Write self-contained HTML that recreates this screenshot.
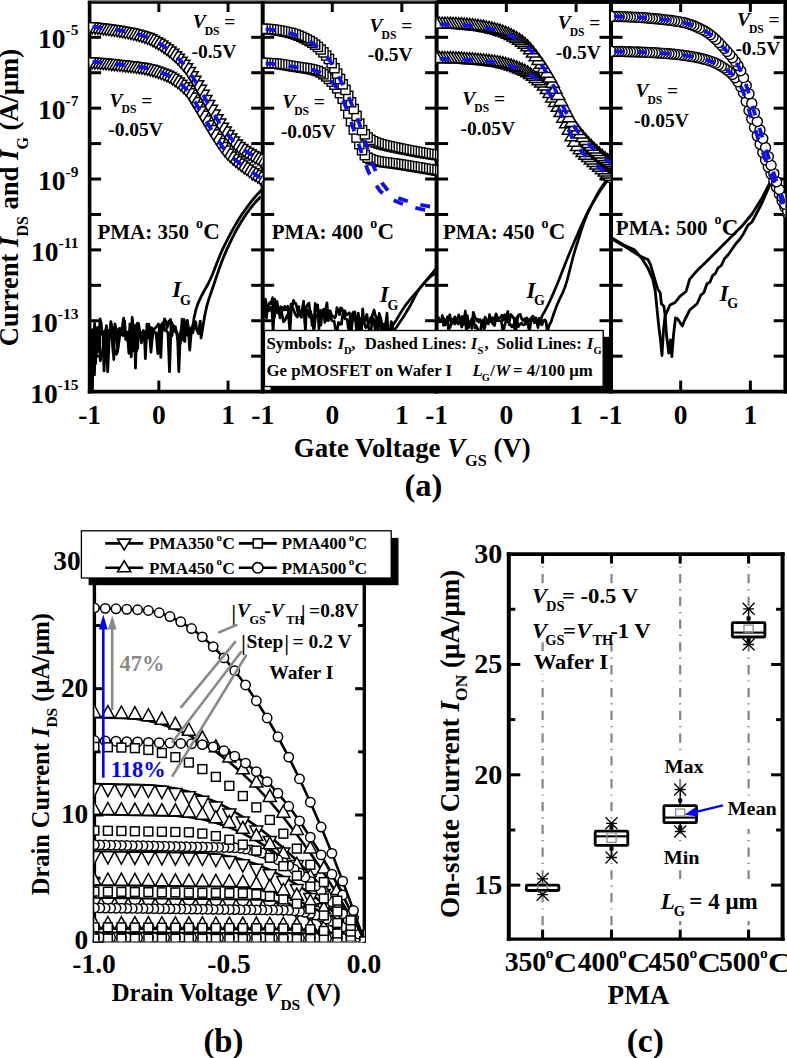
<!DOCTYPE html>
<html><head><meta charset="utf-8"><style>
html,body{margin:0;padding:0;background:#fff;width:787px;height:1058px;overflow:hidden}
svg{display:block}
</style></head><body>
<svg width="787" height="1058" viewBox="0 0 787 1058" font-family="Liberation Serif" font-weight="bold">
<rect width="787" height="1058" fill="#fff"/>
<line x1="88.00" y1="0.60" x2="436.60" y2="0.60" stroke="#808080" stroke-width="1.2" />
<line x1="89.60" y1="1.20" x2="89.60" y2="393.45" stroke="#000" stroke-width="3.6" />
<line x1="262.70" y1="1.20" x2="262.70" y2="393.45" stroke="#000" stroke-width="4.0" />
<line x1="436.60" y1="1.20" x2="436.60" y2="393.45" stroke="#000" stroke-width="4.0" />
<line x1="611.00" y1="0.00" x2="611.00" y2="393.45" stroke="#000" stroke-width="4.0" />
<line x1="785.20" y1="0.00" x2="785.20" y2="393.45" stroke="#000" stroke-width="3.6" />
<line x1="87.80" y1="2.50" x2="787.20" y2="2.50" stroke="#000" stroke-width="2.6" />
<line x1="436.60" y1="1.90" x2="787.20" y2="1.90" stroke="#000" stroke-width="3.8" />
<line x1="87.80" y1="391.60" x2="787.20" y2="391.60" stroke="#000" stroke-width="3.7" />
<line x1="89.60" y1="37.30" x2="101.10" y2="37.30" stroke="#000" stroke-width="3" />
<line x1="251.20" y1="37.30" x2="274.20" y2="37.30" stroke="#000" stroke-width="3" />
<line x1="425.10" y1="37.30" x2="448.10" y2="37.30" stroke="#000" stroke-width="3" />
<line x1="599.50" y1="37.30" x2="622.50" y2="37.30" stroke="#000" stroke-width="3" />
<line x1="773.70" y1="37.30" x2="785.20" y2="37.30" stroke="#000" stroke-width="3" />
<line x1="89.60" y1="72.73" x2="101.10" y2="72.73" stroke="#000" stroke-width="3" />
<line x1="251.20" y1="72.73" x2="274.20" y2="72.73" stroke="#000" stroke-width="3" />
<line x1="425.10" y1="72.73" x2="448.10" y2="72.73" stroke="#000" stroke-width="3" />
<line x1="599.50" y1="72.73" x2="622.50" y2="72.73" stroke="#000" stroke-width="3" />
<line x1="773.70" y1="72.73" x2="785.20" y2="72.73" stroke="#000" stroke-width="3" />
<line x1="89.60" y1="108.16" x2="101.10" y2="108.16" stroke="#000" stroke-width="3" />
<line x1="251.20" y1="108.16" x2="274.20" y2="108.16" stroke="#000" stroke-width="3" />
<line x1="425.10" y1="108.16" x2="448.10" y2="108.16" stroke="#000" stroke-width="3" />
<line x1="599.50" y1="108.16" x2="622.50" y2="108.16" stroke="#000" stroke-width="3" />
<line x1="773.70" y1="108.16" x2="785.20" y2="108.16" stroke="#000" stroke-width="3" />
<line x1="89.60" y1="143.59" x2="101.10" y2="143.59" stroke="#000" stroke-width="3" />
<line x1="251.20" y1="143.59" x2="274.20" y2="143.59" stroke="#000" stroke-width="3" />
<line x1="425.10" y1="143.59" x2="448.10" y2="143.59" stroke="#000" stroke-width="3" />
<line x1="599.50" y1="143.59" x2="622.50" y2="143.59" stroke="#000" stroke-width="3" />
<line x1="773.70" y1="143.59" x2="785.20" y2="143.59" stroke="#000" stroke-width="3" />
<line x1="89.60" y1="179.02" x2="101.10" y2="179.02" stroke="#000" stroke-width="3" />
<line x1="251.20" y1="179.02" x2="274.20" y2="179.02" stroke="#000" stroke-width="3" />
<line x1="425.10" y1="179.02" x2="448.10" y2="179.02" stroke="#000" stroke-width="3" />
<line x1="599.50" y1="179.02" x2="622.50" y2="179.02" stroke="#000" stroke-width="3" />
<line x1="773.70" y1="179.02" x2="785.20" y2="179.02" stroke="#000" stroke-width="3" />
<line x1="89.60" y1="214.45" x2="101.10" y2="214.45" stroke="#000" stroke-width="3" />
<line x1="251.20" y1="214.45" x2="274.20" y2="214.45" stroke="#000" stroke-width="3" />
<line x1="425.10" y1="214.45" x2="448.10" y2="214.45" stroke="#000" stroke-width="3" />
<line x1="599.50" y1="214.45" x2="622.50" y2="214.45" stroke="#000" stroke-width="3" />
<line x1="773.70" y1="214.45" x2="785.20" y2="214.45" stroke="#000" stroke-width="3" />
<line x1="89.60" y1="249.88" x2="101.10" y2="249.88" stroke="#000" stroke-width="3" />
<line x1="251.20" y1="249.88" x2="274.20" y2="249.88" stroke="#000" stroke-width="3" />
<line x1="425.10" y1="249.88" x2="448.10" y2="249.88" stroke="#000" stroke-width="3" />
<line x1="599.50" y1="249.88" x2="622.50" y2="249.88" stroke="#000" stroke-width="3" />
<line x1="773.70" y1="249.88" x2="785.20" y2="249.88" stroke="#000" stroke-width="3" />
<line x1="89.60" y1="285.31" x2="101.10" y2="285.31" stroke="#000" stroke-width="3" />
<line x1="251.20" y1="285.31" x2="274.20" y2="285.31" stroke="#000" stroke-width="3" />
<line x1="425.10" y1="285.31" x2="448.10" y2="285.31" stroke="#000" stroke-width="3" />
<line x1="599.50" y1="285.31" x2="622.50" y2="285.31" stroke="#000" stroke-width="3" />
<line x1="773.70" y1="285.31" x2="785.20" y2="285.31" stroke="#000" stroke-width="3" />
<line x1="89.60" y1="320.74" x2="101.10" y2="320.74" stroke="#000" stroke-width="3" />
<line x1="251.20" y1="320.74" x2="274.20" y2="320.74" stroke="#000" stroke-width="3" />
<line x1="425.10" y1="320.74" x2="448.10" y2="320.74" stroke="#000" stroke-width="3" />
<line x1="599.50" y1="320.74" x2="622.50" y2="320.74" stroke="#000" stroke-width="3" />
<line x1="773.70" y1="320.74" x2="785.20" y2="320.74" stroke="#000" stroke-width="3" />
<line x1="89.60" y1="356.17" x2="101.10" y2="356.17" stroke="#000" stroke-width="3" />
<line x1="251.20" y1="356.17" x2="274.20" y2="356.17" stroke="#000" stroke-width="3" />
<line x1="425.10" y1="356.17" x2="448.10" y2="356.17" stroke="#000" stroke-width="3" />
<line x1="599.50" y1="356.17" x2="622.50" y2="356.17" stroke="#000" stroke-width="3" />
<line x1="773.70" y1="356.17" x2="785.20" y2="356.17" stroke="#000" stroke-width="3" />
<line x1="158.84" y1="391.60" x2="158.84" y2="380.60" stroke="#000" stroke-width="3" />
<line x1="158.84" y1="2.00" x2="158.84" y2="12.00" stroke="#000" stroke-width="3" />
<line x1="228.08" y1="391.60" x2="228.08" y2="380.60" stroke="#000" stroke-width="3" />
<line x1="228.08" y1="2.00" x2="228.08" y2="12.00" stroke="#000" stroke-width="3" />
<line x1="332.26" y1="391.60" x2="332.26" y2="380.60" stroke="#000" stroke-width="3" />
<line x1="332.26" y1="2.00" x2="332.26" y2="12.00" stroke="#000" stroke-width="3" />
<line x1="401.82" y1="391.60" x2="401.82" y2="380.60" stroke="#000" stroke-width="3" />
<line x1="401.82" y1="2.00" x2="401.82" y2="12.00" stroke="#000" stroke-width="3" />
<line x1="506.36" y1="391.60" x2="506.36" y2="380.60" stroke="#000" stroke-width="3" />
<line x1="506.36" y1="2.00" x2="506.36" y2="12.00" stroke="#000" stroke-width="3" />
<line x1="576.12" y1="391.60" x2="576.12" y2="380.60" stroke="#000" stroke-width="3" />
<line x1="576.12" y1="2.00" x2="576.12" y2="12.00" stroke="#000" stroke-width="3" />
<line x1="680.68" y1="391.60" x2="680.68" y2="380.60" stroke="#000" stroke-width="3" />
<line x1="680.68" y1="2.00" x2="680.68" y2="12.00" stroke="#000" stroke-width="3" />
<line x1="750.36" y1="391.60" x2="750.36" y2="380.60" stroke="#000" stroke-width="3" />
<line x1="750.36" y1="2.00" x2="750.36" y2="12.00" stroke="#000" stroke-width="3" />
<text x="78.4" y="48.40" font-size="27.5" text-anchor="end">10<tspan font-size="15.5" dy="-13.2">-5</tspan></text>
<text x="78.4" y="119.26" font-size="27.5" text-anchor="end">10<tspan font-size="15.5" dy="-13.2">-7</tspan></text>
<text x="78.4" y="190.12" font-size="27.5" text-anchor="end">10<tspan font-size="15.5" dy="-13.2">-9</tspan></text>
<text x="78.4" y="260.98" font-size="27.5" text-anchor="end">10<tspan font-size="15.5" dy="-13.2">-11</tspan></text>
<text x="78.4" y="331.84" font-size="27.5" text-anchor="end">10<tspan font-size="15.5" dy="-13.2">-13</tspan></text>
<text x="78.4" y="402.70" font-size="27.5" text-anchor="end">10<tspan font-size="15.5" dy="-13.2">-15</tspan></text>
<text x="89.60" y="424.00" font-size="27.5" text-anchor="middle" >-1</text>
<text x="158.84" y="424.00" font-size="27.5" text-anchor="middle" >0</text>
<text x="228.08" y="424.00" font-size="27.5" text-anchor="middle" >1</text>
<text x="262.70" y="424.00" font-size="27.5" text-anchor="middle" >-1</text>
<text x="332.26" y="424.00" font-size="27.5" text-anchor="middle" >0</text>
<text x="401.82" y="424.00" font-size="27.5" text-anchor="middle" >1</text>
<text x="436.60" y="424.00" font-size="27.5" text-anchor="middle" >-1</text>
<text x="506.36" y="424.00" font-size="27.5" text-anchor="middle" >0</text>
<text x="576.12" y="424.00" font-size="27.5" text-anchor="middle" >1</text>
<text x="611.00" y="424.00" font-size="27.5" text-anchor="middle" >-1</text>
<text x="680.68" y="424.00" font-size="27.5" text-anchor="middle" >0</text>
<text x="750.36" y="424.00" font-size="27.5" text-anchor="middle" >1</text>
<text transform="translate(18.2,346.2) rotate(-90)" font-size="26.6">Current <tspan font-style="italic">I</tspan><tspan font-size="16" dy="9.3">DS</tspan><tspan dy="-9.3"> and </tspan><tspan font-style="italic">I</tspan><tspan font-size="16" dy="9.3">G</tspan><tspan dy="-9.3"> (A/μm)</tspan></text>
<text x="293.8" y="456.6" font-size="26.8">Gate Voltage <tspan font-style="italic">V</tspan><tspan font-size="16.3" dy="9">GS</tspan><tspan dy="-9"> (V)</tspan></text>
<text x="423.50" y="495.50" font-size="32.5" text-anchor="middle" >(a)</text>
<text x="192.66" y="28.30" font-size="19.5" text-anchor="start" font-style="italic" >V</text>
<text x="204.66" y="35.10" font-size="11.6" text-anchor="start" >DS</text>
<text x="224.26" y="28.30" font-size="19.5" text-anchor="start" >=</text>
<text x="191.49" y="58.00" font-size="19.5" text-anchor="start" >-0.5V</text>
<text x="109.56" y="106.50" font-size="19.5" text-anchor="start" font-style="italic" >V</text>
<text x="121.56" y="113.30" font-size="11.6" text-anchor="start" >DS</text>
<text x="141.16" y="106.50" font-size="19.5" text-anchor="start" >=</text>
<text x="108.19" y="136.30" font-size="19.5" text-anchor="start" >-0.05V</text>
<text x="369.56" y="31.70" font-size="19.5" text-anchor="start" font-style="italic" >V</text>
<text x="381.56" y="38.50" font-size="11.6" text-anchor="start" >DS</text>
<text x="401.16" y="31.70" font-size="19.5" text-anchor="start" >=</text>
<text x="367.69" y="61.40" font-size="19.5" text-anchor="start" >-0.5V</text>
<text x="282.16" y="108.30" font-size="19.5" text-anchor="start" font-style="italic" >V</text>
<text x="294.16" y="115.10" font-size="11.6" text-anchor="start" >DS</text>
<text x="313.76" y="108.30" font-size="19.5" text-anchor="start" >=</text>
<text x="280.89" y="138.10" font-size="19.5" text-anchor="start" >-0.05V</text>
<text x="557.66" y="29.40" font-size="19.5" text-anchor="start" font-style="italic" >V</text>
<text x="569.66" y="36.20" font-size="11.6" text-anchor="start" >DS</text>
<text x="589.26" y="29.40" font-size="19.5" text-anchor="start" >=</text>
<text x="555.79" y="59.10" font-size="19.5" text-anchor="start" >-0.5V</text>
<text x="462.36" y="105.20" font-size="19.5" text-anchor="start" font-style="italic" >V</text>
<text x="474.36" y="112.00" font-size="11.6" text-anchor="start" >DS</text>
<text x="493.96" y="105.20" font-size="19.5" text-anchor="start" >=</text>
<text x="460.49" y="135.00" font-size="19.5" text-anchor="start" >-0.05V</text>
<text x="736.96" y="26.00" font-size="19.5" text-anchor="start" font-style="italic" >V</text>
<text x="748.96" y="32.80" font-size="11.6" text-anchor="start" >DS</text>
<text x="768.56" y="26.00" font-size="19.5" text-anchor="start" >=</text>
<text x="735.39" y="55.40" font-size="19.5" text-anchor="start" >-0.5V</text>
<text x="635.46" y="97.40" font-size="19.5" text-anchor="start" font-style="italic" >V</text>
<text x="647.46" y="104.20" font-size="11.6" text-anchor="start" >DS</text>
<text x="667.06" y="97.40" font-size="19.5" text-anchor="start" >=</text>
<text x="634.09" y="127.20" font-size="19.5" text-anchor="start" >-0.05V</text>
<text x="97.44" y="239.20" font-size="21" text-anchor="start" >PMA: 350 </text>
<text x="196.04" y="228.40" font-size="14" text-anchor="start" >o</text>
<text x="203.24" y="239.20" font-size="23" text-anchor="start" >C</text>
<text x="271.74" y="239.20" font-size="21" text-anchor="start" >PMA: 400 </text>
<text x="370.34" y="228.40" font-size="14" text-anchor="start" >o</text>
<text x="377.54" y="239.20" font-size="23" text-anchor="start" >C</text>
<text x="442.94" y="239.20" font-size="21" text-anchor="start" >PMA: 450 </text>
<text x="541.54" y="228.40" font-size="14" text-anchor="start" >o</text>
<text x="548.74" y="239.20" font-size="23" text-anchor="start" >C</text>
<text x="615.84" y="234.70" font-size="21" text-anchor="start" >PMA: 500 </text>
<text x="714.44" y="223.90" font-size="14" text-anchor="start" >o</text>
<text x="721.64" y="234.70" font-size="23" text-anchor="start" >C</text>
<text x="172.22" y="297.20" font-size="23" text-anchor="start" font-style="italic" >I</text>
<text x="179.92" y="304.80" font-size="14" text-anchor="start" >G</text>
<text x="379.82" y="302.40" font-size="23" text-anchor="start" font-style="italic" >I</text>
<text x="387.52" y="310.00" font-size="14" text-anchor="start" >G</text>
<text x="526.42" y="297.80" font-size="23" text-anchor="start" font-style="italic" >I</text>
<text x="534.12" y="305.40" font-size="14" text-anchor="start" >G</text>
<text x="719.62" y="300.80" font-size="23" text-anchor="start" font-style="italic" >I</text>
<text x="727.32" y="308.40" font-size="14" text-anchor="start" >G</text>
<g clip-path="url(#ca0)">
<polyline points="90.00,330.19 91.51,366.68 92.43,329.57 93.97,338.42 95.55,363.76 97.14,328.53 98.60,351.61 99.98,318.94 101.08,322.88 102.07,334.33 103.00,331.47 104.01,370.94 105.09,350.91 106.45,325.54 107.67,371.69 109.03,342.73 110.82,321.63 112.01,328.01 113.79,359.53 114.85,323.94 116.69,331.37 117.75,349.90 119.40,338.38 120.48,331.03 122.42,335.29 123.75,335.47 124.63,321.07 125.75,339.34 127.20,332.01 128.91,353.24 129.91,323.96 131.76,347.62 132.78,350.80 134.02,330.72 135.57,325.18 136.50,351.12 137.47,323.06 138.67,328.62 139.66,332.57 141.52,342.75 143.44,330.52 144.36,331.75 145.36,358.66 147.00,324.14 148.14,337.92 149.42,332.99 150.94,352.14 152.18,338.60 153.91,329.32 155.51,327.84 157.44,325.72 158.31,324.01 160.03,328.20 161.72,323.95 162.94,328.49 164.55,318.96 166.27,322.15 167.18,327.74 168.81,321.41 170.64,319.55 171.89,335.75 173.24,328.83 174.24,331.27 175.67,330.94 177.47,333.72 178.83,371.60 180.27,334.80 181.34,329.27 182.50,325.87 184.20,319.63 185.87,330.27 187.11,334.82 188.20,325.91 189.72,350.05 191.54,328.76 193.38,323.67 194.00,318.00 196.00,309.35 198.00,303.35 200.00,299.00 202.00,294.97 204.00,291.28 206.00,287.70 208.00,284.02 210.00,280.00 212.00,275.47 214.00,270.51 216.00,265.34 218.00,260.17 220.00,255.20 222.00,250.64 224.00,246.47 226.00,242.42 228.00,238.47 230.00,234.63 232.00,230.92 234.00,227.33 236.00,223.86 238.00,220.54 240.00,217.35 242.00,214.32 244.00,211.42 246.00,208.61 248.00,205.88 250.00,203.24 252.00,200.70 254.00,198.26 256.00,195.93 258.00,193.72 260.00,191.62 262.00,189.66" fill="none" stroke="#000" stroke-width="2.8" stroke-linejoin="round" />
<polyline points="90.00,365.31 90.94,337.51 92.80,369.70 94.62,323.38 96.21,354.40 97.86,327.28 99.26,327.48 100.29,360.74 101.67,353.08 102.96,350.80 104.45,333.88 106.31,327.74 107.69,334.62 108.98,330.45 110.09,334.17 111.74,330.13 113.31,353.93 114.75,350.63 116.47,354.22 117.56,351.51 118.78,328.75 120.03,328.37 120.87,331.92 122.15,328.29 123.68,318.07 125.02,335.01 126.70,336.45 128.56,343.24 129.86,329.85 131.28,356.81 132.17,317.51 133.47,330.32 134.62,333.18 135.48,368.18 136.56,325.40 137.74,348.56 138.61,323.58 139.77,332.76 141.59,332.49 143.24,333.31 144.28,339.46 145.91,332.61 147.22,331.17 148.84,324.14 150.11,338.40 151.49,327.61 153.28,332.03 155.16,332.26 156.10,332.75 157.85,353.63 159.39,327.19 160.85,357.32 162.05,328.28 163.47,322.18 164.72,330.35 166.10,330.03 168.01,333.06 169.51,371.63 171.22,321.90 172.87,325.27 173.96,327.22 175.33,326.70 177.09,335.52 179.01,343.53 180.25,343.57 182.14,319.03 183.49,340.34 184.76,341.62 185.85,324.61 187.33,320.42 189.10,336.85 190.91,328.41 192.82,332.79 193.94,327.24 195.67,321.80 196.56,329.39 198.41,333.45 200.26,321.13 201.00,338.00 203.00,326.00 205.00,314.36 207.00,305.27 209.00,298.65 211.00,292.90 213.00,287.01 215.00,281.03 217.00,275.10 219.00,269.32 221.00,263.75 223.00,258.48 225.00,253.60 227.00,249.11 229.00,244.79 231.00,240.61 233.00,236.59 235.00,232.72 237.00,229.02 239.00,225.48 241.00,222.10 243.00,218.90 245.00,215.87 247.00,213.02 249.00,210.28 251.00,207.66 253.00,205.15 255.00,202.78 257.00,200.54 259.00,198.45 261.00,196.51" fill="none" stroke="#000" stroke-width="2.8" stroke-linejoin="round" />
<polyline points="90.00,330.00 90.50,388.00 91.50,340.00 92.50,390.00 93.50,335.00 94.50,375.00 95.50,332.00" fill="none" stroke="#000" stroke-width="2.6" stroke-linejoin="round" />
</g>
<g clip-path="url(#ca1)">
<polyline points="264.00,301.69 265.50,299.14 266.39,304.49 267.98,306.66 269.73,302.60 271.06,303.78 272.60,297.65 274.13,318.04 276.04,308.85 277.00,301.56 278.37,309.36 280.19,317.99 282.08,307.34 283.96,309.91 284.85,306.30 285.89,309.90 287.81,306.27 289.75,324.30 291.03,304.07 291.91,308.56 293.42,300.43 294.97,303.31 295.90,303.47 296.97,308.23 297.82,312.50 298.74,306.49 299.97,315.60 301.49,317.36 302.54,307.11 303.62,301.00 305.18,324.11 306.32,307.21 308.13,303.80 309.01,303.15 310.26,314.53 311.87,315.24 313.72,330.15 315.19,303.37 316.69,310.44 317.68,304.86 318.92,329.16 320.56,310.22 321.87,312.41 323.65,309.26 324.78,322.40 325.75,309.06 326.98,302.87 328.35,320.71 330.14,310.71 331.96,315.91 333.58,316.51 334.83,318.01 335.91,315.73 336.87,307.69 338.42,310.94 339.56,314.72 340.58,307.94 341.86,308.57 343.38,312.57 344.78,310.74 346.31,315.27 348.17,313.71 349.26,312.60 350.37,315.91 351.46,330.85 353.11,312.60 354.81,311.75 356.55,332.00 358.23,313.03 359.72,321.91 360.61,318.25 362.17,320.58 363.93,321.71 364.85,320.96 365.81,316.57 366.97,314.33 368.13,325.41 369.62,332.00 371.10,332.00 372.25,315.76 374.11,309.94 375.21,315.18 376.63,317.81 377.84,331.68 379.19,313.47 380.78,318.18 381.69,323.07 383.03,332.00 384.13,328.55 385.64,323.77 387.01,313.10 388.00,332.00 390.00,329.25 392.00,326.41 394.00,323.49 396.00,320.46 398.00,317.20 400.00,313.85 402.00,310.54 404.00,307.43 406.00,304.64 408.00,302.05 410.00,299.59 412.00,297.24 414.00,294.94 416.00,292.66 418.00,290.36 420.00,288.00 422.00,285.59 424.00,283.19 426.00,280.78 428.00,278.37 430.00,275.96 432.00,273.55 434.00,271.14 436.00,268.72" fill="none" stroke="#000" stroke-width="2.7" stroke-linejoin="round" />
<polyline points="264.00,317.06 265.21,303.60 266.39,318.00 267.36,308.90 268.90,310.74 270.79,307.06 272.12,312.86 273.10,332.00 274.83,299.36 276.77,312.54 278.06,312.84 279.38,311.30 280.67,306.69 282.01,313.93 283.44,321.86 285.33,319.60 286.75,316.13 288.35,313.62 289.95,332.00 291.51,305.67 293.33,309.14 295.28,314.14 297.24,317.04 298.23,313.25 300.13,311.11 301.82,314.92 303.64,314.51 304.53,315.42 305.40,332.00 306.38,309.62 307.87,310.91 309.54,317.28 310.77,311.35 312.07,325.32 313.02,325.34 314.24,328.60 315.54,316.31 317.16,315.53 318.04,311.85 319.52,319.83 320.83,325.27 322.21,312.17 323.25,310.89 324.56,316.09 326.35,320.57 328.23,313.66 330.06,311.94 331.67,320.55 332.73,321.05 334.11,321.05 335.85,332.00 337.01,332.00 338.44,322.39 340.14,324.38 341.38,324.18 342.98,313.22 344.22,315.58 345.19,319.00 347.12,319.36 348.89,332.00 350.32,314.72 351.68,323.38 352.97,312.52 354.02,319.40 355.31,320.21 356.79,321.66 358.34,330.35 359.61,323.23 361.47,332.00 362.69,308.73 363.86,321.75 365.76,327.65 367.47,325.93 369.23,322.15 370.71,317.42 371.76,322.79 373.49,318.49 375.14,329.58 376.79,318.99 378.55,325.93 379.43,324.08 380.27,323.31 381.14,332.00 382.42,324.34 384.31,323.99 385.59,324.76 387.10,332.00 388.67,332.00 390.17,330.46 391.27,321.49 392.29,323.50 393.00,332.00 395.00,329.25 397.00,326.41 399.00,323.49 401.00,320.49 403.00,317.40 405.00,314.24 407.00,311.00 409.00,307.68 411.00,304.24 413.00,300.40 415.00,296.43 417.00,292.64 419.00,289.35 421.00,286.77 423.00,284.37 425.00,282.08 427.00,279.94 429.00,277.99 431.00,276.27 433.00,274.81 435.00,273.67" fill="none" stroke="#000" stroke-width="2.7" stroke-linejoin="round" />
</g>
<g clip-path="url(#ca2)">
<polyline points="438.00,316.51 439.47,320.90 441.50,319.80 442.43,318.39 443.63,318.39 445.31,324.92 447.39,316.87 448.45,329.97 450.35,326.64 452.08,319.63 453.75,321.42 454.79,316.84 456.78,321.93 458.24,323.99 460.11,320.07 461.79,327.06 463.71,318.16 465.36,321.49 467.11,323.72 468.90,326.26 470.91,320.46 471.97,328.47 473.23,312.29 474.96,317.31 476.89,320.81 477.79,319.24 478.77,322.11 480.02,319.57 481.10,321.55 483.06,324.83 484.08,323.69 485.09,317.13 487.16,320.59 488.44,323.91 489.52,314.62 490.59,321.66 492.41,317.77 494.09,320.36 495.99,313.90 497.46,317.71 498.77,318.18 500.56,317.53 501.95,315.23 503.47,320.06 504.67,314.74 506.34,320.67 508.35,322.05 509.36,321.44 510.83,314.48 512.02,315.85 513.92,318.40 515.63,332.00 517.13,320.75 518.19,315.13 520.20,314.31 521.75,318.95 523.32,320.80 524.86,318.56 525.96,323.86 527.17,318.83 528.52,320.15 529.65,321.00 530.64,318.52 532.71,316.06 533.76,317.57 534.86,321.92 535.91,317.78 537.97,327.56 539.18,318.16 540.49,324.09 542.00,316.00 544.00,312.57 546.00,308.90 548.00,305.00 550.00,300.81 552.00,296.35 554.00,291.71 556.00,287.00 558.00,282.17 560.00,277.17 562.00,272.06 564.00,266.91 566.00,261.81 568.00,256.81 570.00,252.00 572.00,247.29 574.00,242.56 576.00,237.86 578.00,233.21 580.00,228.63 582.00,224.17 584.00,219.85 586.00,215.69 588.00,211.73 590.00,208.00 592.00,204.44 594.00,200.96 596.00,197.58 598.00,194.30 600.00,191.13 602.00,188.08 604.00,185.15 606.00,182.36 608.00,179.71 610.00,177.20" fill="none" stroke="#000" stroke-width="2.7" stroke-linejoin="round" />
<polyline points="438.00,321.82 439.19,321.87 440.33,321.32 441.37,321.57 442.30,315.48 443.52,325.44 445.23,323.34 446.66,322.59 448.08,320.93 449.81,314.71 451.47,324.18 452.70,319.25 454.73,324.08 456.71,320.97 458.71,314.90 460.76,320.78 462.16,316.29 463.54,324.64 465.34,310.98 466.33,332.00 467.41,315.65 468.66,327.52 470.41,322.03 472.04,318.59 473.65,320.13 474.94,327.87 475.87,325.37 477.12,327.78 478.55,332.00 480.53,330.25 481.81,321.93 483.08,319.84 484.02,329.79 486.01,322.53 487.23,320.37 489.06,320.36 490.95,317.79 492.63,323.61 494.52,325.56 496.44,315.38 497.72,320.73 499.19,320.75 501.22,320.48 503.06,332.00 504.03,327.92 505.85,321.06 507.79,311.31 509.24,324.75 510.15,324.26 511.91,326.94 513.56,324.52 515.18,330.45 516.47,317.95 518.24,326.78 520.16,323.91 521.51,323.24 523.42,325.12 525.16,324.03 526.89,317.98 528.03,324.38 529.39,332.00 530.83,321.86 532.75,317.42 534.38,322.82 536.23,320.34 537.74,320.12 539.49,323.23 540.39,322.52 542.05,324.80 543.74,320.40 545.09,319.88 546.05,321.53 547.29,332.00 549.37,324.89 551.00,322.00 553.00,315.97 555.00,310.28 557.00,305.00 559.00,300.39 561.00,296.25 563.00,291.99 565.00,287.00 567.00,280.62 569.00,273.05 571.00,265.02 573.00,257.24 575.00,250.38 577.00,243.92 579.00,237.55 581.00,231.36 583.00,225.44 585.00,219.86 587.00,214.72 589.00,210.09 591.00,206.00 593.00,202.07 595.00,198.27 597.00,194.63 599.00,191.18 601.00,187.94 603.00,184.95 605.00,182.23 607.00,179.81 609.00,177.72 611.00,176.00" fill="none" stroke="#000" stroke-width="2.7" stroke-linejoin="round" />
</g>
<g clip-path="url(#ca3)">
<polyline points="611.00,237.40 623.30,244.80 634.40,249.70 641.70,258.30 647.90,268.10 652.80,279.20 655.30,291.50 657.10,310.00 659.00,328.40 660.50,340.00 662.00,355.50 663.50,330.00 665.10,316.00 670.00,305.00 675.00,302.60 679.90,296.40 686.00,291.50 689.70,279.20 697.10,270.60 705.00,263.00 718.00,250.00 730.00,238.00 742.00,226.00 752.00,214.00 762.00,198.00 772.00,179.00 778.00,170.00" fill="none" stroke="#000" stroke-width="2.8" stroke-linejoin="round" />
<polyline points="611.00,238.50 625.00,246.50 640.50,256.40 647.90,259.50 650.40,264.40 654.00,276.70 657.70,289.00 660.20,292.70 661.40,303.80 663.90,306.30 665.10,314.90 666.50,335.00 668.80,353.00 670.50,340.00 671.90,356.70 673.50,335.00 675.50,318.00 677.40,318.60 682.30,326.00 684.80,319.80 689.70,310.00 697.10,303.80 700.80,295.20 703.84,292.72 706.87,283.92 710.00,282.00 712.64,275.50 715.28,273.69 718.00,268.00 721.30,265.50 724.60,258.51 728.00,255.00 731.96,249.29 735.92,243.63 740.00,239.00 743.96,232.96 747.92,225.12 752.00,222.00 762.00,203.00 772.00,180.00 778.00,171.00" fill="none" stroke="#000" stroke-width="2.8" stroke-linejoin="round" />
</g>
<defs>
<clipPath id="ca0"><rect x="89.6" y="0" width="173.1" height="391.6"/></clipPath>
<clipPath id="ca1"><rect x="262.7" y="0" width="173.9" height="391.6"/></clipPath>
<clipPath id="ca2"><rect x="436.6" y="0" width="174.4" height="391.6"/></clipPath>
<clipPath id="ca3"><rect x="611.0" y="0" width="174.2" height="391.6"/></clipPath>
</defs>
<g clip-path="url(#ca0)">
<path d="M256.98,176.36H269.98L263.48,186.96Z" fill="#fff" stroke="#000" stroke-width="1.5"/>
<path d="M254.22,174.38H267.22L260.72,184.98Z" fill="#fff" stroke="#000" stroke-width="1.5"/>
<path d="M251.46,172.46H264.46L257.96,183.06Z" fill="#fff" stroke="#000" stroke-width="1.5"/>
<path d="M248.70,170.61H261.70L255.20,181.21Z" fill="#fff" stroke="#000" stroke-width="1.5"/>
<path d="M245.94,168.80H258.94L252.44,179.40Z" fill="#fff" stroke="#000" stroke-width="1.5"/>
<path d="M243.18,166.97H256.18L249.68,177.57Z" fill="#fff" stroke="#000" stroke-width="1.5"/>
<path d="M240.42,165.08H253.42L246.92,175.68Z" fill="#fff" stroke="#000" stroke-width="1.5"/>
<path d="M237.66,163.10H250.66L244.16,173.70Z" fill="#fff" stroke="#000" stroke-width="1.5"/>
<path d="M234.90,161.00H247.90L241.40,171.60Z" fill="#fff" stroke="#000" stroke-width="1.5"/>
<path d="M232.14,158.89H245.14L238.64,169.49Z" fill="#fff" stroke="#000" stroke-width="1.5"/>
<path d="M229.38,156.71H242.38L235.88,167.31Z" fill="#fff" stroke="#000" stroke-width="1.5"/>
<path d="M226.62,154.40H239.62L233.12,165.00Z" fill="#fff" stroke="#000" stroke-width="1.5"/>
<path d="M223.86,151.91H236.86L230.36,162.51Z" fill="#fff" stroke="#000" stroke-width="1.5"/>
<path d="M221.10,149.18H234.10L227.60,159.78Z" fill="#fff" stroke="#000" stroke-width="1.5"/>
<path d="M218.34,146.12H231.34L224.84,156.72Z" fill="#fff" stroke="#000" stroke-width="1.5"/>
<path d="M215.58,142.52H228.58L222.08,153.12Z" fill="#fff" stroke="#000" stroke-width="1.5"/>
<path d="M212.82,138.49H225.82L219.32,149.09Z" fill="#fff" stroke="#000" stroke-width="1.5"/>
<path d="M210.06,134.20H223.06L216.56,144.80Z" fill="#fff" stroke="#000" stroke-width="1.5"/>
<path d="M207.30,129.79H220.30L213.80,140.39Z" fill="#fff" stroke="#000" stroke-width="1.5"/>
<path d="M204.54,125.41H217.54L211.04,136.01Z" fill="#fff" stroke="#000" stroke-width="1.5"/>
<path d="M201.78,120.84H214.78L208.28,131.44Z" fill="#fff" stroke="#000" stroke-width="1.5"/>
<path d="M199.02,116.07H212.02L205.52,126.67Z" fill="#fff" stroke="#000" stroke-width="1.5"/>
<path d="M196.26,111.30H209.26L202.76,121.90Z" fill="#fff" stroke="#000" stroke-width="1.5"/>
<path d="M193.50,106.68H206.50L200.00,117.28Z" fill="#fff" stroke="#000" stroke-width="1.5"/>
<path d="M190.74,102.13H203.74L197.24,112.73Z" fill="#fff" stroke="#000" stroke-width="1.5"/>
<path d="M187.98,97.44H200.98L194.48,108.04Z" fill="#fff" stroke="#000" stroke-width="1.5"/>
<path d="M185.22,92.90H198.22L191.72,103.50Z" fill="#fff" stroke="#000" stroke-width="1.5"/>
<path d="M182.46,88.79H195.46L188.96,99.39Z" fill="#fff" stroke="#000" stroke-width="1.5"/>
<path d="M179.70,85.41H192.70L186.20,96.01Z" fill="#fff" stroke="#000" stroke-width="1.5"/>
<path d="M176.94,82.71H189.94L183.44,93.31Z" fill="#fff" stroke="#000" stroke-width="1.5"/>
<path d="M174.18,80.24H187.18L180.68,90.84Z" fill="#fff" stroke="#000" stroke-width="1.5"/>
<path d="M171.42,77.99H184.42L177.92,88.59Z" fill="#fff" stroke="#000" stroke-width="1.5"/>
<path d="M168.66,75.96H181.66L175.16,86.56Z" fill="#fff" stroke="#000" stroke-width="1.5"/>
<path d="M165.90,74.16H178.90L172.40,84.76Z" fill="#fff" stroke="#000" stroke-width="1.5"/>
<path d="M163.14,72.59H176.14L169.64,83.19Z" fill="#fff" stroke="#000" stroke-width="1.5"/>
<path d="M160.38,71.25H173.38L166.88,81.85Z" fill="#fff" stroke="#000" stroke-width="1.5"/>
<path d="M157.62,70.05H170.62L164.12,80.65Z" fill="#fff" stroke="#000" stroke-width="1.5"/>
<path d="M154.86,68.94H167.86L161.36,79.54Z" fill="#fff" stroke="#000" stroke-width="1.5"/>
<path d="M152.10,67.91H165.10L158.60,78.51Z" fill="#fff" stroke="#000" stroke-width="1.5"/>
<path d="M149.34,66.97H162.34L155.84,77.57Z" fill="#fff" stroke="#000" stroke-width="1.5"/>
<path d="M146.58,66.12H159.58L153.08,76.72Z" fill="#fff" stroke="#000" stroke-width="1.5"/>
<path d="M143.82,65.35H156.82L150.32,75.95Z" fill="#fff" stroke="#000" stroke-width="1.5"/>
<path d="M141.06,64.66H154.06L147.56,75.26Z" fill="#fff" stroke="#000" stroke-width="1.5"/>
<path d="M138.30,64.07H151.30L144.80,74.67Z" fill="#fff" stroke="#000" stroke-width="1.5"/>
<path d="M135.54,63.56H148.54L142.04,74.16Z" fill="#fff" stroke="#000" stroke-width="1.5"/>
<path d="M132.78,63.10H145.78L139.28,73.70Z" fill="#fff" stroke="#000" stroke-width="1.5"/>
<path d="M130.02,62.70H143.02L136.52,73.30Z" fill="#fff" stroke="#000" stroke-width="1.5"/>
<path d="M127.26,62.33H140.26L133.76,72.93Z" fill="#fff" stroke="#000" stroke-width="1.5"/>
<path d="M124.50,61.99H137.50L131.00,72.59Z" fill="#fff" stroke="#000" stroke-width="1.5"/>
<path d="M121.74,61.67H134.74L128.24,72.27Z" fill="#fff" stroke="#000" stroke-width="1.5"/>
<path d="M118.98,61.37H131.98L125.48,71.97Z" fill="#fff" stroke="#000" stroke-width="1.5"/>
<path d="M116.22,61.07H129.22L122.72,71.67Z" fill="#fff" stroke="#000" stroke-width="1.5"/>
<path d="M113.46,60.77H126.46L119.96,71.37Z" fill="#fff" stroke="#000" stroke-width="1.5"/>
<path d="M110.70,60.47H123.70L117.20,71.07Z" fill="#fff" stroke="#000" stroke-width="1.5"/>
<path d="M107.94,60.16H120.94L114.44,70.76Z" fill="#fff" stroke="#000" stroke-width="1.5"/>
<path d="M105.18,59.85H118.18L111.68,70.45Z" fill="#fff" stroke="#000" stroke-width="1.5"/>
<path d="M102.42,59.55H115.42L108.92,70.15Z" fill="#fff" stroke="#000" stroke-width="1.5"/>
<path d="M99.66,59.27H112.66L106.16,69.87Z" fill="#fff" stroke="#000" stroke-width="1.5"/>
<path d="M96.90,59.00H109.90L103.40,69.60Z" fill="#fff" stroke="#000" stroke-width="1.5"/>
<path d="M94.14,58.75H107.14L100.64,69.35Z" fill="#fff" stroke="#000" stroke-width="1.5"/>
<path d="M91.38,58.54H104.38L97.88,69.14Z" fill="#fff" stroke="#000" stroke-width="1.5"/>
<path d="M88.62,58.35H101.62L95.12,68.95Z" fill="#fff" stroke="#000" stroke-width="1.5"/>
<path d="M85.86,58.21H98.86L92.36,68.81Z" fill="#fff" stroke="#000" stroke-width="1.5"/>
<path d="M83.10,58.10H96.10L89.60,68.70Z" fill="#fff" stroke="#000" stroke-width="1.5"/>
<path d="M256.98,157.75H269.98L263.48,168.35Z" fill="#fff" stroke="#000" stroke-width="1.5"/>
<path d="M254.22,156.16H267.22L260.72,166.76Z" fill="#fff" stroke="#000" stroke-width="1.5"/>
<path d="M251.46,154.54H264.46L257.96,165.14Z" fill="#fff" stroke="#000" stroke-width="1.5"/>
<path d="M248.70,152.94H261.70L255.20,163.54Z" fill="#fff" stroke="#000" stroke-width="1.5"/>
<path d="M245.94,151.39H258.94L252.44,161.99Z" fill="#fff" stroke="#000" stroke-width="1.5"/>
<path d="M243.18,149.82H256.18L249.68,160.42Z" fill="#fff" stroke="#000" stroke-width="1.5"/>
<path d="M240.42,148.20H253.42L246.92,158.80Z" fill="#fff" stroke="#000" stroke-width="1.5"/>
<path d="M237.66,146.46H250.66L244.16,157.06Z" fill="#fff" stroke="#000" stroke-width="1.5"/>
<path d="M234.90,144.55H247.90L241.40,155.15Z" fill="#fff" stroke="#000" stroke-width="1.5"/>
<path d="M232.14,142.42H245.14L238.64,153.02Z" fill="#fff" stroke="#000" stroke-width="1.5"/>
<path d="M229.38,139.95H242.38L235.88,150.55Z" fill="#fff" stroke="#000" stroke-width="1.5"/>
<path d="M226.62,137.10H239.62L233.12,147.70Z" fill="#fff" stroke="#000" stroke-width="1.5"/>
<path d="M223.86,133.93H236.86L230.36,144.53Z" fill="#fff" stroke="#000" stroke-width="1.5"/>
<path d="M221.10,130.51H234.10L227.60,141.11Z" fill="#fff" stroke="#000" stroke-width="1.5"/>
<path d="M218.34,126.90H231.34L224.84,137.50Z" fill="#fff" stroke="#000" stroke-width="1.5"/>
<path d="M215.58,123.16H228.58L222.08,133.76Z" fill="#fff" stroke="#000" stroke-width="1.5"/>
<path d="M212.82,119.10H225.82L219.32,129.70Z" fill="#fff" stroke="#000" stroke-width="1.5"/>
<path d="M210.06,114.67H223.06L216.56,125.27Z" fill="#fff" stroke="#000" stroke-width="1.5"/>
<path d="M207.30,110.00H220.30L213.80,120.60Z" fill="#fff" stroke="#000" stroke-width="1.5"/>
<path d="M204.54,105.25H217.54L211.04,115.85Z" fill="#fff" stroke="#000" stroke-width="1.5"/>
<path d="M201.78,100.47H214.78L208.28,111.07Z" fill="#fff" stroke="#000" stroke-width="1.5"/>
<path d="M199.02,95.44H212.02L205.52,106.04Z" fill="#fff" stroke="#000" stroke-width="1.5"/>
<path d="M196.26,90.34H209.26L202.76,100.94Z" fill="#fff" stroke="#000" stroke-width="1.5"/>
<path d="M193.50,85.37H206.50L200.00,95.97Z" fill="#fff" stroke="#000" stroke-width="1.5"/>
<path d="M190.74,80.71H203.74L197.24,91.31Z" fill="#fff" stroke="#000" stroke-width="1.5"/>
<path d="M187.98,76.13H200.98L194.48,86.73Z" fill="#fff" stroke="#000" stroke-width="1.5"/>
<path d="M185.22,71.66H198.22L191.72,82.26Z" fill="#fff" stroke="#000" stroke-width="1.5"/>
<path d="M182.46,67.46H195.46L188.96,78.06Z" fill="#fff" stroke="#000" stroke-width="1.5"/>
<path d="M179.70,63.66H192.70L186.20,74.26Z" fill="#fff" stroke="#000" stroke-width="1.5"/>
<path d="M176.94,60.35H189.94L183.44,70.95Z" fill="#fff" stroke="#000" stroke-width="1.5"/>
<path d="M174.18,57.26H187.18L180.68,67.86Z" fill="#fff" stroke="#000" stroke-width="1.5"/>
<path d="M171.42,54.36H184.42L177.92,64.96Z" fill="#fff" stroke="#000" stroke-width="1.5"/>
<path d="M168.66,51.67H181.66L175.16,62.27Z" fill="#fff" stroke="#000" stroke-width="1.5"/>
<path d="M165.90,49.18H178.90L172.40,59.78Z" fill="#fff" stroke="#000" stroke-width="1.5"/>
<path d="M163.14,46.91H176.14L169.64,57.51Z" fill="#fff" stroke="#000" stroke-width="1.5"/>
<path d="M160.38,44.85H173.38L166.88,55.45Z" fill="#fff" stroke="#000" stroke-width="1.5"/>
<path d="M157.62,42.91H170.62L164.12,53.51Z" fill="#fff" stroke="#000" stroke-width="1.5"/>
<path d="M154.86,41.06H167.86L161.36,51.66Z" fill="#fff" stroke="#000" stroke-width="1.5"/>
<path d="M152.10,39.30H165.10L158.60,49.90Z" fill="#fff" stroke="#000" stroke-width="1.5"/>
<path d="M149.34,37.66H162.34L155.84,48.26Z" fill="#fff" stroke="#000" stroke-width="1.5"/>
<path d="M146.58,36.15H159.58L153.08,46.75Z" fill="#fff" stroke="#000" stroke-width="1.5"/>
<path d="M143.82,34.80H156.82L150.32,45.40Z" fill="#fff" stroke="#000" stroke-width="1.5"/>
<path d="M141.06,33.62H154.06L147.56,44.22Z" fill="#fff" stroke="#000" stroke-width="1.5"/>
<path d="M138.30,32.63H151.30L144.80,43.23Z" fill="#fff" stroke="#000" stroke-width="1.5"/>
<path d="M135.54,31.74H148.54L142.04,42.34Z" fill="#fff" stroke="#000" stroke-width="1.5"/>
<path d="M132.78,30.93H145.78L139.28,41.53Z" fill="#fff" stroke="#000" stroke-width="1.5"/>
<path d="M130.02,30.18H143.02L136.52,40.78Z" fill="#fff" stroke="#000" stroke-width="1.5"/>
<path d="M127.26,29.50H140.26L133.76,40.10Z" fill="#fff" stroke="#000" stroke-width="1.5"/>
<path d="M124.50,28.86H137.50L131.00,39.46Z" fill="#fff" stroke="#000" stroke-width="1.5"/>
<path d="M121.74,28.27H134.74L128.24,38.87Z" fill="#fff" stroke="#000" stroke-width="1.5"/>
<path d="M118.98,27.72H131.98L125.48,38.32Z" fill="#fff" stroke="#000" stroke-width="1.5"/>
<path d="M116.22,27.21H129.22L122.72,37.81Z" fill="#fff" stroke="#000" stroke-width="1.5"/>
<path d="M113.46,26.72H126.46L119.96,37.32Z" fill="#fff" stroke="#000" stroke-width="1.5"/>
<path d="M110.70,26.26H123.70L117.20,36.86Z" fill="#fff" stroke="#000" stroke-width="1.5"/>
<path d="M107.94,25.83H120.94L114.44,36.43Z" fill="#fff" stroke="#000" stroke-width="1.5"/>
<path d="M105.18,25.43H118.18L111.68,36.03Z" fill="#fff" stroke="#000" stroke-width="1.5"/>
<path d="M102.42,25.06H115.42L108.92,35.66Z" fill="#fff" stroke="#000" stroke-width="1.5"/>
<path d="M99.66,24.70H112.66L106.16,35.30Z" fill="#fff" stroke="#000" stroke-width="1.5"/>
<path d="M96.90,24.35H109.90L103.40,34.95Z" fill="#fff" stroke="#000" stroke-width="1.5"/>
<path d="M94.14,24.01H107.14L100.64,34.61Z" fill="#fff" stroke="#000" stroke-width="1.5"/>
<path d="M91.38,23.69H104.38L97.88,34.29Z" fill="#fff" stroke="#000" stroke-width="1.5"/>
<path d="M88.62,23.37H101.62L95.12,33.97Z" fill="#fff" stroke="#000" stroke-width="1.5"/>
<path d="M85.86,23.08H98.86L92.36,33.68Z" fill="#fff" stroke="#000" stroke-width="1.5"/>
<path d="M83.10,22.80H96.10L89.60,33.40Z" fill="#fff" stroke="#000" stroke-width="1.5"/>
</g>
<g clip-path="url(#ca1)">
<rect x="434.74" y="166.49" width="9.2" height="9.2" fill="#fff" stroke="#000" stroke-width="1.4"/>
<rect x="431.98" y="166.00" width="9.2" height="9.2" fill="#fff" stroke="#000" stroke-width="1.4"/>
<rect x="429.22" y="165.50" width="9.2" height="9.2" fill="#fff" stroke="#000" stroke-width="1.4"/>
<rect x="426.46" y="165.02" width="9.2" height="9.2" fill="#fff" stroke="#000" stroke-width="1.4"/>
<rect x="423.70" y="164.53" width="9.2" height="9.2" fill="#fff" stroke="#000" stroke-width="1.4"/>
<rect x="420.94" y="164.06" width="9.2" height="9.2" fill="#fff" stroke="#000" stroke-width="1.4"/>
<rect x="418.18" y="163.58" width="9.2" height="9.2" fill="#fff" stroke="#000" stroke-width="1.4"/>
<rect x="415.42" y="163.11" width="9.2" height="9.2" fill="#fff" stroke="#000" stroke-width="1.4"/>
<rect x="412.66" y="162.65" width="9.2" height="9.2" fill="#fff" stroke="#000" stroke-width="1.4"/>
<rect x="409.90" y="162.18" width="9.2" height="9.2" fill="#fff" stroke="#000" stroke-width="1.4"/>
<rect x="407.14" y="161.73" width="9.2" height="9.2" fill="#fff" stroke="#000" stroke-width="1.4"/>
<rect x="404.38" y="161.27" width="9.2" height="9.2" fill="#fff" stroke="#000" stroke-width="1.4"/>
<rect x="401.62" y="160.82" width="9.2" height="9.2" fill="#fff" stroke="#000" stroke-width="1.4"/>
<rect x="398.86" y="160.37" width="9.2" height="9.2" fill="#fff" stroke="#000" stroke-width="1.4"/>
<rect x="396.10" y="159.93" width="9.2" height="9.2" fill="#fff" stroke="#000" stroke-width="1.4"/>
<rect x="393.34" y="159.49" width="9.2" height="9.2" fill="#fff" stroke="#000" stroke-width="1.4"/>
<rect x="390.58" y="159.08" width="9.2" height="9.2" fill="#fff" stroke="#000" stroke-width="1.4"/>
<rect x="387.82" y="158.72" width="9.2" height="9.2" fill="#fff" stroke="#000" stroke-width="1.4"/>
<rect x="385.06" y="158.39" width="9.2" height="9.2" fill="#fff" stroke="#000" stroke-width="1.4"/>
<rect x="382.30" y="158.05" width="9.2" height="9.2" fill="#fff" stroke="#000" stroke-width="1.4"/>
<rect x="379.54" y="157.68" width="9.2" height="9.2" fill="#fff" stroke="#000" stroke-width="1.4"/>
<rect x="376.78" y="157.28" width="9.2" height="9.2" fill="#fff" stroke="#000" stroke-width="1.4"/>
<rect x="374.02" y="156.80" width="9.2" height="9.2" fill="#fff" stroke="#000" stroke-width="1.4"/>
<rect x="371.26" y="156.22" width="9.2" height="9.2" fill="#fff" stroke="#000" stroke-width="1.4"/>
<rect x="368.50" y="155.52" width="9.2" height="9.2" fill="#fff" stroke="#000" stroke-width="1.4"/>
<rect x="365.74" y="154.52" width="9.2" height="9.2" fill="#fff" stroke="#000" stroke-width="1.4"/>
<rect x="362.98" y="153.08" width="9.2" height="9.2" fill="#fff" stroke="#000" stroke-width="1.4"/>
<rect x="360.22" y="150.49" width="9.2" height="9.2" fill="#fff" stroke="#000" stroke-width="1.4"/>
<rect x="357.46" y="145.57" width="9.2" height="9.2" fill="#fff" stroke="#000" stroke-width="1.4"/>
<rect x="354.70" y="139.54" width="9.2" height="9.2" fill="#fff" stroke="#000" stroke-width="1.4"/>
<rect x="351.94" y="132.91" width="9.2" height="9.2" fill="#fff" stroke="#000" stroke-width="1.4"/>
<rect x="349.18" y="124.92" width="9.2" height="9.2" fill="#fff" stroke="#000" stroke-width="1.4"/>
<rect x="346.42" y="116.73" width="9.2" height="9.2" fill="#fff" stroke="#000" stroke-width="1.4"/>
<rect x="343.66" y="108.94" width="9.2" height="9.2" fill="#fff" stroke="#000" stroke-width="1.4"/>
<rect x="340.90" y="101.11" width="9.2" height="9.2" fill="#fff" stroke="#000" stroke-width="1.4"/>
<rect x="338.14" y="94.17" width="9.2" height="9.2" fill="#fff" stroke="#000" stroke-width="1.4"/>
<rect x="335.38" y="88.51" width="9.2" height="9.2" fill="#fff" stroke="#000" stroke-width="1.4"/>
<rect x="332.62" y="83.65" width="9.2" height="9.2" fill="#fff" stroke="#000" stroke-width="1.4"/>
<rect x="329.86" y="80.06" width="9.2" height="9.2" fill="#fff" stroke="#000" stroke-width="1.4"/>
<rect x="327.10" y="77.05" width="9.2" height="9.2" fill="#fff" stroke="#000" stroke-width="1.4"/>
<rect x="324.34" y="74.28" width="9.2" height="9.2" fill="#fff" stroke="#000" stroke-width="1.4"/>
<rect x="321.58" y="71.81" width="9.2" height="9.2" fill="#fff" stroke="#000" stroke-width="1.4"/>
<rect x="318.82" y="69.67" width="9.2" height="9.2" fill="#fff" stroke="#000" stroke-width="1.4"/>
<rect x="316.06" y="67.91" width="9.2" height="9.2" fill="#fff" stroke="#000" stroke-width="1.4"/>
<rect x="313.30" y="66.57" width="9.2" height="9.2" fill="#fff" stroke="#000" stroke-width="1.4"/>
<rect x="310.54" y="65.66" width="9.2" height="9.2" fill="#fff" stroke="#000" stroke-width="1.4"/>
<rect x="307.78" y="64.95" width="9.2" height="9.2" fill="#fff" stroke="#000" stroke-width="1.4"/>
<rect x="305.02" y="64.35" width="9.2" height="9.2" fill="#fff" stroke="#000" stroke-width="1.4"/>
<rect x="302.26" y="63.84" width="9.2" height="9.2" fill="#fff" stroke="#000" stroke-width="1.4"/>
<rect x="299.50" y="63.40" width="9.2" height="9.2" fill="#fff" stroke="#000" stroke-width="1.4"/>
<rect x="296.74" y="62.99" width="9.2" height="9.2" fill="#fff" stroke="#000" stroke-width="1.4"/>
<rect x="293.98" y="62.59" width="9.2" height="9.2" fill="#fff" stroke="#000" stroke-width="1.4"/>
<rect x="291.22" y="62.19" width="9.2" height="9.2" fill="#fff" stroke="#000" stroke-width="1.4"/>
<rect x="288.46" y="61.75" width="9.2" height="9.2" fill="#fff" stroke="#000" stroke-width="1.4"/>
<rect x="285.70" y="61.29" width="9.2" height="9.2" fill="#fff" stroke="#000" stroke-width="1.4"/>
<rect x="282.94" y="60.81" width="9.2" height="9.2" fill="#fff" stroke="#000" stroke-width="1.4"/>
<rect x="280.18" y="60.34" width="9.2" height="9.2" fill="#fff" stroke="#000" stroke-width="1.4"/>
<rect x="277.42" y="59.89" width="9.2" height="9.2" fill="#fff" stroke="#000" stroke-width="1.4"/>
<rect x="274.66" y="59.49" width="9.2" height="9.2" fill="#fff" stroke="#000" stroke-width="1.4"/>
<rect x="271.90" y="59.13" width="9.2" height="9.2" fill="#fff" stroke="#000" stroke-width="1.4"/>
<rect x="269.14" y="58.85" width="9.2" height="9.2" fill="#fff" stroke="#000" stroke-width="1.4"/>
<rect x="266.38" y="58.65" width="9.2" height="9.2" fill="#fff" stroke="#000" stroke-width="1.4"/>
<rect x="263.62" y="58.53" width="9.2" height="9.2" fill="#fff" stroke="#000" stroke-width="1.4"/>
<rect x="260.86" y="58.44" width="9.2" height="9.2" fill="#fff" stroke="#000" stroke-width="1.4"/>
<rect x="258.10" y="58.40" width="9.2" height="9.2" fill="#fff" stroke="#000" stroke-width="1.4"/>
<rect x="434.74" y="150.89" width="9.2" height="9.2" fill="#fff" stroke="#000" stroke-width="1.4"/>
<rect x="431.98" y="150.50" width="9.2" height="9.2" fill="#fff" stroke="#000" stroke-width="1.4"/>
<rect x="429.22" y="150.09" width="9.2" height="9.2" fill="#fff" stroke="#000" stroke-width="1.4"/>
<rect x="426.46" y="149.66" width="9.2" height="9.2" fill="#fff" stroke="#000" stroke-width="1.4"/>
<rect x="423.70" y="149.22" width="9.2" height="9.2" fill="#fff" stroke="#000" stroke-width="1.4"/>
<rect x="420.94" y="148.77" width="9.2" height="9.2" fill="#fff" stroke="#000" stroke-width="1.4"/>
<rect x="418.18" y="148.29" width="9.2" height="9.2" fill="#fff" stroke="#000" stroke-width="1.4"/>
<rect x="415.42" y="147.80" width="9.2" height="9.2" fill="#fff" stroke="#000" stroke-width="1.4"/>
<rect x="412.66" y="147.30" width="9.2" height="9.2" fill="#fff" stroke="#000" stroke-width="1.4"/>
<rect x="409.90" y="146.79" width="9.2" height="9.2" fill="#fff" stroke="#000" stroke-width="1.4"/>
<rect x="407.14" y="146.26" width="9.2" height="9.2" fill="#fff" stroke="#000" stroke-width="1.4"/>
<rect x="404.38" y="145.73" width="9.2" height="9.2" fill="#fff" stroke="#000" stroke-width="1.4"/>
<rect x="401.62" y="145.18" width="9.2" height="9.2" fill="#fff" stroke="#000" stroke-width="1.4"/>
<rect x="398.86" y="144.62" width="9.2" height="9.2" fill="#fff" stroke="#000" stroke-width="1.4"/>
<rect x="396.10" y="144.06" width="9.2" height="9.2" fill="#fff" stroke="#000" stroke-width="1.4"/>
<rect x="393.34" y="143.49" width="9.2" height="9.2" fill="#fff" stroke="#000" stroke-width="1.4"/>
<rect x="390.58" y="142.92" width="9.2" height="9.2" fill="#fff" stroke="#000" stroke-width="1.4"/>
<rect x="387.82" y="142.35" width="9.2" height="9.2" fill="#fff" stroke="#000" stroke-width="1.4"/>
<rect x="385.06" y="141.76" width="9.2" height="9.2" fill="#fff" stroke="#000" stroke-width="1.4"/>
<rect x="382.30" y="141.14" width="9.2" height="9.2" fill="#fff" stroke="#000" stroke-width="1.4"/>
<rect x="379.54" y="140.46" width="9.2" height="9.2" fill="#fff" stroke="#000" stroke-width="1.4"/>
<rect x="376.78" y="139.72" width="9.2" height="9.2" fill="#fff" stroke="#000" stroke-width="1.4"/>
<rect x="374.02" y="138.88" width="9.2" height="9.2" fill="#fff" stroke="#000" stroke-width="1.4"/>
<rect x="371.26" y="137.93" width="9.2" height="9.2" fill="#fff" stroke="#000" stroke-width="1.4"/>
<rect x="368.50" y="136.76" width="9.2" height="9.2" fill="#fff" stroke="#000" stroke-width="1.4"/>
<rect x="365.74" y="135.20" width="9.2" height="9.2" fill="#fff" stroke="#000" stroke-width="1.4"/>
<rect x="362.98" y="132.88" width="9.2" height="9.2" fill="#fff" stroke="#000" stroke-width="1.4"/>
<rect x="360.22" y="129.68" width="9.2" height="9.2" fill="#fff" stroke="#000" stroke-width="1.4"/>
<rect x="357.46" y="125.58" width="9.2" height="9.2" fill="#fff" stroke="#000" stroke-width="1.4"/>
<rect x="354.70" y="119.00" width="9.2" height="9.2" fill="#fff" stroke="#000" stroke-width="1.4"/>
<rect x="351.94" y="111.30" width="9.2" height="9.2" fill="#fff" stroke="#000" stroke-width="1.4"/>
<rect x="349.18" y="104.42" width="9.2" height="9.2" fill="#fff" stroke="#000" stroke-width="1.4"/>
<rect x="346.42" y="97.67" width="9.2" height="9.2" fill="#fff" stroke="#000" stroke-width="1.4"/>
<rect x="343.66" y="91.24" width="9.2" height="9.2" fill="#fff" stroke="#000" stroke-width="1.4"/>
<rect x="340.90" y="85.30" width="9.2" height="9.2" fill="#fff" stroke="#000" stroke-width="1.4"/>
<rect x="338.14" y="79.70" width="9.2" height="9.2" fill="#fff" stroke="#000" stroke-width="1.4"/>
<rect x="335.38" y="74.34" width="9.2" height="9.2" fill="#fff" stroke="#000" stroke-width="1.4"/>
<rect x="332.62" y="68.98" width="9.2" height="9.2" fill="#fff" stroke="#000" stroke-width="1.4"/>
<rect x="329.86" y="63.60" width="9.2" height="9.2" fill="#fff" stroke="#000" stroke-width="1.4"/>
<rect x="327.10" y="58.59" width="9.2" height="9.2" fill="#fff" stroke="#000" stroke-width="1.4"/>
<rect x="324.34" y="54.34" width="9.2" height="9.2" fill="#fff" stroke="#000" stroke-width="1.4"/>
<rect x="321.58" y="50.91" width="9.2" height="9.2" fill="#fff" stroke="#000" stroke-width="1.4"/>
<rect x="318.82" y="47.76" width="9.2" height="9.2" fill="#fff" stroke="#000" stroke-width="1.4"/>
<rect x="316.06" y="44.90" width="9.2" height="9.2" fill="#fff" stroke="#000" stroke-width="1.4"/>
<rect x="313.30" y="42.32" width="9.2" height="9.2" fill="#fff" stroke="#000" stroke-width="1.4"/>
<rect x="310.54" y="40.06" width="9.2" height="9.2" fill="#fff" stroke="#000" stroke-width="1.4"/>
<rect x="307.78" y="38.12" width="9.2" height="9.2" fill="#fff" stroke="#000" stroke-width="1.4"/>
<rect x="305.02" y="36.49" width="9.2" height="9.2" fill="#fff" stroke="#000" stroke-width="1.4"/>
<rect x="302.26" y="34.98" width="9.2" height="9.2" fill="#fff" stroke="#000" stroke-width="1.4"/>
<rect x="299.50" y="33.57" width="9.2" height="9.2" fill="#fff" stroke="#000" stroke-width="1.4"/>
<rect x="296.74" y="32.27" width="9.2" height="9.2" fill="#fff" stroke="#000" stroke-width="1.4"/>
<rect x="293.98" y="31.09" width="9.2" height="9.2" fill="#fff" stroke="#000" stroke-width="1.4"/>
<rect x="291.22" y="30.03" width="9.2" height="9.2" fill="#fff" stroke="#000" stroke-width="1.4"/>
<rect x="288.46" y="29.10" width="9.2" height="9.2" fill="#fff" stroke="#000" stroke-width="1.4"/>
<rect x="285.70" y="28.31" width="9.2" height="9.2" fill="#fff" stroke="#000" stroke-width="1.4"/>
<rect x="282.94" y="27.67" width="9.2" height="9.2" fill="#fff" stroke="#000" stroke-width="1.4"/>
<rect x="280.18" y="27.09" width="9.2" height="9.2" fill="#fff" stroke="#000" stroke-width="1.4"/>
<rect x="277.42" y="26.53" width="9.2" height="9.2" fill="#fff" stroke="#000" stroke-width="1.4"/>
<rect x="274.66" y="25.99" width="9.2" height="9.2" fill="#fff" stroke="#000" stroke-width="1.4"/>
<rect x="271.90" y="25.50" width="9.2" height="9.2" fill="#fff" stroke="#000" stroke-width="1.4"/>
<rect x="269.14" y="25.07" width="9.2" height="9.2" fill="#fff" stroke="#000" stroke-width="1.4"/>
<rect x="266.38" y="24.71" width="9.2" height="9.2" fill="#fff" stroke="#000" stroke-width="1.4"/>
<rect x="263.62" y="24.44" width="9.2" height="9.2" fill="#fff" stroke="#000" stroke-width="1.4"/>
<rect x="260.86" y="24.26" width="9.2" height="9.2" fill="#fff" stroke="#000" stroke-width="1.4"/>
<rect x="258.10" y="24.20" width="9.2" height="9.2" fill="#fff" stroke="#000" stroke-width="1.4"/>
</g>
<g clip-path="url(#ca2)">
<path d="M606.44,182.25H620.04L613.24,171.35Z" fill="#fff" stroke="#000" stroke-width="1.5"/>
<path d="M603.68,180.21H617.28L610.48,169.31Z" fill="#fff" stroke="#000" stroke-width="1.5"/>
<path d="M600.92,178.09H614.52L607.72,167.19Z" fill="#fff" stroke="#000" stroke-width="1.5"/>
<path d="M598.16,175.90H611.76L604.96,165.00Z" fill="#fff" stroke="#000" stroke-width="1.5"/>
<path d="M595.40,173.63H609.00L602.20,162.73Z" fill="#fff" stroke="#000" stroke-width="1.5"/>
<path d="M592.64,171.30H606.24L599.44,160.40Z" fill="#fff" stroke="#000" stroke-width="1.5"/>
<path d="M589.88,168.90H603.48L596.68,158.00Z" fill="#fff" stroke="#000" stroke-width="1.5"/>
<path d="M587.12,166.43H600.72L593.92,155.53Z" fill="#fff" stroke="#000" stroke-width="1.5"/>
<path d="M584.36,163.96H597.96L591.16,153.06Z" fill="#fff" stroke="#000" stroke-width="1.5"/>
<path d="M581.60,161.59H595.20L588.40,150.69Z" fill="#fff" stroke="#000" stroke-width="1.5"/>
<path d="M578.84,159.18H592.44L585.64,148.28Z" fill="#fff" stroke="#000" stroke-width="1.5"/>
<path d="M576.08,156.61H589.68L582.88,145.71Z" fill="#fff" stroke="#000" stroke-width="1.5"/>
<path d="M573.32,153.74H586.92L580.12,142.84Z" fill="#fff" stroke="#000" stroke-width="1.5"/>
<path d="M570.56,150.43H584.16L577.36,139.53Z" fill="#fff" stroke="#000" stroke-width="1.5"/>
<path d="M567.80,146.36H581.40L574.60,135.46Z" fill="#fff" stroke="#000" stroke-width="1.5"/>
<path d="M565.04,140.71H578.64L571.84,129.81Z" fill="#fff" stroke="#000" stroke-width="1.5"/>
<path d="M562.28,134.21H575.88L569.08,123.31Z" fill="#fff" stroke="#000" stroke-width="1.5"/>
<path d="M559.52,127.83H573.12L566.32,116.93Z" fill="#fff" stroke="#000" stroke-width="1.5"/>
<path d="M556.76,122.17H570.36L563.56,111.27Z" fill="#fff" stroke="#000" stroke-width="1.5"/>
<path d="M554.00,116.62H567.60L560.80,105.72Z" fill="#fff" stroke="#000" stroke-width="1.5"/>
<path d="M551.24,111.33H564.84L558.04,100.43Z" fill="#fff" stroke="#000" stroke-width="1.5"/>
<path d="M548.48,106.50H562.08L555.28,95.60Z" fill="#fff" stroke="#000" stroke-width="1.5"/>
<path d="M545.72,101.96H559.32L552.52,91.06Z" fill="#fff" stroke="#000" stroke-width="1.5"/>
<path d="M542.96,97.56H556.56L549.76,86.66Z" fill="#fff" stroke="#000" stroke-width="1.5"/>
<path d="M540.20,93.50H553.80L547.00,82.60Z" fill="#fff" stroke="#000" stroke-width="1.5"/>
<path d="M537.44,89.96H551.04L544.24,79.06Z" fill="#fff" stroke="#000" stroke-width="1.5"/>
<path d="M534.68,87.12H548.28L541.48,76.22Z" fill="#fff" stroke="#000" stroke-width="1.5"/>
<path d="M531.92,84.67H545.52L538.72,73.77Z" fill="#fff" stroke="#000" stroke-width="1.5"/>
<path d="M529.16,82.42H542.76L535.96,71.52Z" fill="#fff" stroke="#000" stroke-width="1.5"/>
<path d="M526.40,80.36H540.00L533.20,69.46Z" fill="#fff" stroke="#000" stroke-width="1.5"/>
<path d="M523.64,78.49H537.24L530.44,67.59Z" fill="#fff" stroke="#000" stroke-width="1.5"/>
<path d="M520.88,76.81H534.48L527.68,65.91Z" fill="#fff" stroke="#000" stroke-width="1.5"/>
<path d="M518.12,75.32H531.72L524.92,64.42Z" fill="#fff" stroke="#000" stroke-width="1.5"/>
<path d="M515.36,74.02H528.96L522.16,63.12Z" fill="#fff" stroke="#000" stroke-width="1.5"/>
<path d="M512.60,72.88H526.20L519.40,61.98Z" fill="#fff" stroke="#000" stroke-width="1.5"/>
<path d="M509.84,71.83H523.44L516.64,60.93Z" fill="#fff" stroke="#000" stroke-width="1.5"/>
<path d="M507.08,70.85H520.68L513.88,59.95Z" fill="#fff" stroke="#000" stroke-width="1.5"/>
<path d="M504.32,69.94H517.92L511.12,59.04Z" fill="#fff" stroke="#000" stroke-width="1.5"/>
<path d="M501.56,69.10H515.16L508.36,58.20Z" fill="#fff" stroke="#000" stroke-width="1.5"/>
<path d="M498.80,68.34H512.40L505.60,57.44Z" fill="#fff" stroke="#000" stroke-width="1.5"/>
<path d="M496.04,67.66H509.64L502.84,56.76Z" fill="#fff" stroke="#000" stroke-width="1.5"/>
<path d="M493.28,67.06H506.88L500.08,56.16Z" fill="#fff" stroke="#000" stroke-width="1.5"/>
<path d="M490.52,66.54H504.12L497.32,55.64Z" fill="#fff" stroke="#000" stroke-width="1.5"/>
<path d="M487.76,66.12H501.36L494.56,55.22Z" fill="#fff" stroke="#000" stroke-width="1.5"/>
<path d="M485.00,65.73H498.60L491.80,54.83Z" fill="#fff" stroke="#000" stroke-width="1.5"/>
<path d="M482.24,65.39H495.84L489.04,54.49Z" fill="#fff" stroke="#000" stroke-width="1.5"/>
<path d="M479.48,65.07H493.08L486.28,54.17Z" fill="#fff" stroke="#000" stroke-width="1.5"/>
<path d="M476.72,64.79H490.32L483.52,53.89Z" fill="#fff" stroke="#000" stroke-width="1.5"/>
<path d="M473.96,64.53H487.56L480.76,53.63Z" fill="#fff" stroke="#000" stroke-width="1.5"/>
<path d="M471.20,64.29H484.80L478.00,53.39Z" fill="#fff" stroke="#000" stroke-width="1.5"/>
<path d="M468.44,64.06H482.04L475.24,53.16Z" fill="#fff" stroke="#000" stroke-width="1.5"/>
<path d="M465.68,63.86H479.28L472.48,52.96Z" fill="#fff" stroke="#000" stroke-width="1.5"/>
<path d="M462.92,63.66H476.52L469.72,52.76Z" fill="#fff" stroke="#000" stroke-width="1.5"/>
<path d="M460.16,63.46H473.76L466.96,52.56Z" fill="#fff" stroke="#000" stroke-width="1.5"/>
<path d="M457.40,63.26H471.00L464.20,52.36Z" fill="#fff" stroke="#000" stroke-width="1.5"/>
<path d="M454.64,63.07H468.24L461.44,52.17Z" fill="#fff" stroke="#000" stroke-width="1.5"/>
<path d="M451.88,62.90H465.48L458.68,52.00Z" fill="#fff" stroke="#000" stroke-width="1.5"/>
<path d="M449.12,62.75H462.72L455.92,51.85Z" fill="#fff" stroke="#000" stroke-width="1.5"/>
<path d="M446.36,62.63H459.96L453.16,51.73Z" fill="#fff" stroke="#000" stroke-width="1.5"/>
<path d="M443.60,62.54H457.20L450.40,51.64Z" fill="#fff" stroke="#000" stroke-width="1.5"/>
<path d="M440.84,62.49H454.44L447.64,51.59Z" fill="#fff" stroke="#000" stroke-width="1.5"/>
<path d="M438.08,62.46H451.68L444.88,51.56Z" fill="#fff" stroke="#000" stroke-width="1.5"/>
<path d="M435.32,62.43H448.92L442.12,51.53Z" fill="#fff" stroke="#000" stroke-width="1.5"/>
<path d="M432.56,62.41H446.16L439.36,51.51Z" fill="#fff" stroke="#000" stroke-width="1.5"/>
<path d="M429.80,62.40H443.40L436.60,51.50Z" fill="#fff" stroke="#000" stroke-width="1.5"/>
<path d="M606.44,167.93H620.04L613.24,157.03Z" fill="#fff" stroke="#000" stroke-width="1.5"/>
<path d="M603.68,166.29H617.28L610.48,155.39Z" fill="#fff" stroke="#000" stroke-width="1.5"/>
<path d="M600.92,164.56H614.52L607.72,153.66Z" fill="#fff" stroke="#000" stroke-width="1.5"/>
<path d="M598.16,162.55H611.76L604.96,151.65Z" fill="#fff" stroke="#000" stroke-width="1.5"/>
<path d="M595.40,160.38H609.00L602.20,149.48Z" fill="#fff" stroke="#000" stroke-width="1.5"/>
<path d="M592.64,158.05H606.24L599.44,147.15Z" fill="#fff" stroke="#000" stroke-width="1.5"/>
<path d="M589.88,155.59H603.48L596.68,144.69Z" fill="#fff" stroke="#000" stroke-width="1.5"/>
<path d="M587.12,153.00H600.72L593.92,142.10Z" fill="#fff" stroke="#000" stroke-width="1.5"/>
<path d="M584.36,150.28H597.96L591.16,139.38Z" fill="#fff" stroke="#000" stroke-width="1.5"/>
<path d="M581.60,147.46H595.20L588.40,136.56Z" fill="#fff" stroke="#000" stroke-width="1.5"/>
<path d="M578.84,144.52H592.44L585.64,133.62Z" fill="#fff" stroke="#000" stroke-width="1.5"/>
<path d="M576.08,141.41H589.68L582.88,130.51Z" fill="#fff" stroke="#000" stroke-width="1.5"/>
<path d="M573.32,138.11H586.92L580.12,127.21Z" fill="#fff" stroke="#000" stroke-width="1.5"/>
<path d="M570.56,134.56H584.16L577.36,123.66Z" fill="#fff" stroke="#000" stroke-width="1.5"/>
<path d="M567.80,130.75H581.40L574.60,119.85Z" fill="#fff" stroke="#000" stroke-width="1.5"/>
<path d="M565.04,126.58H578.64L571.84,115.68Z" fill="#fff" stroke="#000" stroke-width="1.5"/>
<path d="M562.28,121.78H575.88L569.08,110.88Z" fill="#fff" stroke="#000" stroke-width="1.5"/>
<path d="M559.52,116.51H573.12L566.32,105.61Z" fill="#fff" stroke="#000" stroke-width="1.5"/>
<path d="M556.76,110.97H570.36L563.56,100.07Z" fill="#fff" stroke="#000" stroke-width="1.5"/>
<path d="M554.00,105.39H567.60L560.80,94.49Z" fill="#fff" stroke="#000" stroke-width="1.5"/>
<path d="M551.24,99.44H564.84L558.04,88.54Z" fill="#fff" stroke="#000" stroke-width="1.5"/>
<path d="M548.48,93.22H562.08L555.28,82.32Z" fill="#fff" stroke="#000" stroke-width="1.5"/>
<path d="M545.72,87.28H559.32L552.52,76.38Z" fill="#fff" stroke="#000" stroke-width="1.5"/>
<path d="M542.96,82.04H556.56L549.76,71.14Z" fill="#fff" stroke="#000" stroke-width="1.5"/>
<path d="M540.20,77.15H553.80L547.00,66.25Z" fill="#fff" stroke="#000" stroke-width="1.5"/>
<path d="M537.44,72.54H551.04L544.24,61.64Z" fill="#fff" stroke="#000" stroke-width="1.5"/>
<path d="M534.68,68.28H548.28L541.48,57.38Z" fill="#fff" stroke="#000" stroke-width="1.5"/>
<path d="M531.92,64.39H545.52L538.72,53.49Z" fill="#fff" stroke="#000" stroke-width="1.5"/>
<path d="M529.16,60.68H542.76L535.96,49.78Z" fill="#fff" stroke="#000" stroke-width="1.5"/>
<path d="M526.40,57.10H540.00L533.20,46.20Z" fill="#fff" stroke="#000" stroke-width="1.5"/>
<path d="M523.64,53.76H537.24L530.44,42.86Z" fill="#fff" stroke="#000" stroke-width="1.5"/>
<path d="M520.88,50.76H534.48L527.68,39.86Z" fill="#fff" stroke="#000" stroke-width="1.5"/>
<path d="M518.12,48.21H531.72L524.92,37.31Z" fill="#fff" stroke="#000" stroke-width="1.5"/>
<path d="M515.36,46.14H528.96L522.16,35.24Z" fill="#fff" stroke="#000" stroke-width="1.5"/>
<path d="M512.60,44.28H526.20L519.40,33.38Z" fill="#fff" stroke="#000" stroke-width="1.5"/>
<path d="M509.84,42.55H523.44L516.64,31.65Z" fill="#fff" stroke="#000" stroke-width="1.5"/>
<path d="M507.08,40.97H520.68L513.88,30.07Z" fill="#fff" stroke="#000" stroke-width="1.5"/>
<path d="M504.32,39.52H517.92L511.12,28.62Z" fill="#fff" stroke="#000" stroke-width="1.5"/>
<path d="M501.56,38.21H515.16L508.36,27.31Z" fill="#fff" stroke="#000" stroke-width="1.5"/>
<path d="M498.80,37.05H512.40L505.60,26.15Z" fill="#fff" stroke="#000" stroke-width="1.5"/>
<path d="M496.04,36.02H509.64L502.84,25.12Z" fill="#fff" stroke="#000" stroke-width="1.5"/>
<path d="M493.28,35.13H506.88L500.08,24.23Z" fill="#fff" stroke="#000" stroke-width="1.5"/>
<path d="M490.52,34.34H504.12L497.32,23.44Z" fill="#fff" stroke="#000" stroke-width="1.5"/>
<path d="M487.76,33.59H501.36L494.56,22.69Z" fill="#fff" stroke="#000" stroke-width="1.5"/>
<path d="M485.00,32.90H498.60L491.80,22.00Z" fill="#fff" stroke="#000" stroke-width="1.5"/>
<path d="M482.24,32.27H495.84L489.04,21.37Z" fill="#fff" stroke="#000" stroke-width="1.5"/>
<path d="M479.48,31.70H493.08L486.28,20.80Z" fill="#fff" stroke="#000" stroke-width="1.5"/>
<path d="M476.72,31.18H490.32L483.52,20.28Z" fill="#fff" stroke="#000" stroke-width="1.5"/>
<path d="M473.96,30.73H487.56L480.76,19.83Z" fill="#fff" stroke="#000" stroke-width="1.5"/>
<path d="M471.20,30.33H484.80L478.00,19.43Z" fill="#fff" stroke="#000" stroke-width="1.5"/>
<path d="M468.44,30.00H482.04L475.24,19.10Z" fill="#fff" stroke="#000" stroke-width="1.5"/>
<path d="M465.68,29.69H479.28L472.48,18.79Z" fill="#fff" stroke="#000" stroke-width="1.5"/>
<path d="M462.92,29.40H476.52L469.72,18.50Z" fill="#fff" stroke="#000" stroke-width="1.5"/>
<path d="M460.16,29.13H473.76L466.96,18.23Z" fill="#fff" stroke="#000" stroke-width="1.5"/>
<path d="M457.40,28.88H471.00L464.20,17.98Z" fill="#fff" stroke="#000" stroke-width="1.5"/>
<path d="M454.64,28.66H468.24L461.44,17.76Z" fill="#fff" stroke="#000" stroke-width="1.5"/>
<path d="M451.88,28.48H465.48L458.68,17.58Z" fill="#fff" stroke="#000" stroke-width="1.5"/>
<path d="M449.12,28.33H462.72L455.92,17.43Z" fill="#fff" stroke="#000" stroke-width="1.5"/>
<path d="M446.36,28.23H459.96L453.16,17.33Z" fill="#fff" stroke="#000" stroke-width="1.5"/>
<path d="M443.60,28.17H457.20L450.40,17.27Z" fill="#fff" stroke="#000" stroke-width="1.5"/>
<path d="M440.84,28.11H454.44L447.64,17.21Z" fill="#fff" stroke="#000" stroke-width="1.5"/>
<path d="M438.08,28.07H451.68L444.88,17.17Z" fill="#fff" stroke="#000" stroke-width="1.5"/>
<path d="M435.32,28.03H448.92L442.12,17.13Z" fill="#fff" stroke="#000" stroke-width="1.5"/>
<path d="M432.56,28.01H446.16L439.36,17.11Z" fill="#fff" stroke="#000" stroke-width="1.5"/>
<path d="M429.80,28.00H443.40L436.60,17.10Z" fill="#fff" stroke="#000" stroke-width="1.5"/>
</g>
<g clip-path="url(#ca3)">
<circle cx="787.64" cy="213.39" r="5.0" fill="#fff" stroke="#000" stroke-width="1.4"/>
<circle cx="784.88" cy="207.30" r="5.0" fill="#fff" stroke="#000" stroke-width="1.4"/>
<circle cx="782.12" cy="200.93" r="5.0" fill="#fff" stroke="#000" stroke-width="1.4"/>
<circle cx="779.36" cy="194.26" r="5.0" fill="#fff" stroke="#000" stroke-width="1.4"/>
<circle cx="776.60" cy="187.47" r="5.0" fill="#fff" stroke="#000" stroke-width="1.4"/>
<circle cx="773.84" cy="180.73" r="5.0" fill="#fff" stroke="#000" stroke-width="1.4"/>
<circle cx="771.08" cy="173.96" r="5.0" fill="#fff" stroke="#000" stroke-width="1.4"/>
<circle cx="768.32" cy="167.01" r="5.0" fill="#fff" stroke="#000" stroke-width="1.4"/>
<circle cx="765.56" cy="159.91" r="5.0" fill="#fff" stroke="#000" stroke-width="1.4"/>
<circle cx="762.80" cy="152.44" r="5.0" fill="#fff" stroke="#000" stroke-width="1.4"/>
<circle cx="760.04" cy="144.30" r="5.0" fill="#fff" stroke="#000" stroke-width="1.4"/>
<circle cx="757.28" cy="135.85" r="5.0" fill="#fff" stroke="#000" stroke-width="1.4"/>
<circle cx="754.52" cy="127.41" r="5.0" fill="#fff" stroke="#000" stroke-width="1.4"/>
<circle cx="751.76" cy="118.90" r="5.0" fill="#fff" stroke="#000" stroke-width="1.4"/>
<circle cx="749.00" cy="110.46" r="5.0" fill="#fff" stroke="#000" stroke-width="1.4"/>
<circle cx="746.24" cy="101.40" r="5.0" fill="#fff" stroke="#000" stroke-width="1.4"/>
<circle cx="743.48" cy="92.83" r="5.0" fill="#fff" stroke="#000" stroke-width="1.4"/>
<circle cx="740.72" cy="86.61" r="5.0" fill="#fff" stroke="#000" stroke-width="1.4"/>
<circle cx="737.96" cy="81.83" r="5.0" fill="#fff" stroke="#000" stroke-width="1.4"/>
<circle cx="735.20" cy="77.80" r="5.0" fill="#fff" stroke="#000" stroke-width="1.4"/>
<circle cx="732.44" cy="74.54" r="5.0" fill="#fff" stroke="#000" stroke-width="1.4"/>
<circle cx="729.68" cy="72.03" r="5.0" fill="#fff" stroke="#000" stroke-width="1.4"/>
<circle cx="726.92" cy="69.87" r="5.0" fill="#fff" stroke="#000" stroke-width="1.4"/>
<circle cx="724.16" cy="67.92" r="5.0" fill="#fff" stroke="#000" stroke-width="1.4"/>
<circle cx="721.40" cy="66.18" r="5.0" fill="#fff" stroke="#000" stroke-width="1.4"/>
<circle cx="718.64" cy="64.63" r="5.0" fill="#fff" stroke="#000" stroke-width="1.4"/>
<circle cx="715.88" cy="63.27" r="5.0" fill="#fff" stroke="#000" stroke-width="1.4"/>
<circle cx="713.12" cy="62.09" r="5.0" fill="#fff" stroke="#000" stroke-width="1.4"/>
<circle cx="710.36" cy="61.08" r="5.0" fill="#fff" stroke="#000" stroke-width="1.4"/>
<circle cx="707.60" cy="60.21" r="5.0" fill="#fff" stroke="#000" stroke-width="1.4"/>
<circle cx="704.84" cy="59.42" r="5.0" fill="#fff" stroke="#000" stroke-width="1.4"/>
<circle cx="702.08" cy="58.69" r="5.0" fill="#fff" stroke="#000" stroke-width="1.4"/>
<circle cx="699.32" cy="58.04" r="5.0" fill="#fff" stroke="#000" stroke-width="1.4"/>
<circle cx="696.56" cy="57.44" r="5.0" fill="#fff" stroke="#000" stroke-width="1.4"/>
<circle cx="693.80" cy="56.90" r="5.0" fill="#fff" stroke="#000" stroke-width="1.4"/>
<circle cx="691.04" cy="56.42" r="5.0" fill="#fff" stroke="#000" stroke-width="1.4"/>
<circle cx="688.28" cy="55.99" r="5.0" fill="#fff" stroke="#000" stroke-width="1.4"/>
<circle cx="685.52" cy="55.59" r="5.0" fill="#fff" stroke="#000" stroke-width="1.4"/>
<circle cx="682.76" cy="55.23" r="5.0" fill="#fff" stroke="#000" stroke-width="1.4"/>
<circle cx="680.00" cy="54.89" r="5.0" fill="#fff" stroke="#000" stroke-width="1.4"/>
<circle cx="677.24" cy="54.58" r="5.0" fill="#fff" stroke="#000" stroke-width="1.4"/>
<circle cx="674.48" cy="54.29" r="5.0" fill="#fff" stroke="#000" stroke-width="1.4"/>
<circle cx="671.72" cy="54.02" r="5.0" fill="#fff" stroke="#000" stroke-width="1.4"/>
<circle cx="668.96" cy="53.77" r="5.0" fill="#fff" stroke="#000" stroke-width="1.4"/>
<circle cx="666.20" cy="53.55" r="5.0" fill="#fff" stroke="#000" stroke-width="1.4"/>
<circle cx="663.44" cy="53.34" r="5.0" fill="#fff" stroke="#000" stroke-width="1.4"/>
<circle cx="660.68" cy="53.16" r="5.0" fill="#fff" stroke="#000" stroke-width="1.4"/>
<circle cx="657.92" cy="52.98" r="5.0" fill="#fff" stroke="#000" stroke-width="1.4"/>
<circle cx="655.16" cy="52.81" r="5.0" fill="#fff" stroke="#000" stroke-width="1.4"/>
<circle cx="652.40" cy="52.66" r="5.0" fill="#fff" stroke="#000" stroke-width="1.4"/>
<circle cx="649.64" cy="52.51" r="5.0" fill="#fff" stroke="#000" stroke-width="1.4"/>
<circle cx="646.88" cy="52.37" r="5.0" fill="#fff" stroke="#000" stroke-width="1.4"/>
<circle cx="644.12" cy="52.25" r="5.0" fill="#fff" stroke="#000" stroke-width="1.4"/>
<circle cx="641.36" cy="52.14" r="5.0" fill="#fff" stroke="#000" stroke-width="1.4"/>
<circle cx="638.60" cy="52.04" r="5.0" fill="#fff" stroke="#000" stroke-width="1.4"/>
<circle cx="635.84" cy="51.95" r="5.0" fill="#fff" stroke="#000" stroke-width="1.4"/>
<circle cx="633.08" cy="51.87" r="5.0" fill="#fff" stroke="#000" stroke-width="1.4"/>
<circle cx="630.32" cy="51.79" r="5.0" fill="#fff" stroke="#000" stroke-width="1.4"/>
<circle cx="627.56" cy="51.71" r="5.0" fill="#fff" stroke="#000" stroke-width="1.4"/>
<circle cx="624.80" cy="51.64" r="5.0" fill="#fff" stroke="#000" stroke-width="1.4"/>
<circle cx="622.04" cy="51.57" r="5.0" fill="#fff" stroke="#000" stroke-width="1.4"/>
<circle cx="619.28" cy="51.52" r="5.0" fill="#fff" stroke="#000" stroke-width="1.4"/>
<circle cx="616.52" cy="51.47" r="5.0" fill="#fff" stroke="#000" stroke-width="1.4"/>
<circle cx="613.76" cy="51.43" r="5.0" fill="#fff" stroke="#000" stroke-width="1.4"/>
<circle cx="611.00" cy="51.40" r="5.0" fill="#fff" stroke="#000" stroke-width="1.4"/>
<circle cx="787.64" cy="211.09" r="5.0" fill="#fff" stroke="#000" stroke-width="1.4"/>
<circle cx="784.88" cy="204.18" r="5.0" fill="#fff" stroke="#000" stroke-width="1.4"/>
<circle cx="782.12" cy="196.96" r="5.0" fill="#fff" stroke="#000" stroke-width="1.4"/>
<circle cx="779.36" cy="189.46" r="5.0" fill="#fff" stroke="#000" stroke-width="1.4"/>
<circle cx="776.60" cy="181.70" r="5.0" fill="#fff" stroke="#000" stroke-width="1.4"/>
<circle cx="773.84" cy="173.64" r="5.0" fill="#fff" stroke="#000" stroke-width="1.4"/>
<circle cx="771.08" cy="165.27" r="5.0" fill="#fff" stroke="#000" stroke-width="1.4"/>
<circle cx="768.32" cy="156.59" r="5.0" fill="#fff" stroke="#000" stroke-width="1.4"/>
<circle cx="765.56" cy="147.53" r="5.0" fill="#fff" stroke="#000" stroke-width="1.4"/>
<circle cx="762.80" cy="138.57" r="5.0" fill="#fff" stroke="#000" stroke-width="1.4"/>
<circle cx="760.04" cy="130.01" r="5.0" fill="#fff" stroke="#000" stroke-width="1.4"/>
<circle cx="757.28" cy="121.56" r="5.0" fill="#fff" stroke="#000" stroke-width="1.4"/>
<circle cx="754.52" cy="112.86" r="5.0" fill="#fff" stroke="#000" stroke-width="1.4"/>
<circle cx="751.76" cy="103.39" r="5.0" fill="#fff" stroke="#000" stroke-width="1.4"/>
<circle cx="749.00" cy="93.86" r="5.0" fill="#fff" stroke="#000" stroke-width="1.4"/>
<circle cx="746.24" cy="85.48" r="5.0" fill="#fff" stroke="#000" stroke-width="1.4"/>
<circle cx="743.48" cy="77.59" r="5.0" fill="#fff" stroke="#000" stroke-width="1.4"/>
<circle cx="740.72" cy="70.74" r="5.0" fill="#fff" stroke="#000" stroke-width="1.4"/>
<circle cx="737.96" cy="65.57" r="5.0" fill="#fff" stroke="#000" stroke-width="1.4"/>
<circle cx="735.20" cy="61.34" r="5.0" fill="#fff" stroke="#000" stroke-width="1.4"/>
<circle cx="732.44" cy="57.68" r="5.0" fill="#fff" stroke="#000" stroke-width="1.4"/>
<circle cx="729.68" cy="54.41" r="5.0" fill="#fff" stroke="#000" stroke-width="1.4"/>
<circle cx="726.92" cy="51.35" r="5.0" fill="#fff" stroke="#000" stroke-width="1.4"/>
<circle cx="724.16" cy="48.33" r="5.0" fill="#fff" stroke="#000" stroke-width="1.4"/>
<circle cx="721.40" cy="45.32" r="5.0" fill="#fff" stroke="#000" stroke-width="1.4"/>
<circle cx="718.64" cy="42.37" r="5.0" fill="#fff" stroke="#000" stroke-width="1.4"/>
<circle cx="715.88" cy="39.57" r="5.0" fill="#fff" stroke="#000" stroke-width="1.4"/>
<circle cx="713.12" cy="36.98" r="5.0" fill="#fff" stroke="#000" stroke-width="1.4"/>
<circle cx="710.36" cy="34.66" r="5.0" fill="#fff" stroke="#000" stroke-width="1.4"/>
<circle cx="707.60" cy="32.67" r="5.0" fill="#fff" stroke="#000" stroke-width="1.4"/>
<circle cx="704.84" cy="31.06" r="5.0" fill="#fff" stroke="#000" stroke-width="1.4"/>
<circle cx="702.08" cy="29.59" r="5.0" fill="#fff" stroke="#000" stroke-width="1.4"/>
<circle cx="699.32" cy="28.22" r="5.0" fill="#fff" stroke="#000" stroke-width="1.4"/>
<circle cx="696.56" cy="26.95" r="5.0" fill="#fff" stroke="#000" stroke-width="1.4"/>
<circle cx="693.80" cy="25.80" r="5.0" fill="#fff" stroke="#000" stroke-width="1.4"/>
<circle cx="691.04" cy="24.75" r="5.0" fill="#fff" stroke="#000" stroke-width="1.4"/>
<circle cx="688.28" cy="23.83" r="5.0" fill="#fff" stroke="#000" stroke-width="1.4"/>
<circle cx="685.52" cy="23.04" r="5.0" fill="#fff" stroke="#000" stroke-width="1.4"/>
<circle cx="682.76" cy="22.38" r="5.0" fill="#fff" stroke="#000" stroke-width="1.4"/>
<circle cx="680.00" cy="21.84" r="5.0" fill="#fff" stroke="#000" stroke-width="1.4"/>
<circle cx="677.24" cy="21.36" r="5.0" fill="#fff" stroke="#000" stroke-width="1.4"/>
<circle cx="674.48" cy="20.93" r="5.0" fill="#fff" stroke="#000" stroke-width="1.4"/>
<circle cx="671.72" cy="20.55" r="5.0" fill="#fff" stroke="#000" stroke-width="1.4"/>
<circle cx="668.96" cy="20.20" r="5.0" fill="#fff" stroke="#000" stroke-width="1.4"/>
<circle cx="666.20" cy="19.88" r="5.0" fill="#fff" stroke="#000" stroke-width="1.4"/>
<circle cx="663.44" cy="19.58" r="5.0" fill="#fff" stroke="#000" stroke-width="1.4"/>
<circle cx="660.68" cy="19.30" r="5.0" fill="#fff" stroke="#000" stroke-width="1.4"/>
<circle cx="657.92" cy="19.02" r="5.0" fill="#fff" stroke="#000" stroke-width="1.4"/>
<circle cx="655.16" cy="18.75" r="5.0" fill="#fff" stroke="#000" stroke-width="1.4"/>
<circle cx="652.40" cy="18.49" r="5.0" fill="#fff" stroke="#000" stroke-width="1.4"/>
<circle cx="649.64" cy="18.23" r="5.0" fill="#fff" stroke="#000" stroke-width="1.4"/>
<circle cx="646.88" cy="17.99" r="5.0" fill="#fff" stroke="#000" stroke-width="1.4"/>
<circle cx="644.12" cy="17.76" r="5.0" fill="#fff" stroke="#000" stroke-width="1.4"/>
<circle cx="641.36" cy="17.55" r="5.0" fill="#fff" stroke="#000" stroke-width="1.4"/>
<circle cx="638.60" cy="17.37" r="5.0" fill="#fff" stroke="#000" stroke-width="1.4"/>
<circle cx="635.84" cy="17.21" r="5.0" fill="#fff" stroke="#000" stroke-width="1.4"/>
<circle cx="633.08" cy="17.08" r="5.0" fill="#fff" stroke="#000" stroke-width="1.4"/>
<circle cx="630.32" cy="16.96" r="5.0" fill="#fff" stroke="#000" stroke-width="1.4"/>
<circle cx="627.56" cy="16.84" r="5.0" fill="#fff" stroke="#000" stroke-width="1.4"/>
<circle cx="624.80" cy="16.74" r="5.0" fill="#fff" stroke="#000" stroke-width="1.4"/>
<circle cx="622.04" cy="16.64" r="5.0" fill="#fff" stroke="#000" stroke-width="1.4"/>
<circle cx="619.28" cy="16.55" r="5.0" fill="#fff" stroke="#000" stroke-width="1.4"/>
<circle cx="616.52" cy="16.48" r="5.0" fill="#fff" stroke="#000" stroke-width="1.4"/>
<circle cx="613.76" cy="16.43" r="5.0" fill="#fff" stroke="#000" stroke-width="1.4"/>
<circle cx="611.00" cy="16.40" r="5.0" fill="#fff" stroke="#000" stroke-width="1.4"/>
</g>
<g clip-path="url(#ca0)">
<polyline points="88.60,26.40 90.07,26.55 91.54,26.69 93.01,26.85 94.49,27.00 95.96,27.16 97.43,27.33 98.90,27.51 100.37,27.68 101.84,27.86 103.31,28.04 104.79,28.22 106.26,28.41 107.73,28.60 109.20,28.79 110.67,28.99 112.14,29.20 113.61,29.41 115.09,29.63 116.56,29.86 118.03,30.10 119.50,30.34 120.97,30.59 122.44,30.86 123.91,31.13 125.39,31.41 126.86,31.69 128.33,31.99 129.80,32.30 131.27,32.62 132.74,32.96 134.21,33.31 135.69,33.67 137.16,34.05 138.63,34.45 140.10,34.86 141.57,35.30 143.04,35.76 144.51,36.23 145.99,36.73 147.46,37.28 148.93,37.89 150.40,38.54 151.87,39.24 153.34,39.99 154.81,40.78 156.29,41.61 157.76,42.48 159.23,43.39 160.70,44.33 162.17,45.29 163.64,46.29 165.11,47.30 166.59,48.34 168.06,49.41 169.53,50.52 171.00,51.70 172.47,52.94 173.94,54.24 175.41,55.61 176.89,57.03 178.36,58.50 179.83,60.04 181.30,61.63 182.77,63.28 184.24,64.98 185.71,66.75 187.19,68.66 188.66,70.72 190.13,72.90 191.60,75.17 193.07,77.53 194.54,79.93 196.01,82.37 197.49,84.82 198.96,87.27 200.43,89.82 201.90,92.47 203.37,95.17 204.84,97.89 206.31,100.61 207.79,103.29 209.26,105.89 210.73,108.42 212.20,110.95 213.67,113.48 215.14,115.99 216.61,118.46 218.09,120.85 219.56,123.17 221.03,125.37 222.50,127.44 223.97,129.43 225.44,131.40 226.91,133.32 228.39,135.20 229.86,137.02 231.33,138.77 232.80,140.45 234.27,142.03 235.74,143.52 237.21,144.89 238.69,146.15 240.16,147.32 241.63,148.41 243.10,149.45 244.57,150.43 246.04,151.36 247.51,152.26 248.99,153.12 250.46,153.97 251.93,154.80 253.40,155.63 254.87,156.45 256.34,157.29 257.81,158.15 259.29,159.03 260.76,159.88 262.23,160.73 263.70,161.57" fill="none" stroke="#1010e8" stroke-width="3.8" stroke-linejoin="round" stroke-dasharray="10 13" stroke-dashoffset="-4"/>
<polyline points="88.60,61.77 90.07,61.82 91.54,61.87 93.01,61.94 94.49,62.02 95.96,62.10 97.43,62.20 98.90,62.31 100.37,62.43 101.84,62.56 103.31,62.69 104.79,62.83 106.26,62.98 107.73,63.13 109.20,63.28 110.67,63.44 112.14,63.60 113.61,63.77 115.09,63.93 116.56,64.10 118.03,64.26 119.50,64.42 120.97,64.58 122.44,64.74 123.91,64.90 125.39,65.06 126.86,65.22 128.33,65.38 129.80,65.55 131.27,65.72 132.74,65.90 134.21,66.08 135.69,66.28 137.16,66.49 138.63,66.70 140.10,66.93 141.57,67.18 143.04,67.43 144.51,67.71 145.99,68.01 147.46,68.34 148.93,68.69 150.40,69.07 151.87,69.47 153.34,69.89 154.81,70.34 156.29,70.82 157.76,71.32 159.23,71.84 160.70,72.39 162.17,72.96 163.64,73.55 165.11,74.17 166.59,74.81 168.06,75.49 169.53,76.23 171.00,77.04 172.47,77.91 173.94,78.84 175.41,79.84 176.89,80.90 178.36,82.03 179.83,83.22 181.30,84.48 182.77,85.79 184.24,87.17 185.71,88.61 187.19,90.22 188.66,92.08 190.13,94.16 191.60,96.41 193.07,98.78 194.54,101.24 196.01,103.75 197.49,106.24 198.96,108.69 200.43,111.08 201.90,113.53 203.37,116.05 204.84,118.60 206.31,121.15 207.79,123.69 209.26,126.19 210.73,128.61 212.20,130.95 213.67,133.29 215.14,135.64 216.61,137.99 218.09,140.30 219.56,142.55 221.03,144.73 222.50,146.80 223.97,148.74 225.44,150.53 226.91,152.16 228.39,153.69 229.86,155.13 231.33,156.51 232.80,157.82 234.27,159.08 235.74,160.30 237.21,161.47 238.69,162.62 240.16,163.76 241.63,164.88 243.10,166.00 244.57,167.10 246.04,168.16 247.51,169.20 248.99,170.20 250.46,171.19 251.93,172.16 253.40,173.13 254.87,174.10 256.34,175.07 257.81,176.06 259.29,177.07 260.76,178.11 262.23,179.16 263.70,180.22" fill="none" stroke="#1010e8" stroke-width="3.8" stroke-linejoin="round" stroke-dasharray="10 13" stroke-dashoffset="-4"/>
</g>
<g clip-path="url(#ca1)">
<polyline points="261.70,29.21 262.90,29.20 264.10,29.22 265.30,29.25 266.50,29.32 267.70,29.40 268.90,29.50 270.10,29.61 271.30,29.75 272.50,29.90 273.70,30.07 274.90,30.25 276.10,30.44 277.30,30.64 278.50,30.85 279.70,31.08 280.90,31.31 282.10,31.54 283.30,31.79 284.50,32.03 285.70,32.28 286.90,32.53 288.10,32.79 289.30,33.06 290.50,33.36 291.70,33.70 292.90,34.05 294.10,34.44 295.30,34.84 296.50,35.28 297.70,35.74 298.90,36.22 300.10,36.72 301.30,37.25 302.50,37.80 303.70,38.37 304.90,38.96 306.10,39.58 307.30,40.21 308.50,40.86 309.70,41.54 310.90,42.22 312.10,42.95 313.30,43.73 314.50,44.58 315.70,45.49 316.90,46.47 318.10,47.50 319.30,48.59 320.50,49.74 321.70,50.94 322.90,52.20 324.10,53.51 325.30,54.88 326.50,56.29 327.70,57.75 328.90,59.28 330.10,61.01 331.30,62.92 332.50,64.98 333.70,67.17 334.90,69.44 336.10,71.77 337.30,74.13 338.50,76.49 339.70,78.81 340.90,81.11 342.10,83.44 343.30,85.81 344.50,88.23 345.70,90.72 346.90,93.26 348.10,95.88 349.30,98.61 350.50,101.43 351.70,104.31 352.90,107.25 354.10,110.21 355.30,113.17 356.50,116.19 359.50,124.00 363.00,135.00 367.00,147.00 371.00,160.00 376.00,172.00 382.00,183.00 389.00,192.00 398.00,198.00 410.00,202.00 422.00,205.00 437.00,208.00" fill="none" stroke="#1010e8" stroke-width="3.8" stroke-linejoin="round" stroke-dasharray="10 13" stroke-dashoffset="-4"/>
<polyline points="261.70,63.40 262.86,63.40 264.01,63.41 265.17,63.43 266.32,63.46 267.48,63.50 268.63,63.55 269.79,63.59 270.95,63.64 272.10,63.72 273.26,63.80 274.41,63.91 275.57,64.03 276.72,64.16 277.88,64.30 279.04,64.45 280.19,64.62 281.35,64.79 282.50,64.97 283.66,65.16 284.81,65.35 285.97,65.54 287.13,65.74 288.28,65.94 289.44,66.14 290.59,66.34 291.75,66.53 292.90,66.73 294.06,66.91 295.22,67.10 296.37,67.27 297.53,67.44 298.68,67.61 299.84,67.77 300.99,67.94 302.15,68.11 303.31,68.28 304.46,68.45 305.62,68.63 306.77,68.83 307.93,69.03 309.08,69.25 310.24,69.48 311.39,69.72 312.55,69.99 313.71,70.28 314.86,70.58 316.02,70.92 317.17,71.29 318.33,71.75 319.48,72.28 320.64,72.90 321.80,73.58 322.95,74.34 324.11,75.17 325.26,76.06 326.42,77.01 327.57,78.02 328.73,79.08 329.89,80.20 331.04,81.36 332.20,82.57 333.35,83.82 334.51,85.11 335.66,86.46 336.82,88.04 337.98,89.87 339.13,91.91 340.29,94.11 341.44,96.43 342.60,98.85 343.75,101.55 344.91,104.52 346.07,107.67 347.22,110.95 348.38,114.28 349.53,117.58 350.69,120.80 351.84,124.12 353.00,127.57 356.00,136.00 360.00,148.00 364.00,160.00 368.50,172.00 374.00,182.00 380.00,191.00 389.00,198.00 400.00,203.00 412.00,207.00 425.00,210.00 437.00,212.50" fill="none" stroke="#1010e8" stroke-width="3.8" stroke-linejoin="round" stroke-dasharray="10 13" stroke-dashoffset="-4"/>
</g>
<g clip-path="url(#ca2)">
<polyline points="435.60,24.40 437.08,24.40 438.56,24.40 440.05,24.41 441.53,24.43 443.01,24.44 444.49,24.46 445.98,24.48 447.46,24.51 448.94,24.54 450.42,24.57 451.91,24.60 453.39,24.64 454.87,24.69 456.35,24.75 457.84,24.83 459.32,24.92 460.80,25.02 462.28,25.13 463.76,25.24 465.25,25.37 466.73,25.51 468.21,25.65 469.69,25.80 471.18,25.95 472.66,26.11 474.14,26.28 475.62,26.45 477.11,26.62 478.59,26.81 480.07,27.02 481.55,27.25 483.04,27.50 484.52,27.76 486.00,28.04 487.48,28.34 488.96,28.66 490.45,28.99 491.93,29.34 493.41,29.70 494.89,30.08 496.38,30.48 497.86,30.89 499.34,31.32 500.82,31.76 502.31,32.24 503.79,32.76 505.27,33.32 506.75,33.92 508.24,34.56 509.72,35.24 511.20,35.96 512.68,36.72 514.16,37.52 515.65,38.37 517.13,39.25 518.61,40.17 520.09,41.13 521.58,42.14 523.06,43.18 524.54,44.30 526.02,45.57 527.51,46.99 528.99,48.54 530.47,50.20 531.95,51.96 533.44,53.80 534.92,55.71 536.40,57.66 537.88,59.65 539.36,61.66 540.85,63.75 542.33,65.95 543.81,68.26 545.29,70.66 546.78,73.16 548.26,75.75 549.74,78.41 551.22,81.14 552.71,84.06 554.19,87.21 555.67,90.49 557.15,93.84 558.64,97.16 560.12,100.38 561.60,103.41 563.08,106.41 564.56,109.40 566.05,112.37 567.53,115.26 569.01,118.05 570.49,120.71 571.98,123.20 573.46,125.49 574.94,127.64 576.42,129.70 577.91,131.69 579.39,133.59 580.87,135.43 582.35,137.20 583.84,138.91 585.32,140.56 586.80,142.17 588.28,143.74 589.76,145.27 591.25,146.77 592.73,148.24 594.21,149.68 595.69,151.08 597.18,152.44 598.66,153.77 600.14,155.06 601.62,156.31 603.11,157.51 604.59,158.67 606.07,159.78 607.55,160.85 609.04,161.82 610.52,162.72 612.00,163.59" fill="none" stroke="#1010e8" stroke-width="3.8" stroke-linejoin="round" stroke-dasharray="10 13" stroke-dashoffset="-4"/>
<polyline points="435.60,58.80 437.08,58.80 438.56,58.80 440.05,58.81 441.53,58.82 443.01,58.84 444.49,58.85 445.98,58.87 447.46,58.89 448.94,58.91 450.42,58.94 451.91,58.99 453.39,59.04 454.87,59.10 456.35,59.18 457.84,59.25 459.32,59.34 460.80,59.43 462.28,59.53 463.76,59.63 465.25,59.73 466.73,59.84 468.21,59.95 469.69,60.05 471.18,60.16 472.66,60.27 474.14,60.38 475.62,60.49 477.11,60.61 478.59,60.74 480.07,60.86 481.55,61.00 483.04,61.14 484.52,61.29 486.00,61.44 487.48,61.61 488.96,61.78 490.45,61.96 491.93,62.15 493.41,62.35 494.89,62.56 496.38,62.79 497.86,63.04 499.34,63.31 500.82,63.61 502.31,63.93 503.79,64.28 505.27,64.65 506.75,65.04 508.24,65.46 509.72,65.90 511.20,66.36 512.68,66.84 514.16,67.35 515.65,67.87 517.13,68.41 518.61,68.98 520.09,69.56 521.58,70.16 523.06,70.82 524.54,71.53 526.02,72.29 527.51,73.11 528.99,73.98 530.47,74.91 531.95,75.89 533.44,76.93 534.92,78.02 536.40,79.17 537.88,80.37 539.36,81.63 540.85,82.94 542.33,84.31 543.81,85.87 545.29,87.64 546.78,89.59 548.26,91.70 549.74,93.94 551.22,96.27 552.71,98.66 554.19,101.10 555.67,103.55 557.15,106.11 558.64,108.84 560.12,111.68 561.60,114.61 563.08,117.60 564.56,120.61 566.05,123.65 567.53,126.95 569.01,130.45 570.49,133.99 571.98,137.42 573.46,140.59 574.94,143.36 576.42,145.59 577.91,147.53 579.39,149.31 580.87,150.96 582.35,152.49 583.84,153.93 585.32,155.29 586.80,156.60 588.28,157.89 589.76,159.16 591.25,160.44 592.73,161.75 594.21,163.10 595.69,164.42 597.18,165.73 598.66,167.02 600.14,168.30 601.62,169.55 603.11,170.78 604.59,172.00 606.07,173.19 607.55,174.36 609.04,175.51 610.52,176.64 612.00,177.74" fill="none" stroke="#1010e8" stroke-width="3.8" stroke-linejoin="round" stroke-dasharray="10 13" stroke-dashoffset="-4"/>
</g>
<g clip-path="url(#ca3)">
<polyline points="610.00,16.39 611.48,16.40 612.96,16.42 614.44,16.44 615.92,16.47 617.40,16.50 618.88,16.54 620.36,16.59 621.85,16.63 623.33,16.68 624.81,16.74 626.29,16.79 627.77,16.85 629.25,16.91 630.73,16.97 632.21,17.04 633.69,17.10 635.17,17.17 636.65,17.25 638.13,17.34 639.61,17.43 641.09,17.54 642.57,17.64 644.06,17.76 645.54,17.88 647.02,18.00 648.50,18.13 649.98,18.26 651.46,18.40 652.94,18.54 654.42,18.68 655.90,18.82 657.38,18.97 658.86,19.11 660.34,19.26 661.82,19.41 663.30,19.56 664.78,19.72 666.27,19.88 667.75,20.05 669.23,20.23 670.71,20.41 672.19,20.61 673.67,20.81 675.15,21.03 676.63,21.26 678.11,21.50 679.59,21.76 681.07,22.04 682.55,22.33 684.03,22.66 685.51,23.04 686.99,23.45 688.48,23.89 689.96,24.38 691.44,24.90 692.92,25.45 694.40,26.04 695.88,26.66 697.36,27.31 698.84,27.99 700.32,28.71 701.80,29.45 703.28,30.22 704.76,31.01 706.24,31.84 707.72,32.75 709.21,33.78 710.69,34.91 712.17,36.14 713.65,37.46 715.13,38.84 716.61,40.30 718.09,41.80 719.57,43.35 721.05,44.94 722.53,46.55 724.01,48.17 725.49,49.79 726.97,51.41 728.45,53.04 729.93,54.70 731.42,56.43 732.90,58.25 734.38,60.20 735.86,62.29 737.34,64.56 738.82,67.03 740.30,69.84 741.78,73.19 743.26,77.00 744.74,81.11 746.22,85.43 747.70,89.81 749.18,94.46 750.66,99.52 752.14,104.74 753.63,109.89 755.11,114.75 756.59,119.42 758.07,123.98 759.55,128.50 761.03,133.04 762.51,137.65 763.99,142.38 765.47,147.23 766.95,152.12 768.43,156.95 769.91,161.65 771.39,166.23 772.87,170.74 774.35,175.17 775.84,179.50 777.32,183.74 778.80,187.89 780.28,191.98 781.76,195.99 783.24,199.93 784.72,203.77 786.20,207.53" fill="none" stroke="#1010e8" stroke-width="3.8" stroke-linejoin="round" stroke-dasharray="10 13" stroke-dashoffset="-4"/>
<polyline points="610.00,51.39 611.48,51.40 612.96,51.42 614.44,51.44 615.92,51.46 617.40,51.48 618.88,51.51 620.36,51.54 621.85,51.57 623.33,51.60 624.81,51.64 626.29,51.68 627.77,51.71 629.25,51.76 630.73,51.80 632.21,51.84 633.69,51.89 635.17,51.93 636.65,51.98 638.13,52.02 639.61,52.07 641.09,52.13 642.57,52.19 644.06,52.25 645.54,52.31 647.02,52.38 648.50,52.45 649.98,52.53 651.46,52.60 652.94,52.68 654.42,52.77 655.90,52.86 657.38,52.95 658.86,53.04 660.34,53.14 661.82,53.23 663.30,53.33 664.78,53.44 666.27,53.55 667.75,53.67 669.23,53.80 670.71,53.93 672.19,54.06 673.67,54.20 675.15,54.35 676.63,54.51 678.11,54.67 679.59,54.84 681.07,55.02 682.55,55.20 684.03,55.39 685.51,55.59 686.99,55.80 688.48,56.02 689.96,56.24 691.44,56.49 692.92,56.74 694.40,57.02 695.88,57.30 697.36,57.61 698.84,57.93 700.32,58.27 701.80,58.62 703.28,59.00 704.76,59.40 706.24,59.81 707.72,60.25 709.21,60.71 710.69,61.20 712.17,61.73 713.65,62.31 715.13,62.93 716.61,63.61 718.09,64.35 719.57,65.13 721.05,65.97 722.53,66.87 724.01,67.82 725.49,68.83 726.97,69.91 728.45,71.04 729.93,72.24 731.42,73.53 732.90,75.02 734.38,76.74 735.86,78.69 737.34,80.85 738.82,83.23 740.30,85.83 741.78,88.66 743.26,92.23 744.74,96.56 746.22,101.34 747.70,106.26 749.18,111.03 750.66,115.54 752.14,120.09 753.63,124.65 755.11,129.21 756.59,133.74 758.07,138.26 759.55,142.80 761.03,147.28 762.51,151.61 763.99,155.73 765.47,159.68 766.95,163.52 768.43,167.29 769.91,171.04 771.39,174.74 772.87,178.38 774.35,181.99 775.84,185.60 777.32,189.23 778.80,192.88 780.28,196.50 781.76,200.07 783.24,203.55 784.72,206.94 786.20,210.24" fill="none" stroke="#1010e8" stroke-width="3.8" stroke-linejoin="round" stroke-dasharray="10 13" stroke-dashoffset="-4"/>
</g>
<rect x="270.5" y="336.8" width="339.2" height="56.2" fill="#000"/>
<rect x="264.4" y="330.5" width="338.8" height="56.0" fill="#fff" stroke="#000" stroke-width="1.4"/>
<text x="266.41" y="348.60" font-size="16.8" text-anchor="start" >Symbols:</text>
<text x="337.66" y="348.60" font-size="16.8" text-anchor="start" font-style="italic" >I</text>
<text x="344.12" y="353.90" font-size="10.5" text-anchor="start" >D</text>
<text x="351.20" y="348.60" font-size="16.8" text-anchor="start" >,</text>
<text x="364.70" y="348.60" font-size="16.8" text-anchor="start" >Dashed Lines:</text>
<text x="470.86" y="348.60" font-size="16.8" text-anchor="start" font-style="italic" >I</text>
<text x="477.54" y="353.90" font-size="10.5" text-anchor="start" >S</text>
<text x="484.60" y="348.60" font-size="16.8" text-anchor="start" >,</text>
<text x="496.41" y="348.60" font-size="16.8" text-anchor="start" >Solid Lines:</text>
<text x="586.66" y="348.60" font-size="16.8" text-anchor="start" font-style="italic" >I</text>
<text x="593.49" y="353.90" font-size="10.5" text-anchor="start" >G</text>
<text x="266.48" y="376.00" font-size="16.8" text-anchor="start" >Ge pMOSFET on Wafer I</text>
<text x="472.42" y="376.00" font-size="16.8" text-anchor="start" font-style="italic" >L</text>
<text x="481.69" y="381.30" font-size="10.5" text-anchor="start" >G</text>
<text x="490.16" y="376.00" font-size="16.8" text-anchor="start" >/</text>
<text x="495.34" y="376.00" font-size="16.8" text-anchor="start" font-style="italic" >W</text>
<text x="513.06" y="376.00" font-size="16.8" text-anchor="start" >= 4/100 μm</text>
<rect x="88.6" y="537.9" width="309.9" height="47.3" fill="#000"/>
<rect x="81.4" y="530.8" width="309.8" height="47.2" fill="#fff" stroke="#000" stroke-width="1.3"/>
<line x1="94.40" y1="583.00" x2="94.40" y2="942.80" stroke="#000" stroke-width="3.4" />
<line x1="364.30" y1="583.00" x2="364.30" y2="942.80" stroke="#000" stroke-width="3.4" />
<line x1="92.70" y1="941.30" x2="366.00" y2="941.30" stroke="#000" stroke-width="2.6" />
<line x1="94.40" y1="941.30" x2="103.60" y2="941.30" stroke="#000" stroke-width="3" />
<line x1="94.40" y1="878.15" x2="100.60" y2="878.15" stroke="#000" stroke-width="3" />
<line x1="358.10" y1="878.15" x2="364.30" y2="878.15" stroke="#000" stroke-width="3" />
<line x1="94.40" y1="815.00" x2="103.60" y2="815.00" stroke="#000" stroke-width="3" />
<line x1="355.10" y1="815.00" x2="364.30" y2="815.00" stroke="#000" stroke-width="3" />
<line x1="94.40" y1="751.85" x2="100.60" y2="751.85" stroke="#000" stroke-width="3" />
<line x1="358.10" y1="751.85" x2="364.30" y2="751.85" stroke="#000" stroke-width="3" />
<line x1="94.40" y1="688.70" x2="103.60" y2="688.70" stroke="#000" stroke-width="3" />
<line x1="355.10" y1="688.70" x2="364.30" y2="688.70" stroke="#000" stroke-width="3" />
<line x1="94.40" y1="625.55" x2="100.60" y2="625.55" stroke="#000" stroke-width="3" />
<line x1="358.10" y1="625.55" x2="364.30" y2="625.55" stroke="#000" stroke-width="3" />
<defs><clipPath id="cb"><rect x="94.4" y="583.0" width="269.9" height="358.3"/></clipPath></defs>
<g clip-path="url(#cb)">
<polyline points="94.40,932.71 107.89,932.76 121.39,932.82 134.88,932.87 148.38,932.92 161.88,932.98 175.37,933.03 188.87,933.08 202.36,933.14 215.85,933.19 229.35,933.24 242.84,933.29 256.34,933.35 269.83,933.40 283.33,933.45 296.82,933.51 310.32,933.60 323.81,934.32 337.31,935.85 350.80,938.17 364.30,941.30" fill="none" stroke="#000" stroke-width="2.6" stroke-linejoin="round" />
<path d="M357.80,941.30H370.80L364.30,953.60Z" fill="#fff" stroke="#000" stroke-width="1.5"/>
<path d="M344.30,938.17H357.30L350.80,950.47Z" fill="#fff" stroke="#000" stroke-width="1.5"/>
<path d="M330.81,935.85H343.81L337.31,948.15Z" fill="#fff" stroke="#000" stroke-width="1.5"/>
<path d="M317.31,934.32H330.31L323.81,946.62Z" fill="#fff" stroke="#000" stroke-width="1.5"/>
<path d="M303.82,933.60H316.82L310.32,945.90Z" fill="#fff" stroke="#000" stroke-width="1.5"/>
<path d="M290.32,933.51H303.32L296.82,945.81Z" fill="#fff" stroke="#000" stroke-width="1.5"/>
<path d="M276.83,933.45H289.83L283.33,945.75Z" fill="#fff" stroke="#000" stroke-width="1.5"/>
<path d="M263.33,933.40H276.33L269.83,945.70Z" fill="#fff" stroke="#000" stroke-width="1.5"/>
<path d="M249.84,933.35H262.84L256.34,945.65Z" fill="#fff" stroke="#000" stroke-width="1.5"/>
<path d="M236.34,933.29H249.34L242.84,945.59Z" fill="#fff" stroke="#000" stroke-width="1.5"/>
<path d="M222.85,933.24H235.85L229.35,945.54Z" fill="#fff" stroke="#000" stroke-width="1.5"/>
<path d="M209.35,933.19H222.35L215.85,945.49Z" fill="#fff" stroke="#000" stroke-width="1.5"/>
<path d="M195.86,933.14H208.86L202.36,945.44Z" fill="#fff" stroke="#000" stroke-width="1.5"/>
<path d="M182.37,933.08H195.37L188.87,945.38Z" fill="#fff" stroke="#000" stroke-width="1.5"/>
<path d="M168.87,933.03H181.87L175.37,945.33Z" fill="#fff" stroke="#000" stroke-width="1.5"/>
<path d="M155.38,932.98H168.38L161.88,945.28Z" fill="#fff" stroke="#000" stroke-width="1.5"/>
<path d="M141.88,932.92H154.88L148.38,945.22Z" fill="#fff" stroke="#000" stroke-width="1.5"/>
<path d="M128.38,932.87H141.38L134.88,945.17Z" fill="#fff" stroke="#000" stroke-width="1.5"/>
<path d="M114.89,932.82H127.89L121.39,945.12Z" fill="#fff" stroke="#000" stroke-width="1.5"/>
<path d="M101.39,932.76H114.39L107.89,945.06Z" fill="#fff" stroke="#000" stroke-width="1.5"/>
<path d="M87.90,932.71H100.90L94.40,945.01Z" fill="#fff" stroke="#000" stroke-width="1.5"/>
<polyline points="94.40,898.11 107.89,898.25 121.39,898.40 134.88,898.55 148.38,898.70 161.88,898.85 175.37,898.99 188.87,899.14 202.36,899.29 215.85,899.44 229.35,899.59 242.84,899.73 256.34,899.92 269.83,900.98 283.33,903.21 296.82,906.62 310.32,911.20 323.81,916.96 337.31,923.90 350.80,932.01 364.30,941.30" fill="none" stroke="#000" stroke-width="2.6" stroke-linejoin="round" />
<path d="M357.80,941.30H370.80L364.30,953.60Z" fill="#fff" stroke="#000" stroke-width="1.5"/>
<path d="M344.30,932.01H357.30L350.80,944.31Z" fill="#fff" stroke="#000" stroke-width="1.5"/>
<path d="M330.81,923.90H343.81L337.31,936.20Z" fill="#fff" stroke="#000" stroke-width="1.5"/>
<path d="M317.31,916.96H330.31L323.81,929.26Z" fill="#fff" stroke="#000" stroke-width="1.5"/>
<path d="M303.82,911.20H316.82L310.32,923.50Z" fill="#fff" stroke="#000" stroke-width="1.5"/>
<path d="M290.32,906.62H303.32L296.82,918.92Z" fill="#fff" stroke="#000" stroke-width="1.5"/>
<path d="M276.83,903.21H289.83L283.33,915.51Z" fill="#fff" stroke="#000" stroke-width="1.5"/>
<path d="M263.33,900.98H276.33L269.83,913.28Z" fill="#fff" stroke="#000" stroke-width="1.5"/>
<path d="M249.84,899.92H262.84L256.34,912.22Z" fill="#fff" stroke="#000" stroke-width="1.5"/>
<path d="M236.34,899.73H249.34L242.84,912.03Z" fill="#fff" stroke="#000" stroke-width="1.5"/>
<path d="M222.85,899.59H235.85L229.35,911.89Z" fill="#fff" stroke="#000" stroke-width="1.5"/>
<path d="M209.35,899.44H222.35L215.85,911.74Z" fill="#fff" stroke="#000" stroke-width="1.5"/>
<path d="M195.86,899.29H208.86L202.36,911.59Z" fill="#fff" stroke="#000" stroke-width="1.5"/>
<path d="M182.37,899.14H195.37L188.87,911.44Z" fill="#fff" stroke="#000" stroke-width="1.5"/>
<path d="M168.87,898.99H181.87L175.37,911.29Z" fill="#fff" stroke="#000" stroke-width="1.5"/>
<path d="M155.38,898.85H168.38L161.88,911.15Z" fill="#fff" stroke="#000" stroke-width="1.5"/>
<path d="M141.88,898.70H154.88L148.38,911.00Z" fill="#fff" stroke="#000" stroke-width="1.5"/>
<path d="M128.38,898.55H141.38L134.88,910.85Z" fill="#fff" stroke="#000" stroke-width="1.5"/>
<path d="M114.89,898.40H127.89L121.39,910.70Z" fill="#fff" stroke="#000" stroke-width="1.5"/>
<path d="M101.39,898.25H114.39L107.89,910.55Z" fill="#fff" stroke="#000" stroke-width="1.5"/>
<path d="M87.90,898.11H100.90L94.40,910.41Z" fill="#fff" stroke="#000" stroke-width="1.5"/>
<polyline points="94.40,851.50 107.89,851.71 121.39,851.93 134.88,852.14 148.38,852.35 161.88,852.57 175.37,852.78 188.87,852.99 202.36,853.21 215.85,854.25 229.35,856.43 242.84,859.75 256.34,864.22 269.83,869.84 283.33,876.61 296.82,884.53 310.32,893.59 323.81,903.79 337.31,915.15 350.80,927.65 364.30,941.30" fill="none" stroke="#000" stroke-width="2.6" stroke-linejoin="round" />
<path d="M357.80,941.30H370.80L364.30,953.60Z" fill="#fff" stroke="#000" stroke-width="1.5"/>
<path d="M344.30,927.65H357.30L350.80,939.95Z" fill="#fff" stroke="#000" stroke-width="1.5"/>
<path d="M330.81,915.15H343.81L337.31,927.45Z" fill="#fff" stroke="#000" stroke-width="1.5"/>
<path d="M317.31,903.79H330.31L323.81,916.09Z" fill="#fff" stroke="#000" stroke-width="1.5"/>
<path d="M303.82,893.59H316.82L310.32,905.89Z" fill="#fff" stroke="#000" stroke-width="1.5"/>
<path d="M290.32,884.53H303.32L296.82,896.83Z" fill="#fff" stroke="#000" stroke-width="1.5"/>
<path d="M276.83,876.61H289.83L283.33,888.91Z" fill="#fff" stroke="#000" stroke-width="1.5"/>
<path d="M263.33,869.84H276.33L269.83,882.14Z" fill="#fff" stroke="#000" stroke-width="1.5"/>
<path d="M249.84,864.22H262.84L256.34,876.52Z" fill="#fff" stroke="#000" stroke-width="1.5"/>
<path d="M236.34,859.75H249.34L242.84,872.05Z" fill="#fff" stroke="#000" stroke-width="1.5"/>
<path d="M222.85,856.43H235.85L229.35,868.73Z" fill="#fff" stroke="#000" stroke-width="1.5"/>
<path d="M209.35,854.25H222.35L215.85,866.55Z" fill="#fff" stroke="#000" stroke-width="1.5"/>
<path d="M195.86,853.21H208.86L202.36,865.51Z" fill="#fff" stroke="#000" stroke-width="1.5"/>
<path d="M182.37,852.99H195.37L188.87,865.29Z" fill="#fff" stroke="#000" stroke-width="1.5"/>
<path d="M168.87,852.78H181.87L175.37,865.08Z" fill="#fff" stroke="#000" stroke-width="1.5"/>
<path d="M155.38,852.57H168.38L161.88,864.87Z" fill="#fff" stroke="#000" stroke-width="1.5"/>
<path d="M141.88,852.35H154.88L148.38,864.65Z" fill="#fff" stroke="#000" stroke-width="1.5"/>
<path d="M128.38,852.14H141.38L134.88,864.44Z" fill="#fff" stroke="#000" stroke-width="1.5"/>
<path d="M114.89,851.93H127.89L121.39,864.23Z" fill="#fff" stroke="#000" stroke-width="1.5"/>
<path d="M101.39,851.71H114.39L107.89,864.01Z" fill="#fff" stroke="#000" stroke-width="1.5"/>
<path d="M87.90,851.50H100.90L94.40,863.80Z" fill="#fff" stroke="#000" stroke-width="1.5"/>
<polyline points="94.40,784.06 107.89,784.34 121.39,784.63 134.88,784.91 148.38,785.18 161.88,786.22 175.37,788.43 188.87,791.80 202.36,796.33 215.85,802.02 229.35,808.88 242.84,816.89 256.34,826.07 269.83,836.41 283.33,847.91 296.82,860.57 310.32,874.39 323.81,889.38 337.31,905.52 350.80,922.83 364.30,941.30" fill="none" stroke="#000" stroke-width="2.6" stroke-linejoin="round" />
<path d="M357.80,941.30H370.80L364.30,953.60Z" fill="#fff" stroke="#000" stroke-width="1.5"/>
<path d="M344.30,922.83H357.30L350.80,935.13Z" fill="#fff" stroke="#000" stroke-width="1.5"/>
<path d="M330.81,905.52H343.81L337.31,917.82Z" fill="#fff" stroke="#000" stroke-width="1.5"/>
<path d="M317.31,889.38H330.31L323.81,901.68Z" fill="#fff" stroke="#000" stroke-width="1.5"/>
<path d="M303.82,874.39H316.82L310.32,886.69Z" fill="#fff" stroke="#000" stroke-width="1.5"/>
<path d="M290.32,860.57H303.32L296.82,872.87Z" fill="#fff" stroke="#000" stroke-width="1.5"/>
<path d="M276.83,847.91H289.83L283.33,860.21Z" fill="#fff" stroke="#000" stroke-width="1.5"/>
<path d="M263.33,836.41H276.33L269.83,848.71Z" fill="#fff" stroke="#000" stroke-width="1.5"/>
<path d="M249.84,826.07H262.84L256.34,838.37Z" fill="#fff" stroke="#000" stroke-width="1.5"/>
<path d="M236.34,816.89H249.34L242.84,829.19Z" fill="#fff" stroke="#000" stroke-width="1.5"/>
<path d="M222.85,808.88H235.85L229.35,821.18Z" fill="#fff" stroke="#000" stroke-width="1.5"/>
<path d="M209.35,802.02H222.35L215.85,814.32Z" fill="#fff" stroke="#000" stroke-width="1.5"/>
<path d="M195.86,796.33H208.86L202.36,808.63Z" fill="#fff" stroke="#000" stroke-width="1.5"/>
<path d="M182.37,791.80H195.37L188.87,804.10Z" fill="#fff" stroke="#000" stroke-width="1.5"/>
<path d="M168.87,788.43H181.87L175.37,800.73Z" fill="#fff" stroke="#000" stroke-width="1.5"/>
<path d="M155.38,786.22H168.38L161.88,798.52Z" fill="#fff" stroke="#000" stroke-width="1.5"/>
<path d="M141.88,785.18H154.88L148.38,797.48Z" fill="#fff" stroke="#000" stroke-width="1.5"/>
<path d="M128.38,784.91H141.38L134.88,797.21Z" fill="#fff" stroke="#000" stroke-width="1.5"/>
<path d="M114.89,784.63H127.89L121.39,796.93Z" fill="#fff" stroke="#000" stroke-width="1.5"/>
<path d="M101.39,784.34H114.39L107.89,796.64Z" fill="#fff" stroke="#000" stroke-width="1.5"/>
<path d="M87.90,784.06H100.90L94.40,796.36Z" fill="#fff" stroke="#000" stroke-width="1.5"/>
<polyline points="94.40,928.42 107.89,928.48 121.39,928.54 134.88,928.60 148.38,928.66 161.88,928.72 175.37,928.78 188.87,928.84 202.36,928.90 215.85,928.96 229.35,929.02 242.84,929.08 256.34,929.14 269.83,929.20 283.33,929.26 296.82,929.59 310.32,930.60 323.81,932.27 337.31,934.61 350.80,937.62 364.30,941.30" fill="none" stroke="#000" stroke-width="2.6" stroke-linejoin="round" />
<path d="M357.80,941.30H370.80L364.30,929.30Z" fill="#fff" stroke="#000" stroke-width="1.5"/>
<path d="M344.30,937.62H357.30L350.80,925.62Z" fill="#fff" stroke="#000" stroke-width="1.5"/>
<path d="M330.81,934.61H343.81L337.31,922.61Z" fill="#fff" stroke="#000" stroke-width="1.5"/>
<path d="M317.31,932.27H330.31L323.81,920.27Z" fill="#fff" stroke="#000" stroke-width="1.5"/>
<path d="M303.82,930.60H316.82L310.32,918.60Z" fill="#fff" stroke="#000" stroke-width="1.5"/>
<path d="M290.32,929.59H303.32L296.82,917.59Z" fill="#fff" stroke="#000" stroke-width="1.5"/>
<path d="M276.83,929.26H289.83L283.33,917.26Z" fill="#fff" stroke="#000" stroke-width="1.5"/>
<path d="M263.33,929.20H276.33L269.83,917.20Z" fill="#fff" stroke="#000" stroke-width="1.5"/>
<path d="M249.84,929.14H262.84L256.34,917.14Z" fill="#fff" stroke="#000" stroke-width="1.5"/>
<path d="M236.34,929.08H249.34L242.84,917.08Z" fill="#fff" stroke="#000" stroke-width="1.5"/>
<path d="M222.85,929.02H235.85L229.35,917.02Z" fill="#fff" stroke="#000" stroke-width="1.5"/>
<path d="M209.35,928.96H222.35L215.85,916.96Z" fill="#fff" stroke="#000" stroke-width="1.5"/>
<path d="M195.86,928.90H208.86L202.36,916.90Z" fill="#fff" stroke="#000" stroke-width="1.5"/>
<path d="M182.37,928.84H195.37L188.87,916.84Z" fill="#fff" stroke="#000" stroke-width="1.5"/>
<path d="M168.87,928.78H181.87L175.37,916.78Z" fill="#fff" stroke="#000" stroke-width="1.5"/>
<path d="M155.38,928.72H168.38L161.88,916.72Z" fill="#fff" stroke="#000" stroke-width="1.5"/>
<path d="M141.88,928.66H154.88L148.38,916.66Z" fill="#fff" stroke="#000" stroke-width="1.5"/>
<path d="M128.38,928.60H141.38L134.88,916.60Z" fill="#fff" stroke="#000" stroke-width="1.5"/>
<path d="M114.89,928.54H127.89L121.39,916.54Z" fill="#fff" stroke="#000" stroke-width="1.5"/>
<path d="M101.39,928.48H114.39L107.89,916.48Z" fill="#fff" stroke="#000" stroke-width="1.5"/>
<path d="M87.90,928.42H100.90L94.40,916.42Z" fill="#fff" stroke="#000" stroke-width="1.5"/>
<polyline points="94.40,884.84 107.89,885.01 121.39,885.17 134.88,885.34 148.38,885.50 161.88,885.67 175.37,885.83 188.87,885.99 202.36,886.16 215.85,886.32 229.35,886.49 242.84,887.04 256.34,888.68 269.83,891.42 283.33,895.26 296.82,900.19 310.32,906.22 323.81,913.35 337.31,921.57 350.80,930.89 364.30,941.30" fill="none" stroke="#000" stroke-width="2.6" stroke-linejoin="round" />
<path d="M357.80,941.30H370.80L364.30,929.30Z" fill="#fff" stroke="#000" stroke-width="1.5"/>
<path d="M344.30,930.89H357.30L350.80,918.89Z" fill="#fff" stroke="#000" stroke-width="1.5"/>
<path d="M330.81,921.57H343.81L337.31,909.57Z" fill="#fff" stroke="#000" stroke-width="1.5"/>
<path d="M317.31,913.35H330.31L323.81,901.35Z" fill="#fff" stroke="#000" stroke-width="1.5"/>
<path d="M303.82,906.22H316.82L310.32,894.22Z" fill="#fff" stroke="#000" stroke-width="1.5"/>
<path d="M290.32,900.19H303.32L296.82,888.19Z" fill="#fff" stroke="#000" stroke-width="1.5"/>
<path d="M276.83,895.26H289.83L283.33,883.26Z" fill="#fff" stroke="#000" stroke-width="1.5"/>
<path d="M263.33,891.42H276.33L269.83,879.42Z" fill="#fff" stroke="#000" stroke-width="1.5"/>
<path d="M249.84,888.68H262.84L256.34,876.68Z" fill="#fff" stroke="#000" stroke-width="1.5"/>
<path d="M236.34,887.04H249.34L242.84,875.04Z" fill="#fff" stroke="#000" stroke-width="1.5"/>
<path d="M222.85,886.49H235.85L229.35,874.49Z" fill="#fff" stroke="#000" stroke-width="1.5"/>
<path d="M209.35,886.32H222.35L215.85,874.32Z" fill="#fff" stroke="#000" stroke-width="1.5"/>
<path d="M195.86,886.16H208.86L202.36,874.16Z" fill="#fff" stroke="#000" stroke-width="1.5"/>
<path d="M182.37,885.99H195.37L188.87,873.99Z" fill="#fff" stroke="#000" stroke-width="1.5"/>
<path d="M168.87,885.83H181.87L175.37,873.83Z" fill="#fff" stroke="#000" stroke-width="1.5"/>
<path d="M155.38,885.67H168.38L161.88,873.67Z" fill="#fff" stroke="#000" stroke-width="1.5"/>
<path d="M141.88,885.50H154.88L148.38,873.50Z" fill="#fff" stroke="#000" stroke-width="1.5"/>
<path d="M128.38,885.34H141.38L134.88,873.34Z" fill="#fff" stroke="#000" stroke-width="1.5"/>
<path d="M114.89,885.17H127.89L121.39,873.17Z" fill="#fff" stroke="#000" stroke-width="1.5"/>
<path d="M101.39,885.01H114.39L107.89,873.01Z" fill="#fff" stroke="#000" stroke-width="1.5"/>
<path d="M87.90,884.84H100.90L94.40,872.84Z" fill="#fff" stroke="#000" stroke-width="1.5"/>
<polyline points="94.40,814.24 107.89,814.50 121.39,814.77 134.88,815.03 148.38,815.29 161.88,815.55 175.37,815.80 188.87,816.89 202.36,819.20 215.85,822.71 229.35,827.43 242.84,833.37 256.34,840.52 269.83,848.87 283.33,858.44 296.82,869.22 310.32,881.22 323.81,894.42 337.31,908.84 350.80,924.46 364.30,941.30" fill="none" stroke="#000" stroke-width="2.6" stroke-linejoin="round" />
<path d="M357.80,941.30H370.80L364.30,929.30Z" fill="#fff" stroke="#000" stroke-width="1.5"/>
<path d="M344.30,924.46H357.30L350.80,912.46Z" fill="#fff" stroke="#000" stroke-width="1.5"/>
<path d="M330.81,908.84H343.81L337.31,896.84Z" fill="#fff" stroke="#000" stroke-width="1.5"/>
<path d="M317.31,894.42H330.31L323.81,882.42Z" fill="#fff" stroke="#000" stroke-width="1.5"/>
<path d="M303.82,881.22H316.82L310.32,869.22Z" fill="#fff" stroke="#000" stroke-width="1.5"/>
<path d="M290.32,869.22H303.32L296.82,857.22Z" fill="#fff" stroke="#000" stroke-width="1.5"/>
<path d="M276.83,858.44H289.83L283.33,846.44Z" fill="#fff" stroke="#000" stroke-width="1.5"/>
<path d="M263.33,848.87H276.33L269.83,836.87Z" fill="#fff" stroke="#000" stroke-width="1.5"/>
<path d="M249.84,840.52H262.84L256.34,828.52Z" fill="#fff" stroke="#000" stroke-width="1.5"/>
<path d="M236.34,833.37H249.34L242.84,821.37Z" fill="#fff" stroke="#000" stroke-width="1.5"/>
<path d="M222.85,827.43H235.85L229.35,815.43Z" fill="#fff" stroke="#000" stroke-width="1.5"/>
<path d="M209.35,822.71H222.35L215.85,810.71Z" fill="#fff" stroke="#000" stroke-width="1.5"/>
<path d="M195.86,819.20H208.86L202.36,807.20Z" fill="#fff" stroke="#000" stroke-width="1.5"/>
<path d="M182.37,816.89H195.37L188.87,804.89Z" fill="#fff" stroke="#000" stroke-width="1.5"/>
<path d="M168.87,815.80H181.87L175.37,803.80Z" fill="#fff" stroke="#000" stroke-width="1.5"/>
<path d="M155.38,815.55H168.38L161.88,803.55Z" fill="#fff" stroke="#000" stroke-width="1.5"/>
<path d="M141.88,815.29H154.88L148.38,803.29Z" fill="#fff" stroke="#000" stroke-width="1.5"/>
<path d="M128.38,815.03H141.38L134.88,803.03Z" fill="#fff" stroke="#000" stroke-width="1.5"/>
<path d="M114.89,814.77H127.89L121.39,802.77Z" fill="#fff" stroke="#000" stroke-width="1.5"/>
<path d="M101.39,814.50H114.39L107.89,802.50Z" fill="#fff" stroke="#000" stroke-width="1.5"/>
<path d="M87.90,814.24H100.90L94.40,802.24Z" fill="#fff" stroke="#000" stroke-width="1.5"/>
<polyline points="94.40,717.24 107.89,717.62 121.39,717.99 134.88,718.68 148.38,720.75 161.88,724.19 175.37,729.02 188.87,735.22 202.36,742.80 215.85,751.76 229.35,762.10 242.84,773.82 256.34,786.91 269.83,801.39 283.33,817.24 296.82,834.47 310.32,853.08 323.81,873.07 337.31,894.43 350.80,917.18 364.30,941.30" fill="none" stroke="#000" stroke-width="2.6" stroke-linejoin="round" />
<path d="M357.80,941.30H370.80L364.30,929.30Z" fill="#fff" stroke="#000" stroke-width="1.5"/>
<path d="M344.30,917.18H357.30L350.80,905.18Z" fill="#fff" stroke="#000" stroke-width="1.5"/>
<path d="M330.81,894.43H343.81L337.31,882.43Z" fill="#fff" stroke="#000" stroke-width="1.5"/>
<path d="M317.31,873.07H330.31L323.81,861.07Z" fill="#fff" stroke="#000" stroke-width="1.5"/>
<path d="M303.82,853.08H316.82L310.32,841.08Z" fill="#fff" stroke="#000" stroke-width="1.5"/>
<path d="M290.32,834.47H303.32L296.82,822.47Z" fill="#fff" stroke="#000" stroke-width="1.5"/>
<path d="M276.83,817.24H289.83L283.33,805.24Z" fill="#fff" stroke="#000" stroke-width="1.5"/>
<path d="M263.33,801.39H276.33L269.83,789.39Z" fill="#fff" stroke="#000" stroke-width="1.5"/>
<path d="M249.84,786.91H262.84L256.34,774.91Z" fill="#fff" stroke="#000" stroke-width="1.5"/>
<path d="M236.34,773.82H249.34L242.84,761.82Z" fill="#fff" stroke="#000" stroke-width="1.5"/>
<path d="M222.85,762.10H235.85L229.35,750.10Z" fill="#fff" stroke="#000" stroke-width="1.5"/>
<path d="M209.35,751.76H222.35L215.85,739.76Z" fill="#fff" stroke="#000" stroke-width="1.5"/>
<path d="M195.86,742.80H208.86L202.36,730.80Z" fill="#fff" stroke="#000" stroke-width="1.5"/>
<path d="M182.37,735.22H195.37L188.87,723.22Z" fill="#fff" stroke="#000" stroke-width="1.5"/>
<path d="M168.87,729.02H181.87L175.37,717.02Z" fill="#fff" stroke="#000" stroke-width="1.5"/>
<path d="M155.38,724.19H168.38L161.88,712.19Z" fill="#fff" stroke="#000" stroke-width="1.5"/>
<path d="M141.88,720.75H154.88L148.38,708.75Z" fill="#fff" stroke="#000" stroke-width="1.5"/>
<path d="M128.38,718.68H141.38L134.88,706.68Z" fill="#fff" stroke="#000" stroke-width="1.5"/>
<path d="M114.89,717.99H127.89L121.39,705.99Z" fill="#fff" stroke="#000" stroke-width="1.5"/>
<path d="M101.39,717.62H114.39L107.89,705.62Z" fill="#fff" stroke="#000" stroke-width="1.5"/>
<path d="M87.90,717.24H100.90L94.40,705.24Z" fill="#fff" stroke="#000" stroke-width="1.5"/>
<polyline points="94.40,937.51 99.80,937.53 105.20,937.54 110.59,937.56 115.99,937.57 121.39,937.59 126.79,937.60 132.19,937.62 137.58,937.64 142.98,937.65 148.38,937.67 153.78,937.68 159.18,937.70 164.57,937.71 169.97,937.73 175.37,937.74 180.77,937.76 186.17,937.77 191.56,937.79 196.96,937.81 202.36,937.82 207.76,937.84 213.16,937.85 218.55,937.87 223.95,937.88 229.35,937.90 234.75,937.91 240.15,937.93 245.54,937.95 250.94,937.96 256.34,937.98 261.74,937.99 267.14,938.01 272.53,938.02 277.93,938.04 283.33,938.05 288.73,938.07 294.13,938.09 299.52,938.10 304.92,938.12 310.32,938.13 315.72,938.15 321.12,938.16 326.51,938.18 331.91,938.19 337.31,938.28 342.71,938.54 348.11,938.97 353.50,939.57 358.90,940.35 364.30,941.30" fill="none" stroke="#000" stroke-width="2.6" stroke-linejoin="round" />
<circle cx="364.30" cy="941.30" r="4.7" fill="#fff" stroke="#000" stroke-width="1.5"/>
<circle cx="358.90" cy="940.35" r="4.7" fill="#fff" stroke="#000" stroke-width="1.5"/>
<circle cx="353.50" cy="939.57" r="4.7" fill="#fff" stroke="#000" stroke-width="1.5"/>
<circle cx="348.11" cy="938.97" r="4.7" fill="#fff" stroke="#000" stroke-width="1.5"/>
<circle cx="342.71" cy="938.54" r="4.7" fill="#fff" stroke="#000" stroke-width="1.5"/>
<circle cx="337.31" cy="938.28" r="4.7" fill="#fff" stroke="#000" stroke-width="1.5"/>
<circle cx="331.91" cy="938.19" r="4.7" fill="#fff" stroke="#000" stroke-width="1.5"/>
<circle cx="326.51" cy="938.18" r="4.7" fill="#fff" stroke="#000" stroke-width="1.5"/>
<circle cx="321.12" cy="938.16" r="4.7" fill="#fff" stroke="#000" stroke-width="1.5"/>
<circle cx="315.72" cy="938.15" r="4.7" fill="#fff" stroke="#000" stroke-width="1.5"/>
<circle cx="310.32" cy="938.13" r="4.7" fill="#fff" stroke="#000" stroke-width="1.5"/>
<circle cx="304.92" cy="938.12" r="4.7" fill="#fff" stroke="#000" stroke-width="1.5"/>
<circle cx="299.52" cy="938.10" r="4.7" fill="#fff" stroke="#000" stroke-width="1.5"/>
<circle cx="294.13" cy="938.09" r="4.7" fill="#fff" stroke="#000" stroke-width="1.5"/>
<circle cx="288.73" cy="938.07" r="4.7" fill="#fff" stroke="#000" stroke-width="1.5"/>
<circle cx="283.33" cy="938.05" r="4.7" fill="#fff" stroke="#000" stroke-width="1.5"/>
<circle cx="277.93" cy="938.04" r="4.7" fill="#fff" stroke="#000" stroke-width="1.5"/>
<circle cx="272.53" cy="938.02" r="4.7" fill="#fff" stroke="#000" stroke-width="1.5"/>
<circle cx="267.14" cy="938.01" r="4.7" fill="#fff" stroke="#000" stroke-width="1.5"/>
<circle cx="261.74" cy="937.99" r="4.7" fill="#fff" stroke="#000" stroke-width="1.5"/>
<circle cx="256.34" cy="937.98" r="4.7" fill="#fff" stroke="#000" stroke-width="1.5"/>
<circle cx="250.94" cy="937.96" r="4.7" fill="#fff" stroke="#000" stroke-width="1.5"/>
<circle cx="245.54" cy="937.95" r="4.7" fill="#fff" stroke="#000" stroke-width="1.5"/>
<circle cx="240.15" cy="937.93" r="4.7" fill="#fff" stroke="#000" stroke-width="1.5"/>
<circle cx="234.75" cy="937.91" r="4.7" fill="#fff" stroke="#000" stroke-width="1.5"/>
<circle cx="229.35" cy="937.90" r="4.7" fill="#fff" stroke="#000" stroke-width="1.5"/>
<circle cx="223.95" cy="937.88" r="4.7" fill="#fff" stroke="#000" stroke-width="1.5"/>
<circle cx="218.55" cy="937.87" r="4.7" fill="#fff" stroke="#000" stroke-width="1.5"/>
<circle cx="213.16" cy="937.85" r="4.7" fill="#fff" stroke="#000" stroke-width="1.5"/>
<circle cx="207.76" cy="937.84" r="4.7" fill="#fff" stroke="#000" stroke-width="1.5"/>
<circle cx="202.36" cy="937.82" r="4.7" fill="#fff" stroke="#000" stroke-width="1.5"/>
<circle cx="196.96" cy="937.81" r="4.7" fill="#fff" stroke="#000" stroke-width="1.5"/>
<circle cx="191.56" cy="937.79" r="4.7" fill="#fff" stroke="#000" stroke-width="1.5"/>
<circle cx="186.17" cy="937.77" r="4.7" fill="#fff" stroke="#000" stroke-width="1.5"/>
<circle cx="180.77" cy="937.76" r="4.7" fill="#fff" stroke="#000" stroke-width="1.5"/>
<circle cx="175.37" cy="937.74" r="4.7" fill="#fff" stroke="#000" stroke-width="1.5"/>
<circle cx="169.97" cy="937.73" r="4.7" fill="#fff" stroke="#000" stroke-width="1.5"/>
<circle cx="164.57" cy="937.71" r="4.7" fill="#fff" stroke="#000" stroke-width="1.5"/>
<circle cx="159.18" cy="937.70" r="4.7" fill="#fff" stroke="#000" stroke-width="1.5"/>
<circle cx="153.78" cy="937.68" r="4.7" fill="#fff" stroke="#000" stroke-width="1.5"/>
<circle cx="148.38" cy="937.67" r="4.7" fill="#fff" stroke="#000" stroke-width="1.5"/>
<circle cx="142.98" cy="937.65" r="4.7" fill="#fff" stroke="#000" stroke-width="1.5"/>
<circle cx="137.58" cy="937.64" r="4.7" fill="#fff" stroke="#000" stroke-width="1.5"/>
<circle cx="132.19" cy="937.62" r="4.7" fill="#fff" stroke="#000" stroke-width="1.5"/>
<circle cx="126.79" cy="937.60" r="4.7" fill="#fff" stroke="#000" stroke-width="1.5"/>
<circle cx="121.39" cy="937.59" r="4.7" fill="#fff" stroke="#000" stroke-width="1.5"/>
<circle cx="115.99" cy="937.57" r="4.7" fill="#fff" stroke="#000" stroke-width="1.5"/>
<circle cx="110.59" cy="937.56" r="4.7" fill="#fff" stroke="#000" stroke-width="1.5"/>
<circle cx="105.20" cy="937.54" r="4.7" fill="#fff" stroke="#000" stroke-width="1.5"/>
<circle cx="99.80" cy="937.53" r="4.7" fill="#fff" stroke="#000" stroke-width="1.5"/>
<circle cx="94.40" cy="937.51" r="4.7" fill="#fff" stroke="#000" stroke-width="1.5"/>
<polyline points="94.40,907.96 99.80,908.02 105.20,908.08 110.59,908.14 115.99,908.21 121.39,908.27 126.79,908.33 132.19,908.39 137.58,908.46 142.98,908.52 148.38,908.58 153.78,908.64 159.18,908.70 164.57,908.77 169.97,908.83 175.37,908.89 180.77,908.95 186.17,909.02 191.56,909.08 196.96,909.14 202.36,909.20 207.76,909.27 213.16,909.33 218.55,909.39 223.95,909.45 229.35,909.51 234.75,909.58 240.15,909.64 245.54,909.70 250.94,909.76 256.34,909.83 261.74,909.89 267.14,909.95 272.53,910.01 277.93,910.08 283.33,910.14 288.73,910.28 294.13,910.69 299.52,911.38 304.92,912.35 310.32,913.60 315.72,915.12 321.12,916.92 326.51,919.00 331.91,921.36 337.31,923.99 342.71,926.90 348.11,930.08 353.50,933.54 358.90,937.28 364.30,941.30" fill="none" stroke="#000" stroke-width="2.6" stroke-linejoin="round" />
<circle cx="364.30" cy="941.30" r="4.7" fill="#fff" stroke="#000" stroke-width="1.5"/>
<circle cx="358.90" cy="937.28" r="4.7" fill="#fff" stroke="#000" stroke-width="1.5"/>
<circle cx="353.50" cy="933.54" r="4.7" fill="#fff" stroke="#000" stroke-width="1.5"/>
<circle cx="348.11" cy="930.08" r="4.7" fill="#fff" stroke="#000" stroke-width="1.5"/>
<circle cx="342.71" cy="926.90" r="4.7" fill="#fff" stroke="#000" stroke-width="1.5"/>
<circle cx="337.31" cy="923.99" r="4.7" fill="#fff" stroke="#000" stroke-width="1.5"/>
<circle cx="331.91" cy="921.36" r="4.7" fill="#fff" stroke="#000" stroke-width="1.5"/>
<circle cx="326.51" cy="919.00" r="4.7" fill="#fff" stroke="#000" stroke-width="1.5"/>
<circle cx="321.12" cy="916.92" r="4.7" fill="#fff" stroke="#000" stroke-width="1.5"/>
<circle cx="315.72" cy="915.12" r="4.7" fill="#fff" stroke="#000" stroke-width="1.5"/>
<circle cx="310.32" cy="913.60" r="4.7" fill="#fff" stroke="#000" stroke-width="1.5"/>
<circle cx="304.92" cy="912.35" r="4.7" fill="#fff" stroke="#000" stroke-width="1.5"/>
<circle cx="299.52" cy="911.38" r="4.7" fill="#fff" stroke="#000" stroke-width="1.5"/>
<circle cx="294.13" cy="910.69" r="4.7" fill="#fff" stroke="#000" stroke-width="1.5"/>
<circle cx="288.73" cy="910.28" r="4.7" fill="#fff" stroke="#000" stroke-width="1.5"/>
<circle cx="283.33" cy="910.14" r="4.7" fill="#fff" stroke="#000" stroke-width="1.5"/>
<circle cx="277.93" cy="910.08" r="4.7" fill="#fff" stroke="#000" stroke-width="1.5"/>
<circle cx="272.53" cy="910.01" r="4.7" fill="#fff" stroke="#000" stroke-width="1.5"/>
<circle cx="267.14" cy="909.95" r="4.7" fill="#fff" stroke="#000" stroke-width="1.5"/>
<circle cx="261.74" cy="909.89" r="4.7" fill="#fff" stroke="#000" stroke-width="1.5"/>
<circle cx="256.34" cy="909.83" r="4.7" fill="#fff" stroke="#000" stroke-width="1.5"/>
<circle cx="250.94" cy="909.76" r="4.7" fill="#fff" stroke="#000" stroke-width="1.5"/>
<circle cx="245.54" cy="909.70" r="4.7" fill="#fff" stroke="#000" stroke-width="1.5"/>
<circle cx="240.15" cy="909.64" r="4.7" fill="#fff" stroke="#000" stroke-width="1.5"/>
<circle cx="234.75" cy="909.58" r="4.7" fill="#fff" stroke="#000" stroke-width="1.5"/>
<circle cx="229.35" cy="909.51" r="4.7" fill="#fff" stroke="#000" stroke-width="1.5"/>
<circle cx="223.95" cy="909.45" r="4.7" fill="#fff" stroke="#000" stroke-width="1.5"/>
<circle cx="218.55" cy="909.39" r="4.7" fill="#fff" stroke="#000" stroke-width="1.5"/>
<circle cx="213.16" cy="909.33" r="4.7" fill="#fff" stroke="#000" stroke-width="1.5"/>
<circle cx="207.76" cy="909.27" r="4.7" fill="#fff" stroke="#000" stroke-width="1.5"/>
<circle cx="202.36" cy="909.20" r="4.7" fill="#fff" stroke="#000" stroke-width="1.5"/>
<circle cx="196.96" cy="909.14" r="4.7" fill="#fff" stroke="#000" stroke-width="1.5"/>
<circle cx="191.56" cy="909.08" r="4.7" fill="#fff" stroke="#000" stroke-width="1.5"/>
<circle cx="186.17" cy="909.02" r="4.7" fill="#fff" stroke="#000" stroke-width="1.5"/>
<circle cx="180.77" cy="908.95" r="4.7" fill="#fff" stroke="#000" stroke-width="1.5"/>
<circle cx="175.37" cy="908.89" r="4.7" fill="#fff" stroke="#000" stroke-width="1.5"/>
<circle cx="169.97" cy="908.83" r="4.7" fill="#fff" stroke="#000" stroke-width="1.5"/>
<circle cx="164.57" cy="908.77" r="4.7" fill="#fff" stroke="#000" stroke-width="1.5"/>
<circle cx="159.18" cy="908.70" r="4.7" fill="#fff" stroke="#000" stroke-width="1.5"/>
<circle cx="153.78" cy="908.64" r="4.7" fill="#fff" stroke="#000" stroke-width="1.5"/>
<circle cx="148.38" cy="908.58" r="4.7" fill="#fff" stroke="#000" stroke-width="1.5"/>
<circle cx="142.98" cy="908.52" r="4.7" fill="#fff" stroke="#000" stroke-width="1.5"/>
<circle cx="137.58" cy="908.46" r="4.7" fill="#fff" stroke="#000" stroke-width="1.5"/>
<circle cx="132.19" cy="908.39" r="4.7" fill="#fff" stroke="#000" stroke-width="1.5"/>
<circle cx="126.79" cy="908.33" r="4.7" fill="#fff" stroke="#000" stroke-width="1.5"/>
<circle cx="121.39" cy="908.27" r="4.7" fill="#fff" stroke="#000" stroke-width="1.5"/>
<circle cx="115.99" cy="908.21" r="4.7" fill="#fff" stroke="#000" stroke-width="1.5"/>
<circle cx="110.59" cy="908.14" r="4.7" fill="#fff" stroke="#000" stroke-width="1.5"/>
<circle cx="105.20" cy="908.08" r="4.7" fill="#fff" stroke="#000" stroke-width="1.5"/>
<circle cx="99.80" cy="908.02" r="4.7" fill="#fff" stroke="#000" stroke-width="1.5"/>
<circle cx="94.40" cy="907.96" r="4.7" fill="#fff" stroke="#000" stroke-width="1.5"/>
<polyline points="94.40,844.81 99.80,844.92 105.20,845.03 110.59,845.14 115.99,845.26 121.39,845.37 126.79,845.48 132.19,845.59 137.58,845.71 142.98,845.82 148.38,845.93 153.78,846.04 159.18,846.16 164.57,846.27 169.97,846.38 175.37,846.49 180.77,846.61 186.17,846.72 191.56,846.83 196.96,846.94 202.36,847.06 207.76,847.17 213.16,847.28 218.55,847.39 223.95,847.50 229.35,847.62 234.75,847.77 240.15,848.22 245.54,848.97 250.94,850.02 256.34,851.36 261.74,853.01 267.14,854.96 272.53,857.21 277.93,859.76 283.33,862.61 288.73,865.75 294.13,869.20 299.52,872.95 304.92,877.00 310.32,881.34 315.72,885.99 321.12,890.94 326.51,896.18 331.91,901.73 337.31,907.57 342.71,913.72 348.11,920.17 353.50,926.91 358.90,933.96 364.30,941.30" fill="none" stroke="#000" stroke-width="2.6" stroke-linejoin="round" />
<circle cx="364.30" cy="941.30" r="4.7" fill="#fff" stroke="#000" stroke-width="1.5"/>
<circle cx="358.90" cy="933.96" r="4.7" fill="#fff" stroke="#000" stroke-width="1.5"/>
<circle cx="353.50" cy="926.91" r="4.7" fill="#fff" stroke="#000" stroke-width="1.5"/>
<circle cx="348.11" cy="920.17" r="4.7" fill="#fff" stroke="#000" stroke-width="1.5"/>
<circle cx="342.71" cy="913.72" r="4.7" fill="#fff" stroke="#000" stroke-width="1.5"/>
<circle cx="337.31" cy="907.57" r="4.7" fill="#fff" stroke="#000" stroke-width="1.5"/>
<circle cx="331.91" cy="901.73" r="4.7" fill="#fff" stroke="#000" stroke-width="1.5"/>
<circle cx="326.51" cy="896.18" r="4.7" fill="#fff" stroke="#000" stroke-width="1.5"/>
<circle cx="321.12" cy="890.94" r="4.7" fill="#fff" stroke="#000" stroke-width="1.5"/>
<circle cx="315.72" cy="885.99" r="4.7" fill="#fff" stroke="#000" stroke-width="1.5"/>
<circle cx="310.32" cy="881.34" r="4.7" fill="#fff" stroke="#000" stroke-width="1.5"/>
<circle cx="304.92" cy="877.00" r="4.7" fill="#fff" stroke="#000" stroke-width="1.5"/>
<circle cx="299.52" cy="872.95" r="4.7" fill="#fff" stroke="#000" stroke-width="1.5"/>
<circle cx="294.13" cy="869.20" r="4.7" fill="#fff" stroke="#000" stroke-width="1.5"/>
<circle cx="288.73" cy="865.75" r="4.7" fill="#fff" stroke="#000" stroke-width="1.5"/>
<circle cx="283.33" cy="862.61" r="4.7" fill="#fff" stroke="#000" stroke-width="1.5"/>
<circle cx="277.93" cy="859.76" r="4.7" fill="#fff" stroke="#000" stroke-width="1.5"/>
<circle cx="272.53" cy="857.21" r="4.7" fill="#fff" stroke="#000" stroke-width="1.5"/>
<circle cx="267.14" cy="854.96" r="4.7" fill="#fff" stroke="#000" stroke-width="1.5"/>
<circle cx="261.74" cy="853.01" r="4.7" fill="#fff" stroke="#000" stroke-width="1.5"/>
<circle cx="256.34" cy="851.36" r="4.7" fill="#fff" stroke="#000" stroke-width="1.5"/>
<circle cx="250.94" cy="850.02" r="4.7" fill="#fff" stroke="#000" stroke-width="1.5"/>
<circle cx="245.54" cy="848.97" r="4.7" fill="#fff" stroke="#000" stroke-width="1.5"/>
<circle cx="240.15" cy="848.22" r="4.7" fill="#fff" stroke="#000" stroke-width="1.5"/>
<circle cx="234.75" cy="847.77" r="4.7" fill="#fff" stroke="#000" stroke-width="1.5"/>
<circle cx="229.35" cy="847.62" r="4.7" fill="#fff" stroke="#000" stroke-width="1.5"/>
<circle cx="223.95" cy="847.50" r="4.7" fill="#fff" stroke="#000" stroke-width="1.5"/>
<circle cx="218.55" cy="847.39" r="4.7" fill="#fff" stroke="#000" stroke-width="1.5"/>
<circle cx="213.16" cy="847.28" r="4.7" fill="#fff" stroke="#000" stroke-width="1.5"/>
<circle cx="207.76" cy="847.17" r="4.7" fill="#fff" stroke="#000" stroke-width="1.5"/>
<circle cx="202.36" cy="847.06" r="4.7" fill="#fff" stroke="#000" stroke-width="1.5"/>
<circle cx="196.96" cy="846.94" r="4.7" fill="#fff" stroke="#000" stroke-width="1.5"/>
<circle cx="191.56" cy="846.83" r="4.7" fill="#fff" stroke="#000" stroke-width="1.5"/>
<circle cx="186.17" cy="846.72" r="4.7" fill="#fff" stroke="#000" stroke-width="1.5"/>
<circle cx="180.77" cy="846.61" r="4.7" fill="#fff" stroke="#000" stroke-width="1.5"/>
<circle cx="175.37" cy="846.49" r="4.7" fill="#fff" stroke="#000" stroke-width="1.5"/>
<circle cx="169.97" cy="846.38" r="4.7" fill="#fff" stroke="#000" stroke-width="1.5"/>
<circle cx="164.57" cy="846.27" r="4.7" fill="#fff" stroke="#000" stroke-width="1.5"/>
<circle cx="159.18" cy="846.16" r="4.7" fill="#fff" stroke="#000" stroke-width="1.5"/>
<circle cx="153.78" cy="846.04" r="4.7" fill="#fff" stroke="#000" stroke-width="1.5"/>
<circle cx="148.38" cy="845.93" r="4.7" fill="#fff" stroke="#000" stroke-width="1.5"/>
<circle cx="142.98" cy="845.82" r="4.7" fill="#fff" stroke="#000" stroke-width="1.5"/>
<circle cx="137.58" cy="845.71" r="4.7" fill="#fff" stroke="#000" stroke-width="1.5"/>
<circle cx="132.19" cy="845.59" r="4.7" fill="#fff" stroke="#000" stroke-width="1.5"/>
<circle cx="126.79" cy="845.48" r="4.7" fill="#fff" stroke="#000" stroke-width="1.5"/>
<circle cx="121.39" cy="845.37" r="4.7" fill="#fff" stroke="#000" stroke-width="1.5"/>
<circle cx="115.99" cy="845.26" r="4.7" fill="#fff" stroke="#000" stroke-width="1.5"/>
<circle cx="110.59" cy="845.14" r="4.7" fill="#fff" stroke="#000" stroke-width="1.5"/>
<circle cx="105.20" cy="845.03" r="4.7" fill="#fff" stroke="#000" stroke-width="1.5"/>
<circle cx="99.80" cy="844.92" r="4.7" fill="#fff" stroke="#000" stroke-width="1.5"/>
<circle cx="94.40" cy="844.81" r="4.7" fill="#fff" stroke="#000" stroke-width="1.5"/>
<polyline points="94.40,740.48 105.20,740.85 115.99,741.22 126.79,741.59 137.58,741.96 148.38,742.33 159.18,742.70 169.97,743.07 180.77,743.45 191.56,743.82 202.36,744.59 213.16,746.90 223.95,750.76 234.75,756.16 245.54,763.10 256.34,771.59 267.14,781.62 277.93,793.19 288.73,806.30 299.52,820.96 310.32,837.16 321.12,854.90 331.91,874.19 342.71,895.01 353.50,917.39 364.30,941.30" fill="none" stroke="#000" stroke-width="2.6" stroke-linejoin="round" />
<circle cx="364.30" cy="941.30" r="4.7" fill="#fff" stroke="#000" stroke-width="1.5"/>
<circle cx="353.50" cy="917.39" r="4.7" fill="#fff" stroke="#000" stroke-width="1.5"/>
<circle cx="342.71" cy="895.01" r="4.7" fill="#fff" stroke="#000" stroke-width="1.5"/>
<circle cx="331.91" cy="874.19" r="4.7" fill="#fff" stroke="#000" stroke-width="1.5"/>
<circle cx="321.12" cy="854.90" r="4.7" fill="#fff" stroke="#000" stroke-width="1.5"/>
<circle cx="310.32" cy="837.16" r="4.7" fill="#fff" stroke="#000" stroke-width="1.5"/>
<circle cx="299.52" cy="820.96" r="4.7" fill="#fff" stroke="#000" stroke-width="1.5"/>
<circle cx="288.73" cy="806.30" r="4.7" fill="#fff" stroke="#000" stroke-width="1.5"/>
<circle cx="277.93" cy="793.19" r="4.7" fill="#fff" stroke="#000" stroke-width="1.5"/>
<circle cx="267.14" cy="781.62" r="4.7" fill="#fff" stroke="#000" stroke-width="1.5"/>
<circle cx="256.34" cy="771.59" r="4.7" fill="#fff" stroke="#000" stroke-width="1.5"/>
<circle cx="245.54" cy="763.10" r="4.7" fill="#fff" stroke="#000" stroke-width="1.5"/>
<circle cx="234.75" cy="756.16" r="4.7" fill="#fff" stroke="#000" stroke-width="1.5"/>
<circle cx="223.95" cy="750.76" r="4.7" fill="#fff" stroke="#000" stroke-width="1.5"/>
<circle cx="213.16" cy="746.90" r="4.7" fill="#fff" stroke="#000" stroke-width="1.5"/>
<circle cx="202.36" cy="744.59" r="4.7" fill="#fff" stroke="#000" stroke-width="1.5"/>
<circle cx="191.56" cy="743.82" r="4.7" fill="#fff" stroke="#000" stroke-width="1.5"/>
<circle cx="180.77" cy="743.45" r="4.7" fill="#fff" stroke="#000" stroke-width="1.5"/>
<circle cx="169.97" cy="743.07" r="4.7" fill="#fff" stroke="#000" stroke-width="1.5"/>
<circle cx="159.18" cy="742.70" r="4.7" fill="#fff" stroke="#000" stroke-width="1.5"/>
<circle cx="148.38" cy="742.33" r="4.7" fill="#fff" stroke="#000" stroke-width="1.5"/>
<circle cx="137.58" cy="741.96" r="4.7" fill="#fff" stroke="#000" stroke-width="1.5"/>
<circle cx="126.79" cy="741.59" r="4.7" fill="#fff" stroke="#000" stroke-width="1.5"/>
<circle cx="115.99" cy="741.22" r="4.7" fill="#fff" stroke="#000" stroke-width="1.5"/>
<circle cx="105.20" cy="740.85" r="4.7" fill="#fff" stroke="#000" stroke-width="1.5"/>
<circle cx="94.40" cy="740.48" r="4.7" fill="#fff" stroke="#000" stroke-width="1.5"/>
<polyline points="94.40,607.87 105.20,608.34 115.99,608.82 126.79,609.29 137.58,609.76 148.38,610.51 159.18,612.77 169.97,616.53 180.77,621.79 191.56,628.56 202.36,636.83 213.16,646.60 223.95,657.88 234.75,670.66 245.54,684.94 256.34,700.73 267.14,718.02 277.93,736.81 288.73,757.11 299.52,778.91 310.32,802.22 321.12,827.03 331.91,853.34 342.71,881.16 353.50,910.48 364.30,941.30" fill="none" stroke="#000" stroke-width="2.6" stroke-linejoin="round" />
<circle cx="364.30" cy="941.30" r="4.7" fill="#fff" stroke="#000" stroke-width="1.5"/>
<circle cx="353.50" cy="910.48" r="4.7" fill="#fff" stroke="#000" stroke-width="1.5"/>
<circle cx="342.71" cy="881.16" r="4.7" fill="#fff" stroke="#000" stroke-width="1.5"/>
<circle cx="331.91" cy="853.34" r="4.7" fill="#fff" stroke="#000" stroke-width="1.5"/>
<circle cx="321.12" cy="827.03" r="4.7" fill="#fff" stroke="#000" stroke-width="1.5"/>
<circle cx="310.32" cy="802.22" r="4.7" fill="#fff" stroke="#000" stroke-width="1.5"/>
<circle cx="299.52" cy="778.91" r="4.7" fill="#fff" stroke="#000" stroke-width="1.5"/>
<circle cx="288.73" cy="757.11" r="4.7" fill="#fff" stroke="#000" stroke-width="1.5"/>
<circle cx="277.93" cy="736.81" r="4.7" fill="#fff" stroke="#000" stroke-width="1.5"/>
<circle cx="267.14" cy="718.02" r="4.7" fill="#fff" stroke="#000" stroke-width="1.5"/>
<circle cx="256.34" cy="700.73" r="4.7" fill="#fff" stroke="#000" stroke-width="1.5"/>
<circle cx="245.54" cy="684.94" r="4.7" fill="#fff" stroke="#000" stroke-width="1.5"/>
<circle cx="234.75" cy="670.66" r="4.7" fill="#fff" stroke="#000" stroke-width="1.5"/>
<circle cx="223.95" cy="657.88" r="4.7" fill="#fff" stroke="#000" stroke-width="1.5"/>
<circle cx="213.16" cy="646.60" r="4.7" fill="#fff" stroke="#000" stroke-width="1.5"/>
<circle cx="202.36" cy="636.83" r="4.7" fill="#fff" stroke="#000" stroke-width="1.5"/>
<circle cx="191.56" cy="628.56" r="4.7" fill="#fff" stroke="#000" stroke-width="1.5"/>
<circle cx="180.77" cy="621.79" r="4.7" fill="#fff" stroke="#000" stroke-width="1.5"/>
<circle cx="169.97" cy="616.53" r="4.7" fill="#fff" stroke="#000" stroke-width="1.5"/>
<circle cx="159.18" cy="612.77" r="4.7" fill="#fff" stroke="#000" stroke-width="1.5"/>
<circle cx="148.38" cy="610.51" r="4.7" fill="#fff" stroke="#000" stroke-width="1.5"/>
<circle cx="137.58" cy="609.76" r="4.7" fill="#fff" stroke="#000" stroke-width="1.5"/>
<circle cx="126.79" cy="609.29" r="4.7" fill="#fff" stroke="#000" stroke-width="1.5"/>
<circle cx="115.99" cy="608.82" r="4.7" fill="#fff" stroke="#000" stroke-width="1.5"/>
<circle cx="105.20" cy="608.34" r="4.7" fill="#fff" stroke="#000" stroke-width="1.5"/>
<circle cx="94.40" cy="607.87" r="4.7" fill="#fff" stroke="#000" stroke-width="1.5"/>
<rect x="359.90" y="936.90" width="8.8" height="8.8" fill="#fff" stroke="#000" stroke-width="1.5"/>
<rect x="346.40" y="935.40" width="8.8" height="8.8" fill="#fff" stroke="#000" stroke-width="1.5"/>
<rect x="332.91" y="934.69" width="8.8" height="8.8" fill="#fff" stroke="#000" stroke-width="1.5"/>
<rect x="319.41" y="934.61" width="8.8" height="8.8" fill="#fff" stroke="#000" stroke-width="1.5"/>
<rect x="305.92" y="934.58" width="8.8" height="8.8" fill="#fff" stroke="#000" stroke-width="1.5"/>
<rect x="292.43" y="934.55" width="8.8" height="8.8" fill="#fff" stroke="#000" stroke-width="1.5"/>
<rect x="278.93" y="934.52" width="8.8" height="8.8" fill="#fff" stroke="#000" stroke-width="1.5"/>
<rect x="265.44" y="934.49" width="8.8" height="8.8" fill="#fff" stroke="#000" stroke-width="1.5"/>
<rect x="251.94" y="934.46" width="8.8" height="8.8" fill="#fff" stroke="#000" stroke-width="1.5"/>
<rect x="238.44" y="934.43" width="8.8" height="8.8" fill="#fff" stroke="#000" stroke-width="1.5"/>
<rect x="224.95" y="934.41" width="8.8" height="8.8" fill="#fff" stroke="#000" stroke-width="1.5"/>
<rect x="211.45" y="934.38" width="8.8" height="8.8" fill="#fff" stroke="#000" stroke-width="1.5"/>
<rect x="197.96" y="934.35" width="8.8" height="8.8" fill="#fff" stroke="#000" stroke-width="1.5"/>
<rect x="184.47" y="934.32" width="8.8" height="8.8" fill="#fff" stroke="#000" stroke-width="1.5"/>
<rect x="170.97" y="934.29" width="8.8" height="8.8" fill="#fff" stroke="#000" stroke-width="1.5"/>
<rect x="157.47" y="934.26" width="8.8" height="8.8" fill="#fff" stroke="#000" stroke-width="1.5"/>
<rect x="143.98" y="934.24" width="8.8" height="8.8" fill="#fff" stroke="#000" stroke-width="1.5"/>
<rect x="130.48" y="934.21" width="8.8" height="8.8" fill="#fff" stroke="#000" stroke-width="1.5"/>
<rect x="116.99" y="934.18" width="8.8" height="8.8" fill="#fff" stroke="#000" stroke-width="1.5"/>
<rect x="103.49" y="934.15" width="8.8" height="8.8" fill="#fff" stroke="#000" stroke-width="1.5"/>
<rect x="90.00" y="934.12" width="8.8" height="8.8" fill="#fff" stroke="#000" stroke-width="1.5"/>
<rect x="359.90" y="936.90" width="8.8" height="8.8" fill="#fff" stroke="#000" stroke-width="1.5"/>
<rect x="346.40" y="932.54" width="8.8" height="8.8" fill="#fff" stroke="#000" stroke-width="1.5"/>
<rect x="332.91" y="929.07" width="8.8" height="8.8" fill="#fff" stroke="#000" stroke-width="1.5"/>
<rect x="319.41" y="926.49" width="8.8" height="8.8" fill="#fff" stroke="#000" stroke-width="1.5"/>
<rect x="305.92" y="924.80" width="8.8" height="8.8" fill="#fff" stroke="#000" stroke-width="1.5"/>
<rect x="292.43" y="924.00" width="8.8" height="8.8" fill="#fff" stroke="#000" stroke-width="1.5"/>
<rect x="278.93" y="923.89" width="8.8" height="8.8" fill="#fff" stroke="#000" stroke-width="1.5"/>
<rect x="265.44" y="923.82" width="8.8" height="8.8" fill="#fff" stroke="#000" stroke-width="1.5"/>
<rect x="251.94" y="923.75" width="8.8" height="8.8" fill="#fff" stroke="#000" stroke-width="1.5"/>
<rect x="238.44" y="923.67" width="8.8" height="8.8" fill="#fff" stroke="#000" stroke-width="1.5"/>
<rect x="224.95" y="923.60" width="8.8" height="8.8" fill="#fff" stroke="#000" stroke-width="1.5"/>
<rect x="211.45" y="923.53" width="8.8" height="8.8" fill="#fff" stroke="#000" stroke-width="1.5"/>
<rect x="197.96" y="923.46" width="8.8" height="8.8" fill="#fff" stroke="#000" stroke-width="1.5"/>
<rect x="184.47" y="923.38" width="8.8" height="8.8" fill="#fff" stroke="#000" stroke-width="1.5"/>
<rect x="170.97" y="923.31" width="8.8" height="8.8" fill="#fff" stroke="#000" stroke-width="1.5"/>
<rect x="157.47" y="923.24" width="8.8" height="8.8" fill="#fff" stroke="#000" stroke-width="1.5"/>
<rect x="143.98" y="923.17" width="8.8" height="8.8" fill="#fff" stroke="#000" stroke-width="1.5"/>
<rect x="130.48" y="923.10" width="8.8" height="8.8" fill="#fff" stroke="#000" stroke-width="1.5"/>
<rect x="116.99" y="923.02" width="8.8" height="8.8" fill="#fff" stroke="#000" stroke-width="1.5"/>
<rect x="103.49" y="922.95" width="8.8" height="8.8" fill="#fff" stroke="#000" stroke-width="1.5"/>
<rect x="90.00" y="922.88" width="8.8" height="8.8" fill="#fff" stroke="#000" stroke-width="1.5"/>
<rect x="359.90" y="936.90" width="8.8" height="8.8" fill="#fff" stroke="#000" stroke-width="1.5"/>
<rect x="346.40" y="927.20" width="8.8" height="8.8" fill="#fff" stroke="#000" stroke-width="1.5"/>
<rect x="332.91" y="918.60" width="8.8" height="8.8" fill="#fff" stroke="#000" stroke-width="1.5"/>
<rect x="319.41" y="911.08" width="8.8" height="8.8" fill="#fff" stroke="#000" stroke-width="1.5"/>
<rect x="305.92" y="904.65" width="8.8" height="8.8" fill="#fff" stroke="#000" stroke-width="1.5"/>
<rect x="292.43" y="899.31" width="8.8" height="8.8" fill="#fff" stroke="#000" stroke-width="1.5"/>
<rect x="278.93" y="895.06" width="8.8" height="8.8" fill="#fff" stroke="#000" stroke-width="1.5"/>
<rect x="265.44" y="891.90" width="8.8" height="8.8" fill="#fff" stroke="#000" stroke-width="1.5"/>
<rect x="251.94" y="889.83" width="8.8" height="8.8" fill="#fff" stroke="#000" stroke-width="1.5"/>
<rect x="238.44" y="888.85" width="8.8" height="8.8" fill="#fff" stroke="#000" stroke-width="1.5"/>
<rect x="224.95" y="888.67" width="8.8" height="8.8" fill="#fff" stroke="#000" stroke-width="1.5"/>
<rect x="211.45" y="888.52" width="8.8" height="8.8" fill="#fff" stroke="#000" stroke-width="1.5"/>
<rect x="197.96" y="888.37" width="8.8" height="8.8" fill="#fff" stroke="#000" stroke-width="1.5"/>
<rect x="184.47" y="888.21" width="8.8" height="8.8" fill="#fff" stroke="#000" stroke-width="1.5"/>
<rect x="170.97" y="888.06" width="8.8" height="8.8" fill="#fff" stroke="#000" stroke-width="1.5"/>
<rect x="157.47" y="887.91" width="8.8" height="8.8" fill="#fff" stroke="#000" stroke-width="1.5"/>
<rect x="143.98" y="887.75" width="8.8" height="8.8" fill="#fff" stroke="#000" stroke-width="1.5"/>
<rect x="130.48" y="887.60" width="8.8" height="8.8" fill="#fff" stroke="#000" stroke-width="1.5"/>
<rect x="116.99" y="887.45" width="8.8" height="8.8" fill="#fff" stroke="#000" stroke-width="1.5"/>
<rect x="103.49" y="887.29" width="8.8" height="8.8" fill="#fff" stroke="#000" stroke-width="1.5"/>
<rect x="90.00" y="887.14" width="8.8" height="8.8" fill="#fff" stroke="#000" stroke-width="1.5"/>
<rect x="359.90" y="936.90" width="8.8" height="8.8" fill="#fff" stroke="#000" stroke-width="1.5"/>
<rect x="346.40" y="921.43" width="8.8" height="8.8" fill="#fff" stroke="#000" stroke-width="1.5"/>
<rect x="332.91" y="907.14" width="8.8" height="8.8" fill="#fff" stroke="#000" stroke-width="1.5"/>
<rect x="319.41" y="894.03" width="8.8" height="8.8" fill="#fff" stroke="#000" stroke-width="1.5"/>
<rect x="305.92" y="882.10" width="8.8" height="8.8" fill="#fff" stroke="#000" stroke-width="1.5"/>
<rect x="292.43" y="871.35" width="8.8" height="8.8" fill="#fff" stroke="#000" stroke-width="1.5"/>
<rect x="278.93" y="861.79" width="8.8" height="8.8" fill="#fff" stroke="#000" stroke-width="1.5"/>
<rect x="265.44" y="853.40" width="8.8" height="8.8" fill="#fff" stroke="#000" stroke-width="1.5"/>
<rect x="251.94" y="846.20" width="8.8" height="8.8" fill="#fff" stroke="#000" stroke-width="1.5"/>
<rect x="238.44" y="840.17" width="8.8" height="8.8" fill="#fff" stroke="#000" stroke-width="1.5"/>
<rect x="224.95" y="835.33" width="8.8" height="8.8" fill="#fff" stroke="#000" stroke-width="1.5"/>
<rect x="211.45" y="831.67" width="8.8" height="8.8" fill="#fff" stroke="#000" stroke-width="1.5"/>
<rect x="197.96" y="829.19" width="8.8" height="8.8" fill="#fff" stroke="#000" stroke-width="1.5"/>
<rect x="184.47" y="827.89" width="8.8" height="8.8" fill="#fff" stroke="#000" stroke-width="1.5"/>
<rect x="170.97" y="827.58" width="8.8" height="8.8" fill="#fff" stroke="#000" stroke-width="1.5"/>
<rect x="157.47" y="827.34" width="8.8" height="8.8" fill="#fff" stroke="#000" stroke-width="1.5"/>
<rect x="143.98" y="827.10" width="8.8" height="8.8" fill="#fff" stroke="#000" stroke-width="1.5"/>
<rect x="130.48" y="826.86" width="8.8" height="8.8" fill="#fff" stroke="#000" stroke-width="1.5"/>
<rect x="116.99" y="826.62" width="8.8" height="8.8" fill="#fff" stroke="#000" stroke-width="1.5"/>
<rect x="103.49" y="826.38" width="8.8" height="8.8" fill="#fff" stroke="#000" stroke-width="1.5"/>
<rect x="90.00" y="826.13" width="8.8" height="8.8" fill="#fff" stroke="#000" stroke-width="1.5"/>
<rect x="359.90" y="936.90" width="8.8" height="8.8" fill="#fff" stroke="#000" stroke-width="1.5"/>
<rect x="346.40" y="915.97" width="8.8" height="8.8" fill="#fff" stroke="#000" stroke-width="1.5"/>
<rect x="332.91" y="896.24" width="8.8" height="8.8" fill="#fff" stroke="#000" stroke-width="1.5"/>
<rect x="319.41" y="877.70" width="8.8" height="8.8" fill="#fff" stroke="#000" stroke-width="1.5"/>
<rect x="305.92" y="860.36" width="8.8" height="8.8" fill="#fff" stroke="#000" stroke-width="1.5"/>
<rect x="292.43" y="844.22" width="8.8" height="8.8" fill="#fff" stroke="#000" stroke-width="1.5"/>
<rect x="278.93" y="829.27" width="8.8" height="8.8" fill="#fff" stroke="#000" stroke-width="1.5"/>
<rect x="265.44" y="815.52" width="8.8" height="8.8" fill="#fff" stroke="#000" stroke-width="1.5"/>
<rect x="251.94" y="802.96" width="8.8" height="8.8" fill="#fff" stroke="#000" stroke-width="1.5"/>
<rect x="238.44" y="791.60" width="8.8" height="8.8" fill="#fff" stroke="#000" stroke-width="1.5"/>
<rect x="224.95" y="781.44" width="8.8" height="8.8" fill="#fff" stroke="#000" stroke-width="1.5"/>
<rect x="211.45" y="772.47" width="8.8" height="8.8" fill="#fff" stroke="#000" stroke-width="1.5"/>
<rect x="197.96" y="764.70" width="8.8" height="8.8" fill="#fff" stroke="#000" stroke-width="1.5"/>
<rect x="184.47" y="758.12" width="8.8" height="8.8" fill="#fff" stroke="#000" stroke-width="1.5"/>
<rect x="170.97" y="752.74" width="8.8" height="8.8" fill="#fff" stroke="#000" stroke-width="1.5"/>
<rect x="157.47" y="748.55" width="8.8" height="8.8" fill="#fff" stroke="#000" stroke-width="1.5"/>
<rect x="143.98" y="745.56" width="8.8" height="8.8" fill="#fff" stroke="#000" stroke-width="1.5"/>
<rect x="130.48" y="743.77" width="8.8" height="8.8" fill="#fff" stroke="#000" stroke-width="1.5"/>
<rect x="116.99" y="743.17" width="8.8" height="8.8" fill="#fff" stroke="#000" stroke-width="1.5"/>
<rect x="103.49" y="742.85" width="8.8" height="8.8" fill="#fff" stroke="#000" stroke-width="1.5"/>
<rect x="90.00" y="742.52" width="8.8" height="8.8" fill="#fff" stroke="#000" stroke-width="1.5"/>
</g>
<line x1="105.20" y1="543.40" x2="143.20" y2="543.40" stroke="#000" stroke-width="2.6" />
<path d="M117.60,539.10H130.80L124.20,550.00Z" fill="#fff" stroke="#000" stroke-width="1.6"/>
<text x="149.01" y="549.20" font-size="17.2" text-anchor="start" >PMA350</text>
<text x="216.41" y="540.90" font-size="11" text-anchor="start" >o</text>
<text x="222.21" y="549.20" font-size="17.6" text-anchor="start" >C</text>
<line x1="238.80" y1="543.40" x2="276.80" y2="543.40" stroke="#000" stroke-width="2.6" />
<rect x="253.30" y="538.90" width="9.0" height="9.0" fill="#fff" stroke="#000" stroke-width="1.6"/>
<text x="281.41" y="549.20" font-size="17.2" text-anchor="start" >PMA400</text>
<text x="348.81" y="540.90" font-size="11" text-anchor="start" >o</text>
<text x="354.61" y="549.20" font-size="17.6" text-anchor="start" >C</text>
<line x1="105.20" y1="567.80" x2="143.20" y2="567.80" stroke="#000" stroke-width="2.6" />
<path d="M117.60,571.80H130.80L124.20,560.90Z" fill="#fff" stroke="#000" stroke-width="1.6"/>
<text x="149.01" y="573.60" font-size="17.2" text-anchor="start" >PMA450</text>
<text x="216.41" y="565.30" font-size="11" text-anchor="start" >o</text>
<text x="222.21" y="573.60" font-size="17.6" text-anchor="start" >C</text>
<line x1="238.80" y1="567.80" x2="276.80" y2="567.80" stroke="#000" stroke-width="2.6" />
<circle cx="257.80" cy="567.80" r="5.2" fill="#fff" stroke="#000" stroke-width="1.6"/>
<text x="281.41" y="573.60" font-size="17.2" text-anchor="start" >PMA500</text>
<text x="348.81" y="565.30" font-size="11" text-anchor="start" >o</text>
<text x="354.61" y="573.60" font-size="17.6" text-anchor="start" >C</text>
<text x="88.30" y="949.10" font-size="27.4" text-anchor="end" >0</text>
<text x="88.30" y="822.80" font-size="27.4" text-anchor="end" >10</text>
<text x="88.30" y="696.50" font-size="27.4" text-anchor="end" >20</text>
<text x="80.60" y="569.60" font-size="27.4" text-anchor="end" >30</text>
<text x="94.10" y="973.30" font-size="27.5" text-anchor="middle" >-1.0</text>
<text x="229.05" y="973.30" font-size="27.5" text-anchor="middle" >-0.5</text>
<text x="364.00" y="973.30" font-size="27.5" text-anchor="middle" >0.0</text>
<text x="111.7" y="1001.4" font-size="24.7">Drain Voltage <tspan font-style="italic">V</tspan><tspan font-size="15.5" dy="8.5">DS</tspan><tspan dy="-8.5"> (V)</tspan></text>
<text x="223.40" y="1052.20" font-size="32.7" text-anchor="middle" >(b)</text>
<text transform="translate(48.6,895.2) rotate(-90)" font-size="24.4">Drain Current <tspan font-style="italic">I</tspan><tspan font-size="15.5" dy="8">DS</tspan><tspan dy="-8"> (μA/μm)</tspan></text>
<text x="231.50" y="619.50" font-size="20" text-anchor="start" >|</text>
<text x="237.06" y="617.20" font-size="19.5" text-anchor="start" font-style="italic" >V</text>
<text x="249.40" y="624.20" font-size="12.3" text-anchor="start" >GS</text>
<text x="264.29" y="617.20" font-size="19.5" text-anchor="start" >-</text>
<text x="270.86" y="617.20" font-size="19.5" text-anchor="start" font-style="italic" >V</text>
<text x="286.21" y="624.20" font-size="12.3" text-anchor="start" >TH</text>
<text x="301.10" y="619.50" font-size="20" text-anchor="start" >|</text>
<text x="309.03" y="617.20" font-size="19.5" text-anchor="start" >=0.8V</text>
<text x="241.30" y="649.80" font-size="20" text-anchor="start" >|</text>
<text x="246.46" y="647.50" font-size="19.5" text-anchor="start" >Step</text>
<text x="284.50" y="649.80" font-size="20" text-anchor="start" >|</text>
<text x="292.53" y="647.50" font-size="19.5" text-anchor="start" >= 0.2 V</text>
<text x="269.22" y="678.60" font-size="19.5" text-anchor="start" >Wafer I</text>
<line x1="218.20" y1="632.70" x2="237.30" y2="624.60" stroke="#8a8a8a" stroke-width="2.6" />
<line x1="235.90" y1="641.20" x2="180.60" y2="707.90" stroke="#8a8a8a" stroke-width="2.6" />
<line x1="241.60" y1="651.20" x2="172.00" y2="742.70" stroke="#8a8a8a" stroke-width="2.6" />
<line x1="246.50" y1="654.70" x2="172.00" y2="776.70" stroke="#8a8a8a" stroke-width="2.6" />
<line x1="103.30" y1="626.00" x2="103.30" y2="777.70" stroke="#0000ff" stroke-width="2.6" />
<path d="M103.3,614.6 L107.7,629.6 L98.9,629.6 Z" fill="#0000ff"/>
<line x1="112.20" y1="626.00" x2="112.20" y2="710.00" stroke="#8a8a8a" stroke-width="2.6" />
<path d="M112.2,615.2 L116.6,629.6 L107.8,629.6 Z" fill="#8a8a8a"/>
<text x="119.59" y="671.30" font-size="22.5" text-anchor="start" fill="#8a8a8a" >47%</text>
<text x="110.70" y="776.70" font-size="22.5" text-anchor="start" fill="#0000ff" >118%</text>
<line x1="542.60" y1="554.10" x2="542.60" y2="939.10" stroke="#858585" stroke-width="2.2" stroke-dasharray="9.3 6 1.2 6.3" stroke-dashoffset="3"/>
<line x1="611.50" y1="554.10" x2="611.50" y2="939.10" stroke="#858585" stroke-width="2.2" stroke-dasharray="9.3 6 1.2 6.3" stroke-dashoffset="3"/>
<line x1="680.20" y1="554.10" x2="680.20" y2="939.10" stroke="#858585" stroke-width="2.2" stroke-dasharray="9.3 6 1.2 6.3" stroke-dashoffset="3"/>
<line x1="748.60" y1="554.10" x2="748.60" y2="939.10" stroke="#858585" stroke-width="2.2" stroke-dasharray="9.3 6 1.2 6.3" stroke-dashoffset="3"/>
<rect x="531" y="586" width="121" height="55" fill="#fff"/>
<rect x="531" y="651" width="78.5" height="23" fill="#fff"/>
<rect x="656" y="879" width="104" height="42" fill="#fff"/>
<rect x="661" y="756" width="45" height="21" fill="#fff"/>
<rect x="661" y="846" width="41" height="22" fill="#fff"/>
<rect x="724" y="800" width="56" height="29" fill="#fff"/>
<text x="531.97" y="603.30" font-size="21.6" text-anchor="start" font-style="italic"  transform="matrix(1.05 0 0 1 -26.60 0)">V</text>
<text x="546.05" y="611.00" font-size="13.8" text-anchor="start"  transform="matrix(1.05 0 0 1 -27.30 0)">DS</text>
<text x="561.97" y="603.30" font-size="21.6" text-anchor="start"  transform="matrix(1.05 0 0 1 -28.10 0)">= -0.5 V</text>
<text x="531.97" y="637.60" font-size="21.6" text-anchor="start" font-style="italic"  transform="matrix(1.05 0 0 1 -26.60 0)">V</text>
<text x="545.19" y="645.00" font-size="13.8" text-anchor="start"  transform="matrix(1.05 0 0 1 -27.26 0)">GS</text>
<text x="562.97" y="637.60" font-size="21.6" text-anchor="start"  transform="matrix(1.05 0 0 1 -28.15 0)">=</text>
<text x="576.27" y="637.60" font-size="21.6" text-anchor="start" font-style="italic"  transform="matrix(1.05 0 0 1 -28.81 0)">V</text>
<text x="592.47" y="645.00" font-size="13.8" text-anchor="start"  transform="matrix(1.05 0 0 1 -29.62 0)">TH</text>
<text x="610.17" y="637.60" font-size="21.6" text-anchor="start"  transform="matrix(1.05 0 0 1 -30.51 0)">-1 V</text>
<text x="533.68" y="669.40" font-size="21.6" text-anchor="start"  transform="matrix(1.05 0 0 1 -26.68 0)">Wafer I</text>
<line x1="542.60" y1="878.80" x2="542.60" y2="894.70" stroke="#000" stroke-width="1.4" />
<rect x="526.3" y="885.2" width="32.6" height="5.3" rx="1" fill="#fff" stroke="#000" stroke-width="2.8"/>
<rect x="538.0" y="882.9" width="9.2" height="9.0" fill="none" stroke="#8a8a8a" stroke-width="1.3"/>
<path d="M536.6,872.8L548.6,884.8M536.6,884.8L548.6,872.8M537.2,878.8H548.0" stroke="#000" stroke-width="1.3" fill="none"/>
<path d="M536.6,888.7L548.6,900.7M536.6,900.7L548.6,888.7M537.2,894.7H548.0" stroke="#000" stroke-width="1.3" fill="none"/>
<line x1="611.50" y1="823.30" x2="611.50" y2="857.50" stroke="#000" stroke-width="1.4" />
<rect x="609.5" y="825.5" width="4" height="4" fill="#000"/>
<rect x="609.5" y="846.6" width="4" height="4" fill="#000"/>
<rect x="595.2" y="831.2" width="32.6" height="14.2" rx="1" fill="#fff" stroke="#000" stroke-width="2.8"/>
<line x1="596.00" y1="836.30" x2="627.00" y2="836.30" stroke="#000" stroke-width="2.1" />
<rect x="606.9" y="832.8" width="9.2" height="9.6" fill="none" stroke="#8a8a8a" stroke-width="1.3"/>
<path d="M605.5,817.3L617.5,829.3M605.5,829.3L617.5,817.3M606.1,823.3H616.9" stroke="#000" stroke-width="1.3" fill="none"/>
<path d="M605.5,851.5L617.5,863.5M605.5,863.5L617.5,851.5M606.1,857.5H616.9" stroke="#000" stroke-width="1.3" fill="none"/>
<line x1="680.20" y1="789.50" x2="680.20" y2="831.50" stroke="#000" stroke-width="1.4" />
<rect x="678.2" y="798.5" width="4" height="4" fill="#000"/>
<rect x="678.2" y="825.5" width="4" height="4" fill="#000"/>
<rect x="663.9" y="805.7" width="32.6" height="17.0" rx="1" fill="#fff" stroke="#000" stroke-width="2.8"/>
<line x1="664.70" y1="817.60" x2="695.70" y2="817.60" stroke="#000" stroke-width="2.1" />
<rect x="675.6" y="809.1" width="9.2" height="7.0" fill="none" stroke="#8a8a8a" stroke-width="1.3"/>
<path d="M674.2,783.5L686.2,795.5M674.2,795.5L686.2,783.5M674.8,789.5H685.6" stroke="#000" stroke-width="1.3" fill="none"/>
<path d="M674.2,825.5L686.2,837.5M674.2,837.5L686.2,825.5M674.8,831.5H685.6" stroke="#000" stroke-width="1.3" fill="none"/>
<line x1="748.60" y1="608.80" x2="748.60" y2="644.50" stroke="#000" stroke-width="1.4" />
<rect x="746.6" y="616.4" width="4" height="4" fill="#000"/>
<rect x="746.6" y="638.5" width="4" height="4" fill="#000"/>
<rect x="732.3" y="622.6" width="32.6" height="14.4" rx="1" fill="#fff" stroke="#000" stroke-width="2.8"/>
<line x1="733.10" y1="632.60" x2="764.10" y2="632.60" stroke="#000" stroke-width="2.1" />
<rect x="744.0" y="625.1" width="9.2" height="7.0" fill="none" stroke="#8a8a8a" stroke-width="1.3"/>
<path d="M742.6,602.8L754.6,614.8M742.6,614.8L754.6,602.8M743.2,608.8H754.0" stroke="#000" stroke-width="1.3" fill="none"/>
<path d="M742.6,638.5L754.6,650.5M742.6,650.5L754.6,638.5M743.2,644.5H754.0" stroke="#000" stroke-width="1.3" fill="none"/>
<line x1="508.80" y1="552.20" x2="508.80" y2="940.70" stroke="#000" stroke-width="4.0" />
<line x1="782.60" y1="552.20" x2="782.60" y2="940.70" stroke="#000" stroke-width="4.0" />
<line x1="506.80" y1="554.10" x2="784.60" y2="554.10" stroke="#000" stroke-width="3.8" />
<line x1="506.80" y1="939.10" x2="784.60" y2="939.10" stroke="#000" stroke-width="3.2" />
<line x1="508.80" y1="885.15" x2="520.30" y2="885.15" stroke="#000" stroke-width="3" />
<line x1="771.10" y1="885.15" x2="782.60" y2="885.15" stroke="#000" stroke-width="3" />
<line x1="508.80" y1="829.98" x2="515.30" y2="829.98" stroke="#000" stroke-width="3" />
<line x1="776.10" y1="829.98" x2="782.60" y2="829.98" stroke="#000" stroke-width="3" />
<line x1="508.80" y1="774.80" x2="520.30" y2="774.80" stroke="#000" stroke-width="3" />
<line x1="771.10" y1="774.80" x2="782.60" y2="774.80" stroke="#000" stroke-width="3" />
<line x1="508.80" y1="719.62" x2="515.30" y2="719.62" stroke="#000" stroke-width="3" />
<line x1="776.10" y1="719.62" x2="782.60" y2="719.62" stroke="#000" stroke-width="3" />
<line x1="508.80" y1="664.45" x2="520.30" y2="664.45" stroke="#000" stroke-width="3" />
<line x1="771.10" y1="664.45" x2="782.60" y2="664.45" stroke="#000" stroke-width="3" />
<line x1="508.80" y1="609.27" x2="515.30" y2="609.27" stroke="#000" stroke-width="3" />
<line x1="776.10" y1="609.27" x2="782.60" y2="609.27" stroke="#000" stroke-width="3" />
<line x1="542.60" y1="554.10" x2="542.60" y2="563.60" stroke="#000" stroke-width="3" />
<line x1="542.60" y1="939.10" x2="542.60" y2="929.60" stroke="#000" stroke-width="3" />
<line x1="611.50" y1="554.10" x2="611.50" y2="563.60" stroke="#000" stroke-width="3" />
<line x1="611.50" y1="939.10" x2="611.50" y2="929.60" stroke="#000" stroke-width="3" />
<line x1="680.20" y1="554.10" x2="680.20" y2="563.60" stroke="#000" stroke-width="3" />
<line x1="680.20" y1="939.10" x2="680.20" y2="929.60" stroke="#000" stroke-width="3" />
<line x1="748.60" y1="554.10" x2="748.60" y2="563.60" stroke="#000" stroke-width="3" />
<line x1="748.60" y1="939.10" x2="748.60" y2="929.60" stroke="#000" stroke-width="3" />
<text x="502.20" y="893.85" font-size="28" text-anchor="end" >15</text>
<text x="502.20" y="783.50" font-size="28" text-anchor="end" >20</text>
<text x="502.20" y="673.15" font-size="28" text-anchor="end" >25</text>
<text x="502.20" y="562.80" font-size="28" text-anchor="end" >30</text>
<text x="504.66" y="971.40" font-size="27.7" text-anchor="start" >350</text>
<text x="545.86" y="958.40" font-size="15.5" text-anchor="start" >o</text>
<text transform="translate(553.86,971.6) scale(1.17,1)" font-size="27.7">C</text>
<text x="577.72" y="971.40" font-size="27.7" text-anchor="start" >400</text>
<text x="618.92" y="958.40" font-size="15.5" text-anchor="start" >o</text>
<text transform="translate(626.92,971.6) scale(1.17,1)" font-size="27.7">C</text>
<text x="648.22" y="971.40" font-size="27.7" text-anchor="start" >450</text>
<text x="689.42" y="958.40" font-size="15.5" text-anchor="start" >o</text>
<text transform="translate(697.42,971.6) scale(1.17,1)" font-size="27.7">C</text>
<text x="718.89" y="971.40" font-size="27.7" text-anchor="start" >500</text>
<text x="760.09" y="958.40" font-size="15.5" text-anchor="start" >o</text>
<text transform="translate(768.09,971.6) scale(1.17,1)" font-size="27.7">C</text>
<text x="607.60" y="1003.50" font-size="27.2" text-anchor="start" >PMA</text>
<text x="645.30" y="1052.20" font-size="33.5" text-anchor="middle" >(c)</text>
<text transform="translate(458.8,917.9) rotate(-90)" font-size="27">On-state Current <tspan font-style="italic">I</tspan><tspan font-size="17.5" dy="8.5">ON</tspan><tspan dy="-8.5"> (μA/μm)</tspan></text>
<text x="664.46" y="772.80" font-size="19.2" text-anchor="start"  transform="matrix(1.05 0 0 1 -33.22 0)">Max</text>
<text x="663.66" y="863.90" font-size="19.2" text-anchor="start"  transform="matrix(1.05 0 0 1 -33.18 0)">Min</text>
<text x="727.46" y="815.50" font-size="19.2" text-anchor="start"  transform="matrix(1.05 0 0 1 -36.37 0)">Mean</text>
<line x1="723.00" y1="805.40" x2="694.00" y2="812.40" stroke="#0000ff" stroke-width="2.4" />
<path d="M684.5,814.8 L695.5,807.2 L697.8,816.6 Z" fill="#0000ff"/>
<text x="660.67" y="909.00" font-size="23" text-anchor="start" font-style="italic" >L</text>
<text x="673.79" y="916.00" font-size="14.5" text-anchor="start" >G</text>
<text x="689.35" y="909.00" font-size="23" text-anchor="start" >= 4 μm</text>
</svg></body></html>
